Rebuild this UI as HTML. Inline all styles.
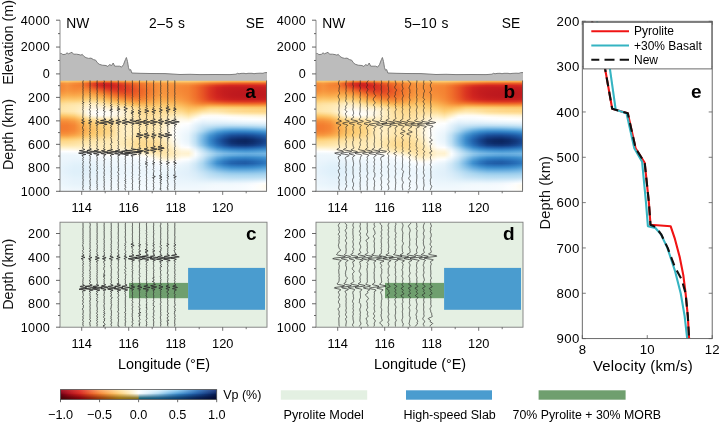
<!DOCTYPE html>
<html lang="en"><head><meta charset="utf-8"><title>Seismic receiver-function figure</title>
<style>html,body{margin:0;padding:0;background:#fff;width:720px;height:424px;overflow:hidden}body{font-family:"Liberation Sans", sans-serif}svg text{font-family:"Liberation Sans", sans-serif}</style></head>
<body>
<svg width="720" height="424" viewBox="0 0 720 424" font-family='"Liberation Sans", sans-serif' style="display:block;will-change:transform;opacity:0.999">
<rect width="720" height="424" fill="#fff"/>
<polygon points="60.0,81.0 60.2,53.4 61.5,53.5 62.9,54.6 65.4,54.3 67.0,52.8 68.5,53.8 70.7,52.8 72.0,52.3 73.5,54.2 76.6,54.2 79.1,54.6 81.0,55.2 82.2,54.3 83.7,56.2 86.0,57.7 88.7,58.4 91.0,58.1 93.5,59.6 95.7,60.2 97.2,62.5 99.1,64.2 102.2,65.2 106.0,65.5 107.9,66.5 109.5,64.6 111.6,65.5 113.2,63.0 114.7,66.2 117.9,66.2 119.7,66.2 121.6,67.1 123.5,64.6 125.4,59.6 126.4,57.5 127.5,61.5 128.5,67.7 129.5,70.2 130.7,69.6 131.8,73.0 140.0,73.3 150.0,73.5 165.0,73.6 172.0,74.0 180.0,74.5 190.0,74.3 200.0,74.6 215.0,74.5 230.0,74.6 236.0,74.2 237.5,73.3 239.0,73.8 241.0,73.4 244.0,73.3 246.0,73.7 248.0,73.3 252.0,73.3 254.0,73.7 256.0,73.4 260.0,73.2 263.0,73.3 264.5,72.7 266.0,72.6 267.0,72.6 267.0,81.0" fill="#bcbcbc" stroke="none"/>
<polyline points="60.2,53.4 61.5,53.5 62.9,54.6 65.4,54.3 67.0,52.8 68.5,53.8 70.7,52.8 72.0,52.3 73.5,54.2 76.6,54.2 79.1,54.6 81.0,55.2 82.2,54.3 83.7,56.2 86.0,57.7 88.7,58.4 91.0,58.1 93.5,59.6 95.7,60.2 97.2,62.5 99.1,64.2 102.2,65.2 106.0,65.5 107.9,66.5 109.5,64.6 111.6,65.5 113.2,63.0 114.7,66.2 117.9,66.2 119.7,66.2 121.6,67.1 123.5,64.6 125.4,59.6 126.4,57.5 127.5,61.5 128.5,67.7 129.5,70.2 130.7,69.6 131.8,73.0 140.0,73.3 150.0,73.5 165.0,73.6 172.0,74.0 180.0,74.5 190.0,74.3 200.0,74.6 215.0,74.5 230.0,74.6 236.0,74.2 237.5,73.3 239.0,73.8 241.0,73.4 244.0,73.3 246.0,73.7 248.0,73.3 252.0,73.3 254.0,73.7 256.0,73.4 260.0,73.2 263.0,73.3 264.5,72.7 266.0,72.6 267.0,72.6" fill="none" stroke="#727272" stroke-width="0.9" stroke-linejoin="round"/>
<clipPath id="clipa"><rect x="60.0" y="80.5" width="207.0" height="110.4"/></clipPath>
<defs><linearGradient id="hg0" x1="0" x2="1" y1="0" y2="0"><stop offset="0.0000" stop-color="#fcbd61"/><stop offset="0.0345" stop-color="#fcc468"/><stop offset="0.0690" stop-color="#fcbc60"/><stop offset="0.1034" stop-color="#fbb75a"/><stop offset="0.1379" stop-color="#f9a146"/><stop offset="0.1724" stop-color="#f58a37"/><stop offset="0.2069" stop-color="#f37f31"/><stop offset="0.2414" stop-color="#f48333"/><stop offset="0.2759" stop-color="#f6903b"/><stop offset="0.3103" stop-color="#f89d43"/><stop offset="0.3448" stop-color="#faa94a"/><stop offset="0.3793" stop-color="#fbb254"/><stop offset="0.4138" stop-color="#fbb85b"/><stop offset="0.4483" stop-color="#fcbe62"/><stop offset="0.4828" stop-color="#fcc468"/><stop offset="0.5172" stop-color="#fcc469"/><stop offset="0.5517" stop-color="#fcc66c"/><stop offset="0.5862" stop-color="#fdc96f"/><stop offset="0.6207" stop-color="#fdc96e"/><stop offset="0.6552" stop-color="#fcc56a"/><stop offset="0.6897" stop-color="#fcbf63"/><stop offset="0.7241" stop-color="#fbb85c"/><stop offset="0.7586" stop-color="#fbb457"/><stop offset="0.7931" stop-color="#fbb052"/><stop offset="0.8276" stop-color="#faad4e"/><stop offset="0.8621" stop-color="#faac4d"/><stop offset="0.8966" stop-color="#faac4d"/><stop offset="0.9310" stop-color="#faac4d"/><stop offset="0.9655" stop-color="#faac4d"/><stop offset="1.0000" stop-color="#faac4d"/></linearGradient><linearGradient id="hg1" x1="0" x2="1" y1="0" y2="0"><stop offset="0.0000" stop-color="#f68e3a"/><stop offset="0.0345" stop-color="#f89a41"/><stop offset="0.0690" stop-color="#f68d39"/><stop offset="0.1034" stop-color="#f48534"/><stop offset="0.1379" stop-color="#ec6026"/><stop offset="0.1724" stop-color="#dd3a22"/><stop offset="0.2069" stop-color="#d42620"/><stop offset="0.2414" stop-color="#d62920"/><stop offset="0.2759" stop-color="#de3d22"/><stop offset="0.3103" stop-color="#e75225"/><stop offset="0.3448" stop-color="#ed6628"/><stop offset="0.3793" stop-color="#f1772e"/><stop offset="0.4138" stop-color="#f48534"/><stop offset="0.4483" stop-color="#f6903b"/><stop offset="0.4828" stop-color="#f89b42"/><stop offset="0.5172" stop-color="#f89c42"/><stop offset="0.5517" stop-color="#f89d43"/><stop offset="0.5862" stop-color="#f8a045"/><stop offset="0.6207" stop-color="#f89e44"/><stop offset="0.6552" stop-color="#f7953e"/><stop offset="0.6897" stop-color="#f58735"/><stop offset="0.7241" stop-color="#f2782e"/><stop offset="0.7586" stop-color="#ef6d2b"/><stop offset="0.7931" stop-color="#ed6528"/><stop offset="0.8276" stop-color="#eb5d26"/><stop offset="0.8621" stop-color="#ea5b26"/><stop offset="0.8966" stop-color="#ea5b26"/><stop offset="0.9310" stop-color="#ea5b26"/><stop offset="0.9655" stop-color="#ea5c26"/><stop offset="1.0000" stop-color="#eb5d26"/></linearGradient><linearGradient id="hg2" x1="0" x2="1" y1="0" y2="0"><stop offset="0.0000" stop-color="#f48534"/><stop offset="0.0345" stop-color="#f6913c"/><stop offset="0.0690" stop-color="#f48433"/><stop offset="0.1034" stop-color="#f37f31"/><stop offset="0.1379" stop-color="#eb5e26"/><stop offset="0.1724" stop-color="#db3621"/><stop offset="0.2069" stop-color="#cd221f"/><stop offset="0.2414" stop-color="#cb211f"/><stop offset="0.2759" stop-color="#d62920"/><stop offset="0.3103" stop-color="#de3c22"/><stop offset="0.3448" stop-color="#e65224"/><stop offset="0.3793" stop-color="#ee6929"/><stop offset="0.4138" stop-color="#f2792f"/><stop offset="0.4483" stop-color="#f58735"/><stop offset="0.4828" stop-color="#f7943d"/><stop offset="0.5172" stop-color="#f7933d"/><stop offset="0.5517" stop-color="#f6913b"/><stop offset="0.5862" stop-color="#f68d39"/><stop offset="0.6207" stop-color="#f58936"/><stop offset="0.6552" stop-color="#f2782f"/><stop offset="0.6897" stop-color="#ed6327"/><stop offset="0.7241" stop-color="#e44c24"/><stop offset="0.7586" stop-color="#dd3922"/><stop offset="0.7931" stop-color="#d82e21"/><stop offset="0.8276" stop-color="#d62820"/><stop offset="0.8621" stop-color="#d52820"/><stop offset="0.8966" stop-color="#d52720"/><stop offset="0.9310" stop-color="#d52720"/><stop offset="0.9655" stop-color="#d62920"/><stop offset="1.0000" stop-color="#d82c20"/></linearGradient><linearGradient id="hg3" x1="0" x2="1" y1="0" y2="0"><stop offset="0.0000" stop-color="#f48534"/><stop offset="0.0345" stop-color="#f6923c"/><stop offset="0.0690" stop-color="#f58635"/><stop offset="0.1034" stop-color="#f48534"/><stop offset="0.1379" stop-color="#ef6e2b"/><stop offset="0.1724" stop-color="#e44c24"/><stop offset="0.2069" stop-color="#da3121"/><stop offset="0.2414" stop-color="#d52720"/><stop offset="0.2759" stop-color="#d72c20"/><stop offset="0.3103" stop-color="#dd3922"/><stop offset="0.3448" stop-color="#e44c24"/><stop offset="0.3793" stop-color="#ed6427"/><stop offset="0.4138" stop-color="#f1752e"/><stop offset="0.4483" stop-color="#f58634"/><stop offset="0.4828" stop-color="#f7943d"/><stop offset="0.5172" stop-color="#f7933c"/><stop offset="0.5517" stop-color="#f68e39"/><stop offset="0.5862" stop-color="#f58836"/><stop offset="0.6207" stop-color="#f48332"/><stop offset="0.6552" stop-color="#f06f2b"/><stop offset="0.6897" stop-color="#e85625"/><stop offset="0.7241" stop-color="#dd3a22"/><stop offset="0.7586" stop-color="#d32620"/><stop offset="0.7931" stop-color="#ca201f"/><stop offset="0.8276" stop-color="#c61e1f"/><stop offset="0.8621" stop-color="#c51d1e"/><stop offset="0.8966" stop-color="#c51d1e"/><stop offset="0.9310" stop-color="#c51d1e"/><stop offset="0.9655" stop-color="#c61e1f"/><stop offset="1.0000" stop-color="#ca201f"/></linearGradient><linearGradient id="hg4" x1="0" x2="1" y1="0" y2="0"><stop offset="0.0000" stop-color="#f58634"/><stop offset="0.0345" stop-color="#f7933d"/><stop offset="0.0690" stop-color="#f58b37"/><stop offset="0.1034" stop-color="#f68c38"/><stop offset="0.1379" stop-color="#f38031"/><stop offset="0.1724" stop-color="#ee6829"/><stop offset="0.2069" stop-color="#e54e24"/><stop offset="0.2414" stop-color="#dd3922"/><stop offset="0.2759" stop-color="#db3521"/><stop offset="0.3103" stop-color="#dd3b22"/><stop offset="0.3448" stop-color="#e34924"/><stop offset="0.3793" stop-color="#eb5e26"/><stop offset="0.4138" stop-color="#f0712c"/><stop offset="0.4483" stop-color="#f48433"/><stop offset="0.4828" stop-color="#f7943d"/><stop offset="0.5172" stop-color="#f6923c"/><stop offset="0.5517" stop-color="#f68d39"/><stop offset="0.5862" stop-color="#f58836"/><stop offset="0.6207" stop-color="#f48232"/><stop offset="0.6552" stop-color="#f06f2b"/><stop offset="0.6897" stop-color="#e75425"/><stop offset="0.7241" stop-color="#dc3622"/><stop offset="0.7586" stop-color="#cf241f"/><stop offset="0.7931" stop-color="#c61e1f"/><stop offset="0.8276" stop-color="#c31c1e"/><stop offset="0.8621" stop-color="#c11b1e"/><stop offset="0.8966" stop-color="#c01a1e"/><stop offset="0.9310" stop-color="#c01a1e"/><stop offset="0.9655" stop-color="#c21b1e"/><stop offset="1.0000" stop-color="#c51d1e"/></linearGradient><linearGradient id="hg5" x1="0" x2="1" y1="0" y2="0"><stop offset="0.0000" stop-color="#f68d39"/><stop offset="0.0345" stop-color="#f79940"/><stop offset="0.0690" stop-color="#f6933c"/><stop offset="0.1034" stop-color="#f7963e"/><stop offset="0.1379" stop-color="#f6913b"/><stop offset="0.1724" stop-color="#f37f31"/><stop offset="0.2069" stop-color="#ee6929"/><stop offset="0.2414" stop-color="#e65124"/><stop offset="0.2759" stop-color="#e14523"/><stop offset="0.3103" stop-color="#e14423"/><stop offset="0.3448" stop-color="#e54d24"/><stop offset="0.3793" stop-color="#ec5f26"/><stop offset="0.4138" stop-color="#f0722c"/><stop offset="0.4483" stop-color="#f48534"/><stop offset="0.4828" stop-color="#f7953e"/><stop offset="0.5172" stop-color="#f6933c"/><stop offset="0.5517" stop-color="#f68e3a"/><stop offset="0.5862" stop-color="#f58937"/><stop offset="0.6207" stop-color="#f48332"/><stop offset="0.6552" stop-color="#f06f2b"/><stop offset="0.6897" stop-color="#e75425"/><stop offset="0.7241" stop-color="#db3521"/><stop offset="0.7586" stop-color="#ce231f"/><stop offset="0.7931" stop-color="#c51d1e"/><stop offset="0.8276" stop-color="#c11b1e"/><stop offset="0.8621" stop-color="#bf191e"/><stop offset="0.8966" stop-color="#be191e"/><stop offset="0.9310" stop-color="#be191e"/><stop offset="0.9655" stop-color="#bf1a1e"/><stop offset="1.0000" stop-color="#c31c1e"/></linearGradient><linearGradient id="hg6" x1="0" x2="1" y1="0" y2="0"><stop offset="0.0000" stop-color="#f7973f"/><stop offset="0.0345" stop-color="#f9a246"/><stop offset="0.0690" stop-color="#f89d43"/><stop offset="0.1034" stop-color="#f9a146"/><stop offset="0.1379" stop-color="#f9a246"/><stop offset="0.1724" stop-color="#f7953e"/><stop offset="0.2069" stop-color="#f48132"/><stop offset="0.2414" stop-color="#ee6a2a"/><stop offset="0.2759" stop-color="#e95a25"/><stop offset="0.3103" stop-color="#e75225"/><stop offset="0.3448" stop-color="#e85525"/><stop offset="0.3793" stop-color="#ed6327"/><stop offset="0.4138" stop-color="#f1742d"/><stop offset="0.4483" stop-color="#f58835"/><stop offset="0.4828" stop-color="#f79840"/><stop offset="0.5172" stop-color="#f7943e"/><stop offset="0.5517" stop-color="#f6903b"/><stop offset="0.5862" stop-color="#f58c38"/><stop offset="0.6207" stop-color="#f48333"/><stop offset="0.6552" stop-color="#f06f2b"/><stop offset="0.6897" stop-color="#e75425"/><stop offset="0.7241" stop-color="#db3521"/><stop offset="0.7586" stop-color="#ce231f"/><stop offset="0.7931" stop-color="#c51d1e"/><stop offset="0.8276" stop-color="#c01a1e"/><stop offset="0.8621" stop-color="#be191e"/><stop offset="0.8966" stop-color="#bd181e"/><stop offset="0.9310" stop-color="#bd181e"/><stop offset="0.9655" stop-color="#be191e"/><stop offset="1.0000" stop-color="#c21b1e"/></linearGradient><linearGradient id="hg7" x1="0" x2="1" y1="0" y2="0"><stop offset="0.0000" stop-color="#f9a447"/><stop offset="0.0345" stop-color="#faad4e"/><stop offset="0.0690" stop-color="#faaa4b"/><stop offset="0.1034" stop-color="#faae4f"/><stop offset="0.1379" stop-color="#fbb254"/><stop offset="0.1724" stop-color="#faab4c"/><stop offset="0.2069" stop-color="#f79940"/><stop offset="0.2414" stop-color="#f48232"/><stop offset="0.2759" stop-color="#ef6f2b"/><stop offset="0.3103" stop-color="#ed6427"/><stop offset="0.3448" stop-color="#ec6126"/><stop offset="0.3793" stop-color="#ee6929"/><stop offset="0.4138" stop-color="#f2792f"/><stop offset="0.4483" stop-color="#f68c38"/><stop offset="0.4828" stop-color="#f89c42"/><stop offset="0.5172" stop-color="#f79840"/><stop offset="0.5517" stop-color="#f7933d"/><stop offset="0.5862" stop-color="#f68f3a"/><stop offset="0.6207" stop-color="#f48534"/><stop offset="0.6552" stop-color="#f0702c"/><stop offset="0.6897" stop-color="#e85525"/><stop offset="0.7241" stop-color="#db3621"/><stop offset="0.7586" stop-color="#d0241f"/><stop offset="0.7931" stop-color="#c61e1f"/><stop offset="0.8276" stop-color="#c11a1e"/><stop offset="0.8621" stop-color="#be191e"/><stop offset="0.8966" stop-color="#bd181e"/><stop offset="0.9310" stop-color="#bd181e"/><stop offset="0.9655" stop-color="#bf191e"/><stop offset="1.0000" stop-color="#c21c1e"/></linearGradient><linearGradient id="hg8" x1="0" x2="1" y1="0" y2="0"><stop offset="0.0000" stop-color="#fbb356"/><stop offset="0.0345" stop-color="#fbba5e"/><stop offset="0.0690" stop-color="#fbb85b"/><stop offset="0.1034" stop-color="#fcbc5f"/><stop offset="0.1379" stop-color="#fcc267"/><stop offset="0.1724" stop-color="#fcbc60"/><stop offset="0.2069" stop-color="#faaf50"/><stop offset="0.2414" stop-color="#f89a41"/><stop offset="0.2759" stop-color="#f58735"/><stop offset="0.3103" stop-color="#f2792f"/><stop offset="0.3448" stop-color="#f0722c"/><stop offset="0.3793" stop-color="#f1742d"/><stop offset="0.4138" stop-color="#f48232"/><stop offset="0.4483" stop-color="#f7933d"/><stop offset="0.4828" stop-color="#f9a447"/><stop offset="0.5172" stop-color="#f89e44"/><stop offset="0.5517" stop-color="#f79940"/><stop offset="0.5862" stop-color="#f7933d"/><stop offset="0.6207" stop-color="#f58735"/><stop offset="0.6552" stop-color="#f0722c"/><stop offset="0.6897" stop-color="#e95725"/><stop offset="0.7241" stop-color="#dd3922"/><stop offset="0.7586" stop-color="#d32620"/><stop offset="0.7931" stop-color="#ca201f"/><stop offset="0.8276" stop-color="#c41c1e"/><stop offset="0.8621" stop-color="#c21b1e"/><stop offset="0.8966" stop-color="#c01a1e"/><stop offset="0.9310" stop-color="#c01a1e"/><stop offset="0.9655" stop-color="#c21b1e"/><stop offset="1.0000" stop-color="#c51d1e"/></linearGradient><linearGradient id="hg9" x1="0" x2="1" y1="0" y2="0"><stop offset="0.0000" stop-color="#fcc267"/><stop offset="0.0345" stop-color="#fdc86e"/><stop offset="0.0690" stop-color="#fdc76c"/><stop offset="0.1034" stop-color="#fdca70"/><stop offset="0.1379" stop-color="#fdd27e"/><stop offset="0.1724" stop-color="#fdce76"/><stop offset="0.2069" stop-color="#fcc266"/><stop offset="0.2414" stop-color="#fbb152"/><stop offset="0.2759" stop-color="#f89f44"/><stop offset="0.3103" stop-color="#f6903b"/><stop offset="0.3448" stop-color="#f48534"/><stop offset="0.3793" stop-color="#f48232"/><stop offset="0.4138" stop-color="#f68c38"/><stop offset="0.4483" stop-color="#f89c42"/><stop offset="0.4828" stop-color="#faac4d"/><stop offset="0.5172" stop-color="#f9a649"/><stop offset="0.5517" stop-color="#f9a045"/><stop offset="0.5862" stop-color="#f79941"/><stop offset="0.6207" stop-color="#f58b38"/><stop offset="0.6552" stop-color="#f1762e"/><stop offset="0.6897" stop-color="#eb5c26"/><stop offset="0.7241" stop-color="#df4023"/><stop offset="0.7586" stop-color="#d82e21"/><stop offset="0.7931" stop-color="#d12520"/><stop offset="0.8276" stop-color="#cb211f"/><stop offset="0.8621" stop-color="#c91f1f"/><stop offset="0.8966" stop-color="#c71f1f"/><stop offset="0.9310" stop-color="#c71f1f"/><stop offset="0.9655" stop-color="#c9201f"/><stop offset="1.0000" stop-color="#cd221f"/></linearGradient><linearGradient id="hg10" x1="0" x2="1" y1="0" y2="0"><stop offset="0.0000" stop-color="#fdd079"/><stop offset="0.0345" stop-color="#fed585"/><stop offset="0.0690" stop-color="#fed585"/><stop offset="0.1034" stop-color="#fed88c"/><stop offset="0.1379" stop-color="#fee09d"/><stop offset="0.1724" stop-color="#fedd97"/><stop offset="0.2069" stop-color="#fdd483"/><stop offset="0.2414" stop-color="#fcc56a"/><stop offset="0.2759" stop-color="#fbb95c"/><stop offset="0.3103" stop-color="#faac4d"/><stop offset="0.3448" stop-color="#f89e44"/><stop offset="0.3793" stop-color="#f7963f"/><stop offset="0.4138" stop-color="#f89c42"/><stop offset="0.4483" stop-color="#faa94b"/><stop offset="0.4828" stop-color="#fbb558"/><stop offset="0.5172" stop-color="#fbb153"/><stop offset="0.5517" stop-color="#faac4d"/><stop offset="0.5862" stop-color="#f9a347"/><stop offset="0.6207" stop-color="#f7943d"/><stop offset="0.6552" stop-color="#f37f31"/><stop offset="0.6897" stop-color="#ee6a2a"/><stop offset="0.7241" stop-color="#e95825"/><stop offset="0.7586" stop-color="#e34a24"/><stop offset="0.7931" stop-color="#df4023"/><stop offset="0.8276" stop-color="#dd3922"/><stop offset="0.8621" stop-color="#db3621"/><stop offset="0.8966" stop-color="#db3421"/><stop offset="0.9310" stop-color="#db3421"/><stop offset="0.9655" stop-color="#dc3622"/><stop offset="1.0000" stop-color="#dd3b22"/></linearGradient><linearGradient id="hg11" x1="0" x2="1" y1="0" y2="0"><stop offset="0.0000" stop-color="#feda90"/><stop offset="0.0345" stop-color="#fedf9c"/><stop offset="0.0690" stop-color="#fee1a0"/><stop offset="0.1034" stop-color="#ffe5a9"/><stop offset="0.1379" stop-color="#ffecbb"/><stop offset="0.1724" stop-color="#ffebb8"/><stop offset="0.2069" stop-color="#ffe4a6"/><stop offset="0.2414" stop-color="#fed88c"/><stop offset="0.2759" stop-color="#fdd07a"/><stop offset="0.3103" stop-color="#fcc56a"/><stop offset="0.3448" stop-color="#fbb85a"/><stop offset="0.3793" stop-color="#faae4f"/><stop offset="0.4138" stop-color="#faaf50"/><stop offset="0.4483" stop-color="#fbb659"/><stop offset="0.4828" stop-color="#fcc065"/><stop offset="0.5172" stop-color="#fcbe62"/><stop offset="0.5517" stop-color="#fbb85b"/><stop offset="0.5862" stop-color="#faaf51"/><stop offset="0.6207" stop-color="#f89f44"/><stop offset="0.6552" stop-color="#f68c38"/><stop offset="0.6897" stop-color="#f38031"/><stop offset="0.7241" stop-color="#f27b2f"/><stop offset="0.7586" stop-color="#f0722c"/><stop offset="0.7931" stop-color="#ef6b2a"/><stop offset="0.8276" stop-color="#ed6628"/><stop offset="0.8621" stop-color="#ed6427"/><stop offset="0.8966" stop-color="#ed6227"/><stop offset="0.9310" stop-color="#ed6227"/><stop offset="0.9655" stop-color="#ed6427"/><stop offset="1.0000" stop-color="#ee6829"/></linearGradient><linearGradient id="hg12" x1="0" x2="1" y1="0" y2="0"><stop offset="0.0000" stop-color="#fee09d"/><stop offset="0.0345" stop-color="#ffe5a8"/><stop offset="0.0690" stop-color="#ffe7ae"/><stop offset="0.1034" stop-color="#ffebb8"/><stop offset="0.1379" stop-color="#fff2ce"/><stop offset="0.1724" stop-color="#fff2d0"/><stop offset="0.2069" stop-color="#ffeec1"/><stop offset="0.2414" stop-color="#ffe6aa"/><stop offset="0.2759" stop-color="#fee19f"/><stop offset="0.3103" stop-color="#fed98d"/><stop offset="0.3448" stop-color="#fdce75"/><stop offset="0.3793" stop-color="#fcc367"/><stop offset="0.4138" stop-color="#fcc065"/><stop offset="0.4483" stop-color="#fcc469"/><stop offset="0.4828" stop-color="#fdcc71"/><stop offset="0.5172" stop-color="#fdc96f"/><stop offset="0.5517" stop-color="#fcc368"/><stop offset="0.5862" stop-color="#fbbb5e"/><stop offset="0.6207" stop-color="#faad4e"/><stop offset="0.6552" stop-color="#f9a246"/><stop offset="0.6897" stop-color="#f89f44"/><stop offset="0.7241" stop-color="#f9a649"/><stop offset="0.7586" stop-color="#f9a347"/><stop offset="0.7931" stop-color="#f89f44"/><stop offset="0.8276" stop-color="#f89c42"/><stop offset="0.8621" stop-color="#f89a41"/><stop offset="0.8966" stop-color="#f79840"/><stop offset="0.9310" stop-color="#f7973f"/><stop offset="0.9655" stop-color="#f79840"/><stop offset="1.0000" stop-color="#f89a41"/></linearGradient><linearGradient id="hg13" x1="0" x2="1" y1="0" y2="0"><stop offset="0.0000" stop-color="#fee3a4"/><stop offset="0.0345" stop-color="#ffe7ad"/><stop offset="0.0690" stop-color="#ffeab3"/><stop offset="0.1034" stop-color="#ffedc0"/><stop offset="0.1379" stop-color="#fff5d9"/><stop offset="0.1724" stop-color="#fff6de"/><stop offset="0.2069" stop-color="#fff4d6"/><stop offset="0.2414" stop-color="#ffefc6"/><stop offset="0.2759" stop-color="#ffeec0"/><stop offset="0.3103" stop-color="#ffe8b1"/><stop offset="0.3448" stop-color="#fedf9b"/><stop offset="0.3793" stop-color="#fed584"/><stop offset="0.4138" stop-color="#fdd07a"/><stop offset="0.4483" stop-color="#fdd17c"/><stop offset="0.4828" stop-color="#fed483"/><stop offset="0.5172" stop-color="#fdd27f"/><stop offset="0.5517" stop-color="#fdce76"/><stop offset="0.5862" stop-color="#fcc76c"/><stop offset="0.6207" stop-color="#fbba5d"/><stop offset="0.6552" stop-color="#fbb75a"/><stop offset="0.6897" stop-color="#fcbe62"/><stop offset="0.7241" stop-color="#fdcb71"/><stop offset="0.7586" stop-color="#fdcd73"/><stop offset="0.7931" stop-color="#fdcb71"/><stop offset="0.8276" stop-color="#fdc96f"/><stop offset="0.8621" stop-color="#fdc86d"/><stop offset="0.8966" stop-color="#fcc66b"/><stop offset="0.9310" stop-color="#fcc56a"/><stop offset="0.9655" stop-color="#fcc469"/><stop offset="1.0000" stop-color="#fcc56a"/></linearGradient><linearGradient id="hg14" x1="0" x2="1" y1="0" y2="0"><stop offset="0.0000" stop-color="#ffe4a6"/><stop offset="0.0345" stop-color="#ffe8af"/><stop offset="0.0690" stop-color="#ffeab5"/><stop offset="0.1034" stop-color="#ffefc6"/><stop offset="0.1379" stop-color="#fff8e5"/><stop offset="0.1724" stop-color="#fffaed"/><stop offset="0.2069" stop-color="#fff9e9"/><stop offset="0.2414" stop-color="#fff6dd"/><stop offset="0.2759" stop-color="#fff4d8"/><stop offset="0.3103" stop-color="#fff0c8"/><stop offset="0.3448" stop-color="#ffe8af"/><stop offset="0.3793" stop-color="#fedc95"/><stop offset="0.4138" stop-color="#fed78a"/><stop offset="0.4483" stop-color="#fed688"/><stop offset="0.4828" stop-color="#fed98e"/><stop offset="0.5172" stop-color="#fed88b"/><stop offset="0.5517" stop-color="#fed686"/><stop offset="0.5862" stop-color="#fdd17c"/><stop offset="0.6207" stop-color="#fcc56a"/><stop offset="0.6552" stop-color="#fdc96e"/><stop offset="0.6897" stop-color="#fdd380"/><stop offset="0.7241" stop-color="#fedd97"/><stop offset="0.7586" stop-color="#fede99"/><stop offset="0.7931" stop-color="#fedc94"/><stop offset="0.8276" stop-color="#fed98d"/><stop offset="0.8621" stop-color="#fed789"/><stop offset="0.8966" stop-color="#fed585"/><stop offset="0.9310" stop-color="#fdd482"/><stop offset="0.9655" stop-color="#fdd380"/><stop offset="1.0000" stop-color="#fdd380"/></linearGradient><linearGradient id="hg15" x1="0" x2="1" y1="0" y2="0"><stop offset="0.0000" stop-color="#fee2a2"/><stop offset="0.0345" stop-color="#ffe6ab"/><stop offset="0.0690" stop-color="#ffe9b2"/><stop offset="0.1034" stop-color="#fff0c9"/><stop offset="0.1379" stop-color="#fffbef"/><stop offset="0.1724" stop-color="#fffef9"/><stop offset="0.2069" stop-color="#fffdf6"/><stop offset="0.2414" stop-color="#fffaed"/><stop offset="0.2759" stop-color="#fff8e6"/><stop offset="0.3103" stop-color="#fff3d3"/><stop offset="0.3448" stop-color="#ffebb6"/><stop offset="0.3793" stop-color="#fedf9b"/><stop offset="0.4138" stop-color="#feda8f"/><stop offset="0.4483" stop-color="#fed98e"/><stop offset="0.4828" stop-color="#fedc94"/><stop offset="0.5172" stop-color="#fedc94"/><stop offset="0.5517" stop-color="#fedc95"/><stop offset="0.5862" stop-color="#feda90"/><stop offset="0.6207" stop-color="#fdcf77"/><stop offset="0.6552" stop-color="#fed688"/><stop offset="0.6897" stop-color="#fee1a1"/><stop offset="0.7241" stop-color="#ffe7ae"/><stop offset="0.7586" stop-color="#ffe6ab"/><stop offset="0.7931" stop-color="#fee2a2"/><stop offset="0.8276" stop-color="#fedd97"/><stop offset="0.8621" stop-color="#feda91"/><stop offset="0.8966" stop-color="#fed88c"/><stop offset="0.9310" stop-color="#fed789"/><stop offset="0.9655" stop-color="#fed687"/><stop offset="1.0000" stop-color="#fed687"/></linearGradient><linearGradient id="hg16" x1="0" x2="1" y1="0" y2="0"><stop offset="0.0000" stop-color="#fed789"/><stop offset="0.0345" stop-color="#fedb93"/><stop offset="0.0690" stop-color="#fee09e"/><stop offset="0.1034" stop-color="#ffecbb"/><stop offset="0.1379" stop-color="#fffaec"/><stop offset="0.1724" stop-color="#fffefc"/><stop offset="0.2069" stop-color="#fffefb"/><stop offset="0.2414" stop-color="#fffcf3"/><stop offset="0.2759" stop-color="#fff9e8"/><stop offset="0.3103" stop-color="#fff3d4"/><stop offset="0.3448" stop-color="#ffecba"/><stop offset="0.3793" stop-color="#fee1a0"/><stop offset="0.4138" stop-color="#fedc95"/><stop offset="0.4483" stop-color="#fedc95"/><stop offset="0.4828" stop-color="#fedf9b"/><stop offset="0.5172" stop-color="#fee1a0"/><stop offset="0.5517" stop-color="#ffe4a6"/><stop offset="0.5862" stop-color="#ffe3a5"/><stop offset="0.6207" stop-color="#fed98e"/><stop offset="0.6552" stop-color="#ffe3a5"/><stop offset="0.6897" stop-color="#ffefc4"/><stop offset="0.7241" stop-color="#fff2cf"/><stop offset="0.7586" stop-color="#fff1cc"/><stop offset="0.7931" stop-color="#ffeec1"/><stop offset="0.8276" stop-color="#ffeab3"/><stop offset="0.8621" stop-color="#ffe7ae"/><stop offset="0.8966" stop-color="#ffe5a9"/><stop offset="0.9310" stop-color="#ffe4a6"/><stop offset="0.9655" stop-color="#ffe3a4"/><stop offset="1.0000" stop-color="#fee2a3"/></linearGradient><linearGradient id="hg17" x1="0" x2="1" y1="0" y2="0"><stop offset="0.0000" stop-color="#fcc56a"/><stop offset="0.0345" stop-color="#fdcb70"/><stop offset="0.0690" stop-color="#fdd27e"/><stop offset="0.1034" stop-color="#ffe3a5"/><stop offset="0.1379" stop-color="#fff6dd"/><stop offset="0.1724" stop-color="#fffcf3"/><stop offset="0.2069" stop-color="#fffdf6"/><stop offset="0.2414" stop-color="#fffbee"/><stop offset="0.2759" stop-color="#fff7e2"/><stop offset="0.3103" stop-color="#fff2d0"/><stop offset="0.3448" stop-color="#ffecbb"/><stop offset="0.3793" stop-color="#ffe3a4"/><stop offset="0.4138" stop-color="#fedf9b"/><stop offset="0.4483" stop-color="#fedf9c"/><stop offset="0.4828" stop-color="#fee2a3"/><stop offset="0.5172" stop-color="#ffe6ac"/><stop offset="0.5517" stop-color="#ffebb8"/><stop offset="0.5862" stop-color="#ffedbd"/><stop offset="0.6207" stop-color="#ffe4a6"/><stop offset="0.6552" stop-color="#ffefc5"/><stop offset="0.6897" stop-color="#fffaeb"/><stop offset="0.7241" stop-color="#fffcf3"/><stop offset="0.7586" stop-color="#fffcf2"/><stop offset="0.7931" stop-color="#fffaed"/><stop offset="0.8276" stop-color="#fff8e4"/><stop offset="0.8621" stop-color="#fff6df"/><stop offset="0.8966" stop-color="#fff5da"/><stop offset="0.9310" stop-color="#fff4d7"/><stop offset="0.9655" stop-color="#fff3d3"/><stop offset="1.0000" stop-color="#fff2d0"/></linearGradient><linearGradient id="hg18" x1="0" x2="1" y1="0" y2="0"><stop offset="0.0000" stop-color="#fbb153"/><stop offset="0.0345" stop-color="#fbb558"/><stop offset="0.0690" stop-color="#fcbe62"/><stop offset="0.1034" stop-color="#fed585"/><stop offset="0.1379" stop-color="#ffeab5"/><stop offset="0.1724" stop-color="#fff2cf"/><stop offset="0.2069" stop-color="#fff4d6"/><stop offset="0.2414" stop-color="#fff3d2"/><stop offset="0.2759" stop-color="#fff2d1"/><stop offset="0.3103" stop-color="#fff0ca"/><stop offset="0.3448" stop-color="#ffecbb"/><stop offset="0.3793" stop-color="#ffe4a7"/><stop offset="0.4138" stop-color="#fee1a0"/><stop offset="0.4483" stop-color="#fee2a2"/><stop offset="0.4828" stop-color="#ffe5a9"/><stop offset="0.5172" stop-color="#ffebb7"/><stop offset="0.5517" stop-color="#fff0ca"/><stop offset="0.5862" stop-color="#fff3d4"/><stop offset="0.6207" stop-color="#ffeec1"/><stop offset="0.6552" stop-color="#fff8e4"/><stop offset="0.6897" stop-color="#fdfeff"/><stop offset="0.7241" stop-color="#fbfdfe"/><stop offset="0.7586" stop-color="#fbfdfe"/><stop offset="0.7931" stop-color="#fdfeff"/><stop offset="0.8276" stop-color="#fffefc"/><stop offset="0.8621" stop-color="#fffdf9"/><stop offset="0.8966" stop-color="#fffcf5"/><stop offset="0.9310" stop-color="#fffcf2"/><stop offset="0.9655" stop-color="#fffbef"/><stop offset="1.0000" stop-color="#fffaed"/></linearGradient><linearGradient id="hg19" x1="0" x2="1" y1="0" y2="0"><stop offset="0.0000" stop-color="#f89b42"/><stop offset="0.0345" stop-color="#f89e43"/><stop offset="0.0690" stop-color="#faaa4b"/><stop offset="0.1034" stop-color="#fcc368"/><stop offset="0.1379" stop-color="#fed98f"/><stop offset="0.1724" stop-color="#fee2a2"/><stop offset="0.2069" stop-color="#ffe5aa"/><stop offset="0.2414" stop-color="#ffe7ad"/><stop offset="0.2759" stop-color="#ffedbd"/><stop offset="0.3103" stop-color="#ffefc4"/><stop offset="0.3448" stop-color="#ffecbc"/><stop offset="0.3793" stop-color="#ffe5a9"/><stop offset="0.4138" stop-color="#ffe3a4"/><stop offset="0.4483" stop-color="#ffe4a6"/><stop offset="0.4828" stop-color="#ffe7ae"/><stop offset="0.5172" stop-color="#ffeec1"/><stop offset="0.5517" stop-color="#fff4d7"/><stop offset="0.5862" stop-color="#fff8e6"/><stop offset="0.6207" stop-color="#fff6dd"/><stop offset="0.6552" stop-color="#fffefc"/><stop offset="0.6897" stop-color="#f3f9fd"/><stop offset="0.7241" stop-color="#f4fafd"/><stop offset="0.7586" stop-color="#f4fafd"/><stop offset="0.7931" stop-color="#f6fbfe"/><stop offset="0.8276" stop-color="#f9fcfe"/><stop offset="0.8621" stop-color="#fbfdfe"/><stop offset="0.8966" stop-color="#fcfeff"/><stop offset="0.9310" stop-color="#feffff"/><stop offset="0.9655" stop-color="#fffffe"/><stop offset="1.0000" stop-color="#fffefd"/></linearGradient><linearGradient id="hg20" x1="0" x2="1" y1="0" y2="0"><stop offset="0.0000" stop-color="#f58c38"/><stop offset="0.0345" stop-color="#f68e39"/><stop offset="0.0690" stop-color="#f79940"/><stop offset="0.1034" stop-color="#fbb759"/><stop offset="0.1379" stop-color="#fdce76"/><stop offset="0.1724" stop-color="#fed88b"/><stop offset="0.2069" stop-color="#fedc95"/><stop offset="0.2414" stop-color="#fee09d"/><stop offset="0.2759" stop-color="#ffeab4"/><stop offset="0.3103" stop-color="#ffeec1"/><stop offset="0.3448" stop-color="#ffecbc"/><stop offset="0.3793" stop-color="#ffe6ab"/><stop offset="0.4138" stop-color="#ffe4a6"/><stop offset="0.4483" stop-color="#ffe5a9"/><stop offset="0.4828" stop-color="#ffe9b2"/><stop offset="0.5172" stop-color="#fff0c9"/><stop offset="0.5517" stop-color="#fff7e1"/><stop offset="0.5862" stop-color="#fffbf1"/><stop offset="0.6207" stop-color="#fffbf0"/><stop offset="0.6552" stop-color="#f6fbfe"/><stop offset="0.6897" stop-color="#e8f4fc"/><stop offset="0.7241" stop-color="#e9f5fc"/><stop offset="0.7586" stop-color="#e8f4fc"/><stop offset="0.7931" stop-color="#e9f5fc"/><stop offset="0.8276" stop-color="#ecf6fc"/><stop offset="0.8621" stop-color="#eef7fd"/><stop offset="0.8966" stop-color="#eff8fd"/><stop offset="0.9310" stop-color="#f1f9fd"/><stop offset="0.9655" stop-color="#f3f9fd"/><stop offset="1.0000" stop-color="#f4fafe"/></linearGradient><linearGradient id="hg21" x1="0" x2="1" y1="0" y2="0"><stop offset="0.0000" stop-color="#f48332"/><stop offset="0.0345" stop-color="#f48433"/><stop offset="0.0690" stop-color="#f68e3a"/><stop offset="0.1034" stop-color="#faae4f"/><stop offset="0.1379" stop-color="#fcc66b"/><stop offset="0.1724" stop-color="#fdd17d"/><stop offset="0.2069" stop-color="#fed789"/><stop offset="0.2414" stop-color="#fedc95"/><stop offset="0.2759" stop-color="#ffe9b1"/><stop offset="0.3103" stop-color="#ffeec1"/><stop offset="0.3448" stop-color="#ffecbc"/><stop offset="0.3793" stop-color="#ffe7ac"/><stop offset="0.4138" stop-color="#ffe5a9"/><stop offset="0.4483" stop-color="#ffe6ab"/><stop offset="0.4828" stop-color="#ffeab4"/><stop offset="0.5172" stop-color="#fff2cf"/><stop offset="0.5517" stop-color="#fff9e9"/><stop offset="0.5862" stop-color="#fffefa"/><stop offset="0.6207" stop-color="#ffffff"/><stop offset="0.6552" stop-color="#ecf6fc"/><stop offset="0.6897" stop-color="#ddeefa"/><stop offset="0.7241" stop-color="#ddeef9"/><stop offset="0.7586" stop-color="#daedf9"/><stop offset="0.7931" stop-color="#d9ecf9"/><stop offset="0.8276" stop-color="#daedf9"/><stop offset="0.8621" stop-color="#dceef9"/><stop offset="0.8966" stop-color="#deeffa"/><stop offset="0.9310" stop-color="#dff0fa"/><stop offset="0.9655" stop-color="#e2f1fa"/><stop offset="1.0000" stop-color="#e5f2fb"/></linearGradient><linearGradient id="hg22" x1="0" x2="1" y1="0" y2="0"><stop offset="0.0000" stop-color="#f37c30"/><stop offset="0.0345" stop-color="#f37e30"/><stop offset="0.0690" stop-color="#f58735"/><stop offset="0.1034" stop-color="#faa749"/><stop offset="0.1379" stop-color="#fcc064"/><stop offset="0.1724" stop-color="#fdcd73"/><stop offset="0.2069" stop-color="#fdd381"/><stop offset="0.2414" stop-color="#fed98e"/><stop offset="0.2759" stop-color="#ffe8b0"/><stop offset="0.3103" stop-color="#ffeec1"/><stop offset="0.3448" stop-color="#ffedbd"/><stop offset="0.3793" stop-color="#ffe7ae"/><stop offset="0.4138" stop-color="#ffe6ab"/><stop offset="0.4483" stop-color="#ffe7ad"/><stop offset="0.4828" stop-color="#ffebb7"/><stop offset="0.5172" stop-color="#fff3d4"/><stop offset="0.5517" stop-color="#fffbef"/><stop offset="0.5862" stop-color="#fefeff"/><stop offset="0.6207" stop-color="#f9fcfe"/><stop offset="0.6552" stop-color="#e4f2fb"/><stop offset="0.6897" stop-color="#d1e8f7"/><stop offset="0.7241" stop-color="#cbe6f6"/><stop offset="0.7586" stop-color="#c4e2f5"/><stop offset="0.7931" stop-color="#c0e0f4"/><stop offset="0.8276" stop-color="#bee0f4"/><stop offset="0.8621" stop-color="#c0e0f4"/><stop offset="0.8966" stop-color="#c1e1f4"/><stop offset="0.9310" stop-color="#c4e3f5"/><stop offset="0.9655" stop-color="#c8e5f6"/><stop offset="1.0000" stop-color="#cde7f7"/></linearGradient><linearGradient id="hg23" x1="0" x2="1" y1="0" y2="0"><stop offset="0.0000" stop-color="#f27b30"/><stop offset="0.0345" stop-color="#f37d30"/><stop offset="0.0690" stop-color="#f58634"/><stop offset="0.1034" stop-color="#f9a447"/><stop offset="0.1379" stop-color="#fcbd61"/><stop offset="0.1724" stop-color="#fdca6f"/><stop offset="0.2069" stop-color="#fdd17c"/><stop offset="0.2414" stop-color="#fed78a"/><stop offset="0.2759" stop-color="#ffe8af"/><stop offset="0.3103" stop-color="#ffeec3"/><stop offset="0.3448" stop-color="#ffedbd"/><stop offset="0.3793" stop-color="#ffe8b0"/><stop offset="0.4138" stop-color="#ffe7ad"/><stop offset="0.4483" stop-color="#ffe8af"/><stop offset="0.4828" stop-color="#ffecba"/><stop offset="0.5172" stop-color="#fff4d7"/><stop offset="0.5517" stop-color="#fffcf4"/><stop offset="0.5862" stop-color="#fafdfe"/><stop offset="0.6207" stop-color="#f5fafe"/><stop offset="0.6552" stop-color="#dfeffa"/><stop offset="0.6897" stop-color="#c5e3f5"/><stop offset="0.7241" stop-color="#b5dbf2"/><stop offset="0.7586" stop-color="#a4d3ef"/><stop offset="0.7931" stop-color="#98cbec"/><stop offset="0.8276" stop-color="#92c7ea"/><stop offset="0.8621" stop-color="#92c7ea"/><stop offset="0.8966" stop-color="#94c9eb"/><stop offset="0.9310" stop-color="#99ccec"/><stop offset="0.9655" stop-color="#a0d0ee"/><stop offset="1.0000" stop-color="#a9d5f0"/></linearGradient><linearGradient id="hg24" x1="0" x2="1" y1="0" y2="0"><stop offset="0.0000" stop-color="#f37c30"/><stop offset="0.0345" stop-color="#f37e30"/><stop offset="0.0690" stop-color="#f58735"/><stop offset="0.1034" stop-color="#f9a346"/><stop offset="0.1379" stop-color="#fbbb5f"/><stop offset="0.1724" stop-color="#fdc86e"/><stop offset="0.2069" stop-color="#fdd079"/><stop offset="0.2414" stop-color="#fed688"/><stop offset="0.2759" stop-color="#ffe8b0"/><stop offset="0.3103" stop-color="#ffefc4"/><stop offset="0.3448" stop-color="#ffedbe"/><stop offset="0.3793" stop-color="#ffe9b1"/><stop offset="0.4138" stop-color="#ffe7ae"/><stop offset="0.4483" stop-color="#ffe9b1"/><stop offset="0.4828" stop-color="#ffecbc"/><stop offset="0.5172" stop-color="#fff5da"/><stop offset="0.5517" stop-color="#fffdf7"/><stop offset="0.5862" stop-color="#f7fbfe"/><stop offset="0.6207" stop-color="#f1f8fd"/><stop offset="0.6552" stop-color="#daedf9"/><stop offset="0.6897" stop-color="#baddf3"/><stop offset="0.7241" stop-color="#9bcdec"/><stop offset="0.7586" stop-color="#7cbbe5"/><stop offset="0.7931" stop-color="#69afe0"/><stop offset="0.8276" stop-color="#5fa8dc"/><stop offset="0.8621" stop-color="#5ea7dc"/><stop offset="0.8966" stop-color="#5fa7dc"/><stop offset="0.9310" stop-color="#65acde"/><stop offset="0.9655" stop-color="#6db1e2"/><stop offset="1.0000" stop-color="#78b8e4"/></linearGradient><linearGradient id="hg25" x1="0" x2="1" y1="0" y2="0"><stop offset="0.0000" stop-color="#f48332"/><stop offset="0.0345" stop-color="#f48433"/><stop offset="0.0690" stop-color="#f68d39"/><stop offset="0.1034" stop-color="#f9a649"/><stop offset="0.1379" stop-color="#fcbd61"/><stop offset="0.1724" stop-color="#fdc96f"/><stop offset="0.2069" stop-color="#fdd07a"/><stop offset="0.2414" stop-color="#fed789"/><stop offset="0.2759" stop-color="#ffe8b1"/><stop offset="0.3103" stop-color="#ffefc5"/><stop offset="0.3448" stop-color="#ffedbe"/><stop offset="0.3793" stop-color="#ffe8b0"/><stop offset="0.4138" stop-color="#ffe7ad"/><stop offset="0.4483" stop-color="#ffe8b0"/><stop offset="0.4828" stop-color="#ffecbb"/><stop offset="0.5172" stop-color="#fff5da"/><stop offset="0.5517" stop-color="#fffefa"/><stop offset="0.5862" stop-color="#f5fafe"/><stop offset="0.6207" stop-color="#edf7fd"/><stop offset="0.6552" stop-color="#d1e9f7"/><stop offset="0.6897" stop-color="#aad6f0"/><stop offset="0.7241" stop-color="#7bbae5"/><stop offset="0.7586" stop-color="#57a2d9"/><stop offset="0.7931" stop-color="#4092d0"/><stop offset="0.8276" stop-color="#3988c9"/><stop offset="0.8621" stop-color="#3785c8"/><stop offset="0.8966" stop-color="#3786c8"/><stop offset="0.9310" stop-color="#3a8acb"/><stop offset="0.9655" stop-color="#4091d0"/><stop offset="1.0000" stop-color="#4d9bd5"/></linearGradient><linearGradient id="hg26" x1="0" x2="1" y1="0" y2="0"><stop offset="0.0000" stop-color="#f68c38"/><stop offset="0.0345" stop-color="#f68e39"/><stop offset="0.0690" stop-color="#f7973f"/><stop offset="0.1034" stop-color="#faad4e"/><stop offset="0.1379" stop-color="#fcc165"/><stop offset="0.1724" stop-color="#fdcc72"/><stop offset="0.2069" stop-color="#fdd27e"/><stop offset="0.2414" stop-color="#fed88c"/><stop offset="0.2759" stop-color="#ffe9b2"/><stop offset="0.3103" stop-color="#ffefc5"/><stop offset="0.3448" stop-color="#ffedbd"/><stop offset="0.3793" stop-color="#ffe8af"/><stop offset="0.4138" stop-color="#ffe6ab"/><stop offset="0.4483" stop-color="#ffe7ae"/><stop offset="0.4828" stop-color="#ffebb9"/><stop offset="0.5172" stop-color="#fff5d9"/><stop offset="0.5517" stop-color="#fffefb"/><stop offset="0.5862" stop-color="#f3f9fd"/><stop offset="0.6207" stop-color="#eaf5fc"/><stop offset="0.6552" stop-color="#c7e4f5"/><stop offset="0.6897" stop-color="#94c9eb"/><stop offset="0.7241" stop-color="#5ea7dc"/><stop offset="0.7586" stop-color="#3b8bcb"/><stop offset="0.7931" stop-color="#2d77be"/><stop offset="0.8276" stop-color="#2469b3"/><stop offset="0.8621" stop-color="#2365af"/><stop offset="0.8966" stop-color="#2265af"/><stop offset="0.9310" stop-color="#256ab4"/><stop offset="0.9655" stop-color="#2a74bc"/><stop offset="1.0000" stop-color="#3380c4"/></linearGradient><linearGradient id="hg27" x1="0" x2="1" y1="0" y2="0"><stop offset="0.0000" stop-color="#f89d43"/><stop offset="0.0345" stop-color="#f89e44"/><stop offset="0.0690" stop-color="#faa84a"/><stop offset="0.1034" stop-color="#fbb75a"/><stop offset="0.1379" stop-color="#fdc86d"/><stop offset="0.1724" stop-color="#fdd17b"/><stop offset="0.2069" stop-color="#fed687"/><stop offset="0.2414" stop-color="#fedb93"/><stop offset="0.2759" stop-color="#ffeab4"/><stop offset="0.3103" stop-color="#ffeec3"/><stop offset="0.3448" stop-color="#ffecba"/><stop offset="0.3793" stop-color="#ffe6ab"/><stop offset="0.4138" stop-color="#ffe4a7"/><stop offset="0.4483" stop-color="#ffe6aa"/><stop offset="0.4828" stop-color="#ffeab4"/><stop offset="0.5172" stop-color="#fff4d6"/><stop offset="0.5517" stop-color="#fffefa"/><stop offset="0.5862" stop-color="#f2f9fd"/><stop offset="0.6207" stop-color="#e8f4fb"/><stop offset="0.6552" stop-color="#c0e0f4"/><stop offset="0.6897" stop-color="#83bfe7"/><stop offset="0.7241" stop-color="#4998d3"/><stop offset="0.7586" stop-color="#2e79bf"/><stop offset="0.7931" stop-color="#2161ab"/><stop offset="0.8276" stop-color="#1a4f99"/><stop offset="0.8621" stop-color="#184a94"/><stop offset="0.8966" stop-color="#184992"/><stop offset="0.9310" stop-color="#1a4f99"/><stop offset="0.9655" stop-color="#1e5aa4"/><stop offset="1.0000" stop-color="#246ab4"/></linearGradient><linearGradient id="hg28" x1="0" x2="1" y1="0" y2="0"><stop offset="0.0000" stop-color="#fbb659"/><stop offset="0.0345" stop-color="#fbb75a"/><stop offset="0.0690" stop-color="#fcbe62"/><stop offset="0.1034" stop-color="#fdc86e"/><stop offset="0.1379" stop-color="#fdd381"/><stop offset="0.1724" stop-color="#fed98e"/><stop offset="0.2069" stop-color="#fedd96"/><stop offset="0.2414" stop-color="#fee19f"/><stop offset="0.2759" stop-color="#ffebb7"/><stop offset="0.3103" stop-color="#ffedbf"/><stop offset="0.3448" stop-color="#ffeab3"/><stop offset="0.3793" stop-color="#ffe3a4"/><stop offset="0.4138" stop-color="#fee1a0"/><stop offset="0.4483" stop-color="#fee3a4"/><stop offset="0.4828" stop-color="#ffe8af"/><stop offset="0.5172" stop-color="#fff2cf"/><stop offset="0.5517" stop-color="#fffdf6"/><stop offset="0.5862" stop-color="#f2f9fd"/><stop offset="0.6207" stop-color="#e7f4fb"/><stop offset="0.6552" stop-color="#bddff4"/><stop offset="0.6897" stop-color="#7bbae5"/><stop offset="0.7241" stop-color="#3e8fce"/><stop offset="0.7586" stop-color="#266db7"/><stop offset="0.7931" stop-color="#1b529c"/><stop offset="0.8276" stop-color="#143e84"/><stop offset="0.8621" stop-color="#12387c"/><stop offset="0.8966" stop-color="#113679"/><stop offset="0.9310" stop-color="#133d82"/><stop offset="0.9655" stop-color="#174992"/><stop offset="1.0000" stop-color="#1e5aa4"/></linearGradient><linearGradient id="hg29" x1="0" x2="1" y1="0" y2="0"><stop offset="0.0000" stop-color="#fdcd73"/><stop offset="0.0345" stop-color="#fdce75"/><stop offset="0.0690" stop-color="#fdd27e"/><stop offset="0.1034" stop-color="#fed78a"/><stop offset="0.1379" stop-color="#fede99"/><stop offset="0.1724" stop-color="#fee2a1"/><stop offset="0.2069" stop-color="#ffe4a6"/><stop offset="0.2414" stop-color="#ffe6ab"/><stop offset="0.2759" stop-color="#ffecba"/><stop offset="0.3103" stop-color="#ffecba"/><stop offset="0.3448" stop-color="#ffe7ad"/><stop offset="0.3793" stop-color="#fee09d"/><stop offset="0.4138" stop-color="#fede98"/><stop offset="0.4483" stop-color="#fee09d"/><stop offset="0.4828" stop-color="#ffe5a9"/><stop offset="0.5172" stop-color="#fff0c7"/><stop offset="0.5517" stop-color="#fffcf2"/><stop offset="0.5862" stop-color="#f2f9fd"/><stop offset="0.6207" stop-color="#e7f4fb"/><stop offset="0.6552" stop-color="#bcdff3"/><stop offset="0.6897" stop-color="#76b7e4"/><stop offset="0.7241" stop-color="#3a8acb"/><stop offset="0.7586" stop-color="#2264ae"/><stop offset="0.7931" stop-color="#17468f"/><stop offset="0.8276" stop-color="#0f3172"/><stop offset="0.8621" stop-color="#0d2a68"/><stop offset="0.8966" stop-color="#0c2864"/><stop offset="0.9310" stop-color="#0e2e6e"/><stop offset="0.9655" stop-color="#133b7f"/><stop offset="1.0000" stop-color="#194d97"/></linearGradient><linearGradient id="hg30" x1="0" x2="1" y1="0" y2="0"><stop offset="0.0000" stop-color="#fed88c"/><stop offset="0.0345" stop-color="#fed98d"/><stop offset="0.0690" stop-color="#fedc95"/><stop offset="0.1034" stop-color="#fee09e"/><stop offset="0.1379" stop-color="#ffe5a8"/><stop offset="0.1724" stop-color="#ffe7ad"/><stop offset="0.2069" stop-color="#ffe8af"/><stop offset="0.2414" stop-color="#ffe9b2"/><stop offset="0.2759" stop-color="#ffecbc"/><stop offset="0.3103" stop-color="#ffebb7"/><stop offset="0.3448" stop-color="#ffe5a8"/><stop offset="0.3793" stop-color="#fedd97"/><stop offset="0.4138" stop-color="#fedb93"/><stop offset="0.4483" stop-color="#fedd97"/><stop offset="0.4828" stop-color="#fee3a4"/><stop offset="0.5172" stop-color="#ffeec0"/><stop offset="0.5517" stop-color="#fffaed"/><stop offset="0.5862" stop-color="#f4fafe"/><stop offset="0.6207" stop-color="#e9f4fc"/><stop offset="0.6552" stop-color="#bddff4"/><stop offset="0.6897" stop-color="#77b8e4"/><stop offset="0.7241" stop-color="#3b8bcb"/><stop offset="0.7586" stop-color="#2264ae"/><stop offset="0.7931" stop-color="#16458e"/><stop offset="0.8276" stop-color="#0e2f6f"/><stop offset="0.8621" stop-color="#0c2863"/><stop offset="0.8966" stop-color="#0b2660"/><stop offset="0.9310" stop-color="#0d2c6a"/><stop offset="0.9655" stop-color="#12387c"/><stop offset="1.0000" stop-color="#194c96"/></linearGradient><linearGradient id="hg31" x1="0" x2="1" y1="0" y2="0"><stop offset="0.0000" stop-color="#fedf9b"/><stop offset="0.0345" stop-color="#fedf9c"/><stop offset="0.0690" stop-color="#fee2a2"/><stop offset="0.1034" stop-color="#ffe6aa"/><stop offset="0.1379" stop-color="#ffe9b1"/><stop offset="0.1724" stop-color="#ffeab4"/><stop offset="0.2069" stop-color="#ffeab5"/><stop offset="0.2414" stop-color="#ffebb7"/><stop offset="0.2759" stop-color="#ffedbe"/><stop offset="0.3103" stop-color="#ffeab5"/><stop offset="0.3448" stop-color="#ffe3a5"/><stop offset="0.3793" stop-color="#fedc94"/><stop offset="0.4138" stop-color="#feda8f"/><stop offset="0.4483" stop-color="#fedb93"/><stop offset="0.4828" stop-color="#fee1a0"/><stop offset="0.5172" stop-color="#ffebb9"/><stop offset="0.5517" stop-color="#fff9e7"/><stop offset="0.5862" stop-color="#f6fbfe"/><stop offset="0.6207" stop-color="#ecf6fc"/><stop offset="0.6552" stop-color="#c1e1f4"/><stop offset="0.6897" stop-color="#7dbbe5"/><stop offset="0.7241" stop-color="#3e8fce"/><stop offset="0.7586" stop-color="#2469b3"/><stop offset="0.7931" stop-color="#184b95"/><stop offset="0.8276" stop-color="#103476"/><stop offset="0.8621" stop-color="#0d2c6b"/><stop offset="0.8966" stop-color="#0d2a68"/><stop offset="0.9310" stop-color="#0f3071"/><stop offset="0.9655" stop-color="#133d83"/><stop offset="1.0000" stop-color="#1a509a"/></linearGradient><linearGradient id="hg32" x1="0" x2="1" y1="0" y2="0"><stop offset="0.0000" stop-color="#ffe6ac"/><stop offset="0.0345" stop-color="#ffe7ad"/><stop offset="0.0690" stop-color="#ffe8b0"/><stop offset="0.1034" stop-color="#ffebb7"/><stop offset="0.1379" stop-color="#ffecbb"/><stop offset="0.1724" stop-color="#ffecbb"/><stop offset="0.2069" stop-color="#ffecba"/><stop offset="0.2414" stop-color="#ffecb9"/><stop offset="0.2759" stop-color="#ffeec1"/><stop offset="0.3103" stop-color="#ffebb8"/><stop offset="0.3448" stop-color="#ffe4a6"/><stop offset="0.3793" stop-color="#fedc94"/><stop offset="0.4138" stop-color="#feda8f"/><stop offset="0.4483" stop-color="#fedb93"/><stop offset="0.4828" stop-color="#fee09e"/><stop offset="0.5172" stop-color="#ffeab3"/><stop offset="0.5517" stop-color="#fff6de"/><stop offset="0.5862" stop-color="#fbfdfe"/><stop offset="0.6207" stop-color="#f2f9fd"/><stop offset="0.6552" stop-color="#c9e5f6"/><stop offset="0.6897" stop-color="#89c2e8"/><stop offset="0.7241" stop-color="#4a99d4"/><stop offset="0.7586" stop-color="#2b75bd"/><stop offset="0.7931" stop-color="#1e58a2"/><stop offset="0.8276" stop-color="#15438a"/><stop offset="0.8621" stop-color="#133c80"/><stop offset="0.8966" stop-color="#12397d"/><stop offset="0.9310" stop-color="#143f85"/><stop offset="0.9655" stop-color="#184b95"/><stop offset="1.0000" stop-color="#1f5da7"/></linearGradient><linearGradient id="hg33" x1="0" x2="1" y1="0" y2="0"><stop offset="0.0000" stop-color="#fff0c8"/><stop offset="0.0345" stop-color="#fff0c8"/><stop offset="0.0690" stop-color="#fff0c8"/><stop offset="0.1034" stop-color="#fff0c7"/><stop offset="0.1379" stop-color="#ffefc5"/><stop offset="0.1724" stop-color="#ffeec1"/><stop offset="0.2069" stop-color="#ffecbb"/><stop offset="0.2414" stop-color="#ffebb7"/><stop offset="0.2759" stop-color="#ffefc6"/><stop offset="0.3103" stop-color="#ffeec2"/><stop offset="0.3448" stop-color="#ffe7ae"/><stop offset="0.3793" stop-color="#fee09d"/><stop offset="0.4138" stop-color="#fedd96"/><stop offset="0.4483" stop-color="#fedd96"/><stop offset="0.4828" stop-color="#fee09f"/><stop offset="0.5172" stop-color="#ffe8af"/><stop offset="0.5517" stop-color="#fff3d3"/><stop offset="0.5862" stop-color="#fffdf7"/><stop offset="0.6207" stop-color="#fdfeff"/><stop offset="0.6552" stop-color="#d9ecf9"/><stop offset="0.6897" stop-color="#a1d1ee"/><stop offset="0.7241" stop-color="#64abde"/><stop offset="0.7586" stop-color="#3a8acb"/><stop offset="0.7931" stop-color="#2a73bb"/><stop offset="0.8276" stop-color="#2162ac"/><stop offset="0.8621" stop-color="#1f5ca6"/><stop offset="0.8966" stop-color="#1e5aa4"/><stop offset="0.9310" stop-color="#205fa9"/><stop offset="0.9655" stop-color="#2468b2"/><stop offset="1.0000" stop-color="#2b75bd"/></linearGradient><linearGradient id="hg34" x1="0" x2="1" y1="0" y2="0"><stop offset="0.0000" stop-color="#fff9e6"/><stop offset="0.0345" stop-color="#fff8e6"/><stop offset="0.0690" stop-color="#fff7e2"/><stop offset="0.1034" stop-color="#fff5da"/><stop offset="0.1379" stop-color="#fff2d1"/><stop offset="0.1724" stop-color="#fff0c9"/><stop offset="0.2069" stop-color="#ffedbf"/><stop offset="0.2414" stop-color="#ffebb7"/><stop offset="0.2759" stop-color="#fff1ce"/><stop offset="0.3103" stop-color="#fff2ce"/><stop offset="0.3448" stop-color="#ffecbb"/><stop offset="0.3793" stop-color="#ffe5a8"/><stop offset="0.4138" stop-color="#fee19f"/><stop offset="0.4483" stop-color="#fee09d"/><stop offset="0.4828" stop-color="#fee1a1"/><stop offset="0.5172" stop-color="#ffe6ac"/><stop offset="0.5517" stop-color="#fff0c7"/><stop offset="0.5862" stop-color="#fff8e6"/><stop offset="0.6207" stop-color="#fffaec"/><stop offset="0.6552" stop-color="#e8f4fb"/><stop offset="0.6897" stop-color="#b8ddf3"/><stop offset="0.7241" stop-color="#82bee7"/><stop offset="0.7586" stop-color="#57a2d9"/><stop offset="0.7931" stop-color="#3e90ce"/><stop offset="0.8276" stop-color="#3684c7"/><stop offset="0.8621" stop-color="#327fc3"/><stop offset="0.8966" stop-color="#307cc2"/><stop offset="0.9310" stop-color="#3380c4"/><stop offset="0.9655" stop-color="#3887c8"/><stop offset="1.0000" stop-color="#3d8ece"/></linearGradient><linearGradient id="hg35" x1="0" x2="1" y1="0" y2="0"><stop offset="0.0000" stop-color="#fefeff"/><stop offset="0.0345" stop-color="#feffff"/><stop offset="0.0690" stop-color="#fffefd"/><stop offset="0.1034" stop-color="#fffcf5"/><stop offset="0.1379" stop-color="#fffaeb"/><stop offset="0.1724" stop-color="#fff7e1"/><stop offset="0.2069" stop-color="#fff3d4"/><stop offset="0.2414" stop-color="#fff1cb"/><stop offset="0.2759" stop-color="#fff6df"/><stop offset="0.3103" stop-color="#fff7e1"/><stop offset="0.3448" stop-color="#fff2d1"/><stop offset="0.3793" stop-color="#ffedbe"/><stop offset="0.4138" stop-color="#ffe9b1"/><stop offset="0.4483" stop-color="#ffe5aa"/><stop offset="0.4828" stop-color="#ffe3a5"/><stop offset="0.5172" stop-color="#ffe6ab"/><stop offset="0.5517" stop-color="#ffedbf"/><stop offset="0.5862" stop-color="#fff4d8"/><stop offset="0.6207" stop-color="#fff5da"/><stop offset="0.6552" stop-color="#f3f9fd"/><stop offset="0.6897" stop-color="#c8e5f6"/><stop offset="0.7241" stop-color="#9dceed"/><stop offset="0.7586" stop-color="#77b7e4"/><stop offset="0.7931" stop-color="#61a9dd"/><stop offset="0.8276" stop-color="#55a0d8"/><stop offset="0.8621" stop-color="#4e9cd6"/><stop offset="0.8966" stop-color="#4a99d4"/><stop offset="0.9310" stop-color="#4e9bd5"/><stop offset="0.9655" stop-color="#54a0d8"/><stop offset="1.0000" stop-color="#5ca5db"/></linearGradient><linearGradient id="hg36" x1="0" x2="1" y1="0" y2="0"><stop offset="0.0000" stop-color="#f2f9fd"/><stop offset="0.0345" stop-color="#f2f9fd"/><stop offset="0.0690" stop-color="#f3f9fd"/><stop offset="0.1034" stop-color="#f6fbfe"/><stop offset="0.1379" stop-color="#fbfdfe"/><stop offset="0.1724" stop-color="#fffefd"/><stop offset="0.2069" stop-color="#fffbf1"/><stop offset="0.2414" stop-color="#fff9e8"/><stop offset="0.2759" stop-color="#fffcf4"/><stop offset="0.3103" stop-color="#fffcf5"/><stop offset="0.3448" stop-color="#fffaea"/><stop offset="0.3793" stop-color="#fff5dc"/><stop offset="0.4138" stop-color="#fff2ce"/><stop offset="0.4483" stop-color="#ffedbd"/><stop offset="0.4828" stop-color="#ffe6ac"/><stop offset="0.5172" stop-color="#ffe6ac"/><stop offset="0.5517" stop-color="#ffecbb"/><stop offset="0.5862" stop-color="#fff2d1"/><stop offset="0.6207" stop-color="#fff2cf"/><stop offset="0.6552" stop-color="#fafdfe"/><stop offset="0.6897" stop-color="#d4eaf8"/><stop offset="0.7241" stop-color="#afd8f1"/><stop offset="0.7586" stop-color="#8fc6ea"/><stop offset="0.7931" stop-color="#7cbae5"/><stop offset="0.8276" stop-color="#71b4e3"/><stop offset="0.8621" stop-color="#6bb0e1"/><stop offset="0.8966" stop-color="#67addf"/><stop offset="0.9310" stop-color="#68aee0"/><stop offset="0.9655" stop-color="#6cb1e1"/><stop offset="1.0000" stop-color="#73b5e3"/></linearGradient><linearGradient id="hg37" x1="0" x2="1" y1="0" y2="0"><stop offset="0.0000" stop-color="#edf7fc"/><stop offset="0.0345" stop-color="#edf6fc"/><stop offset="0.0690" stop-color="#edf6fc"/><stop offset="0.1034" stop-color="#eff8fd"/><stop offset="0.1379" stop-color="#f3f9fd"/><stop offset="0.1724" stop-color="#f8fcfe"/><stop offset="0.2069" stop-color="#fcfeff"/><stop offset="0.2414" stop-color="#fffffe"/><stop offset="0.2759" stop-color="#fcfeff"/><stop offset="0.3103" stop-color="#fcfeff"/><stop offset="0.3448" stop-color="#fffffe"/><stop offset="0.3793" stop-color="#fffcf5"/><stop offset="0.4138" stop-color="#fff9ea"/><stop offset="0.4483" stop-color="#fff4d5"/><stop offset="0.4828" stop-color="#ffebb9"/><stop offset="0.5172" stop-color="#ffeab3"/><stop offset="0.5517" stop-color="#ffeec3"/><stop offset="0.5862" stop-color="#fff5d9"/><stop offset="0.6207" stop-color="#fff5d9"/><stop offset="0.6552" stop-color="#f8fcfe"/><stop offset="0.6897" stop-color="#d3eaf8"/><stop offset="0.7241" stop-color="#abd7f0"/><stop offset="0.7586" stop-color="#86c1e8"/><stop offset="0.7931" stop-color="#6eb2e2"/><stop offset="0.8276" stop-color="#62aadd"/><stop offset="0.8621" stop-color="#5ba5db"/><stop offset="0.8966" stop-color="#58a2d9"/><stop offset="0.9310" stop-color="#5aa4da"/><stop offset="0.9655" stop-color="#5fa7dc"/><stop offset="1.0000" stop-color="#67addf"/></linearGradient><linearGradient id="hg38" x1="0" x2="1" y1="0" y2="0"><stop offset="0.0000" stop-color="#edf6fc"/><stop offset="0.0345" stop-color="#ecf6fc"/><stop offset="0.0690" stop-color="#ebf6fc"/><stop offset="0.1034" stop-color="#edf6fc"/><stop offset="0.1379" stop-color="#f0f8fd"/><stop offset="0.1724" stop-color="#f3f9fd"/><stop offset="0.2069" stop-color="#f6fbfe"/><stop offset="0.2414" stop-color="#f6fbfe"/><stop offset="0.2759" stop-color="#f5fbfe"/><stop offset="0.3103" stop-color="#f6fbfe"/><stop offset="0.3448" stop-color="#f7fbfe"/><stop offset="0.3793" stop-color="#fafcfe"/><stop offset="0.4138" stop-color="#ffffff"/><stop offset="0.4483" stop-color="#fffaec"/><stop offset="0.4828" stop-color="#fff1cd"/><stop offset="0.5172" stop-color="#ffeec3"/><stop offset="0.5517" stop-color="#fff3d2"/><stop offset="0.5862" stop-color="#fffaea"/><stop offset="0.6207" stop-color="#fffbef"/><stop offset="0.6552" stop-color="#eff8fd"/><stop offset="0.6897" stop-color="#cae5f6"/><stop offset="0.7241" stop-color="#9accec"/><stop offset="0.7586" stop-color="#6bb0e1"/><stop offset="0.7931" stop-color="#4f9dd6"/><stop offset="0.8276" stop-color="#3e8fce"/><stop offset="0.8621" stop-color="#3a8acb"/><stop offset="0.8966" stop-color="#3888c9"/><stop offset="0.9310" stop-color="#3b8bcb"/><stop offset="0.9655" stop-color="#3f90cf"/><stop offset="1.0000" stop-color="#4898d3"/></linearGradient><linearGradient id="hg39" x1="0" x2="1" y1="0" y2="0"><stop offset="0.0000" stop-color="#ecf6fc"/><stop offset="0.0345" stop-color="#ebf5fc"/><stop offset="0.0690" stop-color="#e9f4fc"/><stop offset="0.1034" stop-color="#eaf5fc"/><stop offset="0.1379" stop-color="#edf6fc"/><stop offset="0.1724" stop-color="#f0f8fd"/><stop offset="0.2069" stop-color="#f2f9fd"/><stop offset="0.2414" stop-color="#f1f9fd"/><stop offset="0.2759" stop-color="#f2f9fd"/><stop offset="0.3103" stop-color="#f2f9fd"/><stop offset="0.3448" stop-color="#f3f9fd"/><stop offset="0.3793" stop-color="#f4fafe"/><stop offset="0.4138" stop-color="#f8fcfe"/><stop offset="0.4483" stop-color="#fffefc"/><stop offset="0.4828" stop-color="#fff8e4"/><stop offset="0.5172" stop-color="#fff5d9"/><stop offset="0.5517" stop-color="#fff8e6"/><stop offset="0.5862" stop-color="#fffefc"/><stop offset="0.6207" stop-color="#fcfeff"/><stop offset="0.6552" stop-color="#e5f2fb"/><stop offset="0.6897" stop-color="#bfe0f4"/><stop offset="0.7241" stop-color="#89c2e8"/><stop offset="0.7586" stop-color="#56a1d8"/><stop offset="0.7931" stop-color="#3a8aca"/><stop offset="0.8276" stop-color="#2f7ac0"/><stop offset="0.8621" stop-color="#2a74bc"/><stop offset="0.8966" stop-color="#2972ba"/><stop offset="0.9310" stop-color="#2c77be"/><stop offset="0.9655" stop-color="#327ec3"/><stop offset="1.0000" stop-color="#3988ca"/></linearGradient><linearGradient id="hg40" x1="0" x2="1" y1="0" y2="0"><stop offset="0.0000" stop-color="#ebf5fc"/><stop offset="0.0345" stop-color="#e9f4fc"/><stop offset="0.0690" stop-color="#e6f3fb"/><stop offset="0.1034" stop-color="#e6f3fb"/><stop offset="0.1379" stop-color="#eaf5fc"/><stop offset="0.1724" stop-color="#edf6fc"/><stop offset="0.2069" stop-color="#eff7fd"/><stop offset="0.2414" stop-color="#eff7fd"/><stop offset="0.2759" stop-color="#f0f8fd"/><stop offset="0.3103" stop-color="#f1f8fd"/><stop offset="0.3448" stop-color="#f1f8fd"/><stop offset="0.3793" stop-color="#f2f9fd"/><stop offset="0.4138" stop-color="#f5fafe"/><stop offset="0.4483" stop-color="#fafdfe"/><stop offset="0.4828" stop-color="#fffefa"/><stop offset="0.5172" stop-color="#fffbf1"/><stop offset="0.5517" stop-color="#fffefb"/><stop offset="0.5862" stop-color="#f7fbfe"/><stop offset="0.6207" stop-color="#f0f8fd"/><stop offset="0.6552" stop-color="#daedf9"/><stop offset="0.6897" stop-color="#b3daf2"/><stop offset="0.7241" stop-color="#7ab9e5"/><stop offset="0.7586" stop-color="#4394d1"/><stop offset="0.7931" stop-color="#2f7ac0"/><stop offset="0.8276" stop-color="#2468b2"/><stop offset="0.8621" stop-color="#2162ac"/><stop offset="0.8966" stop-color="#2060aa"/><stop offset="0.9310" stop-color="#2366b0"/><stop offset="0.9655" stop-color="#2870b9"/><stop offset="1.0000" stop-color="#317dc2"/></linearGradient><linearGradient id="hg41" x1="0" x2="1" y1="0" y2="0"><stop offset="0.0000" stop-color="#eaf5fc"/><stop offset="0.0345" stop-color="#e7f3fb"/><stop offset="0.0690" stop-color="#e3f2fb"/><stop offset="0.1034" stop-color="#e3f2fb"/><stop offset="0.1379" stop-color="#e7f3fb"/><stop offset="0.1724" stop-color="#ebf5fc"/><stop offset="0.2069" stop-color="#edf6fc"/><stop offset="0.2414" stop-color="#edf6fc"/><stop offset="0.2759" stop-color="#eff7fd"/><stop offset="0.3103" stop-color="#f0f8fd"/><stop offset="0.3448" stop-color="#f0f8fd"/><stop offset="0.3793" stop-color="#f0f8fd"/><stop offset="0.4138" stop-color="#f1f9fd"/><stop offset="0.4483" stop-color="#f4fafe"/><stop offset="0.4828" stop-color="#f9fcfe"/><stop offset="0.5172" stop-color="#fdfeff"/><stop offset="0.5517" stop-color="#f8fcfe"/><stop offset="0.5862" stop-color="#eff7fd"/><stop offset="0.6207" stop-color="#e8f4fb"/><stop offset="0.6552" stop-color="#d1e9f7"/><stop offset="0.6897" stop-color="#acd7f0"/><stop offset="0.7241" stop-color="#74b5e3"/><stop offset="0.7586" stop-color="#3f90cf"/><stop offset="0.7931" stop-color="#2c76be"/><stop offset="0.8276" stop-color="#2264ae"/><stop offset="0.8621" stop-color="#205ea8"/><stop offset="0.8966" stop-color="#1f5ca6"/><stop offset="0.9310" stop-color="#2263ad"/><stop offset="0.9655" stop-color="#266eb8"/><stop offset="1.0000" stop-color="#307cc1"/></linearGradient><linearGradient id="hg42" x1="0" x2="1" y1="0" y2="0"><stop offset="0.0000" stop-color="#e9f4fc"/><stop offset="0.0345" stop-color="#e5f3fb"/><stop offset="0.0690" stop-color="#e1f1fa"/><stop offset="0.1034" stop-color="#e1f1fa"/><stop offset="0.1379" stop-color="#e5f2fb"/><stop offset="0.1724" stop-color="#e9f5fc"/><stop offset="0.2069" stop-color="#ecf6fc"/><stop offset="0.2414" stop-color="#ecf6fc"/><stop offset="0.2759" stop-color="#eef7fd"/><stop offset="0.3103" stop-color="#eef7fd"/><stop offset="0.3448" stop-color="#eef7fd"/><stop offset="0.3793" stop-color="#eef7fd"/><stop offset="0.4138" stop-color="#eff8fd"/><stop offset="0.4483" stop-color="#f1f9fd"/><stop offset="0.4828" stop-color="#f4fafe"/><stop offset="0.5172" stop-color="#f7fbfe"/><stop offset="0.5517" stop-color="#f2f9fd"/><stop offset="0.5862" stop-color="#eaf5fc"/><stop offset="0.6207" stop-color="#e4f2fb"/><stop offset="0.6552" stop-color="#cee7f7"/><stop offset="0.6897" stop-color="#add7f1"/><stop offset="0.7241" stop-color="#7cbbe5"/><stop offset="0.7586" stop-color="#4f9cd6"/><stop offset="0.7931" stop-color="#3786c8"/><stop offset="0.8276" stop-color="#2c77be"/><stop offset="0.8621" stop-color="#2972bb"/><stop offset="0.8966" stop-color="#2972ba"/><stop offset="0.9310" stop-color="#2c77be"/><stop offset="0.9655" stop-color="#3380c4"/><stop offset="1.0000" stop-color="#3b8ccc"/></linearGradient><linearGradient id="hg43" x1="0" x2="1" y1="0" y2="0"><stop offset="0.0000" stop-color="#e8f4fc"/><stop offset="0.0345" stop-color="#e3f2fb"/><stop offset="0.0690" stop-color="#e0f0fa"/><stop offset="0.1034" stop-color="#e0f0fa"/><stop offset="0.1379" stop-color="#e3f2fb"/><stop offset="0.1724" stop-color="#e8f4fc"/><stop offset="0.2069" stop-color="#ebf5fc"/><stop offset="0.2414" stop-color="#eaf5fc"/><stop offset="0.2759" stop-color="#ecf6fc"/><stop offset="0.3103" stop-color="#edf7fd"/><stop offset="0.3448" stop-color="#edf7fd"/><stop offset="0.3793" stop-color="#edf7fd"/><stop offset="0.4138" stop-color="#eef7fd"/><stop offset="0.4483" stop-color="#eff7fd"/><stop offset="0.4828" stop-color="#f1f8fd"/><stop offset="0.5172" stop-color="#f2f9fd"/><stop offset="0.5517" stop-color="#eef7fd"/><stop offset="0.5862" stop-color="#e7f4fb"/><stop offset="0.6207" stop-color="#e2f1fa"/><stop offset="0.6552" stop-color="#cee7f7"/><stop offset="0.6897" stop-color="#b0d9f1"/><stop offset="0.7241" stop-color="#89c2e8"/><stop offset="0.7586" stop-color="#64abde"/><stop offset="0.7931" stop-color="#4c9ad5"/><stop offset="0.8276" stop-color="#3d8ecd"/><stop offset="0.8621" stop-color="#3b8bcb"/><stop offset="0.8966" stop-color="#3b8bcb"/><stop offset="0.9310" stop-color="#3d8ece"/><stop offset="0.9655" stop-color="#4595d2"/><stop offset="1.0000" stop-color="#54a0d8"/></linearGradient><linearGradient id="hg44" x1="0" x2="1" y1="0" y2="0"><stop offset="0.0000" stop-color="#e8f4fb"/><stop offset="0.0345" stop-color="#e3f1fb"/><stop offset="0.0690" stop-color="#dff0fa"/><stop offset="0.1034" stop-color="#dff0fa"/><stop offset="0.1379" stop-color="#e3f1fb"/><stop offset="0.1724" stop-color="#e7f4fb"/><stop offset="0.2069" stop-color="#eaf5fc"/><stop offset="0.2414" stop-color="#eaf5fc"/><stop offset="0.2759" stop-color="#ecf6fc"/><stop offset="0.3103" stop-color="#edf6fc"/><stop offset="0.3448" stop-color="#edf6fc"/><stop offset="0.3793" stop-color="#edf6fc"/><stop offset="0.4138" stop-color="#edf6fc"/><stop offset="0.4483" stop-color="#eef7fd"/><stop offset="0.4828" stop-color="#eff7fd"/><stop offset="0.5172" stop-color="#eff8fd"/><stop offset="0.5517" stop-color="#ebf6fc"/><stop offset="0.5862" stop-color="#e5f3fb"/><stop offset="0.6207" stop-color="#e1f0fa"/><stop offset="0.6552" stop-color="#d0e8f7"/><stop offset="0.6897" stop-color="#b7dcf3"/><stop offset="0.7241" stop-color="#99ccec"/><stop offset="0.7586" stop-color="#7cbae5"/><stop offset="0.7931" stop-color="#67addf"/><stop offset="0.8276" stop-color="#59a4da"/><stop offset="0.8621" stop-color="#57a2d9"/><stop offset="0.8966" stop-color="#57a2d9"/><stop offset="0.9310" stop-color="#5aa4da"/><stop offset="0.9655" stop-color="#62a9dd"/><stop offset="1.0000" stop-color="#6db1e2"/></linearGradient><linearGradient id="hg45" x1="0" x2="1" y1="0" y2="0"><stop offset="0.0000" stop-color="#e8f4fb"/><stop offset="0.0345" stop-color="#e3f1fb"/><stop offset="0.0690" stop-color="#dff0fa"/><stop offset="0.1034" stop-color="#dff0fa"/><stop offset="0.1379" stop-color="#e3f1fb"/><stop offset="0.1724" stop-color="#e7f4fb"/><stop offset="0.2069" stop-color="#eaf5fc"/><stop offset="0.2414" stop-color="#eaf5fc"/><stop offset="0.2759" stop-color="#ecf6fc"/><stop offset="0.3103" stop-color="#edf6fc"/><stop offset="0.3448" stop-color="#edf6fc"/><stop offset="0.3793" stop-color="#edf6fc"/><stop offset="0.4138" stop-color="#edf6fc"/><stop offset="0.4483" stop-color="#edf7fc"/><stop offset="0.4828" stop-color="#eef7fd"/><stop offset="0.5172" stop-color="#eef7fd"/><stop offset="0.5517" stop-color="#eaf5fc"/><stop offset="0.5862" stop-color="#e4f2fb"/><stop offset="0.6207" stop-color="#e1f0fa"/><stop offset="0.6552" stop-color="#d4eaf8"/><stop offset="0.6897" stop-color="#c1e1f4"/><stop offset="0.7241" stop-color="#abd6f0"/><stop offset="0.7586" stop-color="#95c9eb"/><stop offset="0.7931" stop-color="#85c0e7"/><stop offset="0.8276" stop-color="#79b9e5"/><stop offset="0.8621" stop-color="#77b7e4"/><stop offset="0.8966" stop-color="#77b7e4"/><stop offset="0.9310" stop-color="#79b8e4"/><stop offset="0.9655" stop-color="#7ebce6"/><stop offset="1.0000" stop-color="#87c1e8"/></linearGradient><linearGradient id="hg46" x1="0" x2="1" y1="0" y2="0"><stop offset="0.0000" stop-color="#e8f4fc"/><stop offset="0.0345" stop-color="#e3f2fb"/><stop offset="0.0690" stop-color="#e0f0fa"/><stop offset="0.1034" stop-color="#e0f0fa"/><stop offset="0.1379" stop-color="#e3f2fb"/><stop offset="0.1724" stop-color="#e8f4fc"/><stop offset="0.2069" stop-color="#ebf5fc"/><stop offset="0.2414" stop-color="#eaf5fc"/><stop offset="0.2759" stop-color="#ecf6fc"/><stop offset="0.3103" stop-color="#edf7fd"/><stop offset="0.3448" stop-color="#edf7fd"/><stop offset="0.3793" stop-color="#edf7fd"/><stop offset="0.4138" stop-color="#edf7fd"/><stop offset="0.4483" stop-color="#edf7fd"/><stop offset="0.4828" stop-color="#edf7fd"/><stop offset="0.5172" stop-color="#edf7fc"/><stop offset="0.5517" stop-color="#e9f5fc"/><stop offset="0.5862" stop-color="#e4f2fb"/><stop offset="0.6207" stop-color="#e1f0fa"/><stop offset="0.6552" stop-color="#d8ecf9"/><stop offset="0.6897" stop-color="#c9e5f6"/><stop offset="0.7241" stop-color="#b7dcf3"/><stop offset="0.7586" stop-color="#aad6f0"/><stop offset="0.7931" stop-color="#9fcfed"/><stop offset="0.8276" stop-color="#97cbec"/><stop offset="0.8621" stop-color="#95caeb"/><stop offset="0.8966" stop-color="#95caeb"/><stop offset="0.9310" stop-color="#96caeb"/><stop offset="0.9655" stop-color="#99ccec"/><stop offset="1.0000" stop-color="#9fcfed"/></linearGradient><linearGradient id="hg47" x1="0" x2="1" y1="0" y2="0"><stop offset="0.0000" stop-color="#e9f4fc"/><stop offset="0.0345" stop-color="#e5f3fb"/><stop offset="0.0690" stop-color="#e1f1fa"/><stop offset="0.1034" stop-color="#e1f1fa"/><stop offset="0.1379" stop-color="#e5f2fb"/><stop offset="0.1724" stop-color="#e9f5fc"/><stop offset="0.2069" stop-color="#ecf6fc"/><stop offset="0.2414" stop-color="#ecf6fc"/><stop offset="0.2759" stop-color="#edf7fd"/><stop offset="0.3103" stop-color="#eef7fd"/><stop offset="0.3448" stop-color="#eef7fd"/><stop offset="0.3793" stop-color="#eef7fd"/><stop offset="0.4138" stop-color="#eef7fd"/><stop offset="0.4483" stop-color="#eef7fd"/><stop offset="0.4828" stop-color="#eef7fd"/><stop offset="0.5172" stop-color="#edf7fd"/><stop offset="0.5517" stop-color="#eaf5fc"/><stop offset="0.5862" stop-color="#e5f2fb"/><stop offset="0.6207" stop-color="#e2f1fa"/><stop offset="0.6552" stop-color="#dbedf9"/><stop offset="0.6897" stop-color="#cfe8f7"/><stop offset="0.7241" stop-color="#c1e1f4"/><stop offset="0.7586" stop-color="#b7dcf2"/><stop offset="0.7931" stop-color="#b0d9f1"/><stop offset="0.8276" stop-color="#abd6f0"/><stop offset="0.8621" stop-color="#aad6f0"/><stop offset="0.8966" stop-color="#aad6f0"/><stop offset="0.9310" stop-color="#aad6f0"/><stop offset="0.9655" stop-color="#acd7f0"/><stop offset="1.0000" stop-color="#b1d9f1"/></linearGradient><linearGradient id="hg48" x1="0" x2="1" y1="0" y2="0"><stop offset="0.0000" stop-color="#eaf5fc"/><stop offset="0.0345" stop-color="#e7f3fb"/><stop offset="0.0690" stop-color="#e3f2fb"/><stop offset="0.1034" stop-color="#e3f2fb"/><stop offset="0.1379" stop-color="#e7f3fb"/><stop offset="0.1724" stop-color="#eaf5fc"/><stop offset="0.2069" stop-color="#ecf6fc"/><stop offset="0.2414" stop-color="#edf6fc"/><stop offset="0.2759" stop-color="#eff7fd"/><stop offset="0.3103" stop-color="#f0f8fd"/><stop offset="0.3448" stop-color="#f0f8fd"/><stop offset="0.3793" stop-color="#f0f8fd"/><stop offset="0.4138" stop-color="#f0f8fd"/><stop offset="0.4483" stop-color="#f0f8fd"/><stop offset="0.4828" stop-color="#eff8fd"/><stop offset="0.5172" stop-color="#eef7fd"/><stop offset="0.5517" stop-color="#eaf5fc"/><stop offset="0.5862" stop-color="#e6f3fb"/><stop offset="0.6207" stop-color="#e4f2fb"/><stop offset="0.6552" stop-color="#deeffa"/><stop offset="0.6897" stop-color="#d5ebf8"/><stop offset="0.7241" stop-color="#cae5f6"/><stop offset="0.7586" stop-color="#c4e2f5"/><stop offset="0.7931" stop-color="#bee0f4"/><stop offset="0.8276" stop-color="#badef3"/><stop offset="0.8621" stop-color="#b9ddf3"/><stop offset="0.8966" stop-color="#b9ddf3"/><stop offset="0.9310" stop-color="#badef3"/><stop offset="0.9655" stop-color="#bcdff3"/><stop offset="1.0000" stop-color="#c1e1f4"/></linearGradient><linearGradient id="hg49" x1="0" x2="1" y1="0" y2="0"><stop offset="0.0000" stop-color="#ebf5fc"/><stop offset="0.0345" stop-color="#e8f4fc"/><stop offset="0.0690" stop-color="#e5f2fb"/><stop offset="0.1034" stop-color="#e4f2fb"/><stop offset="0.1379" stop-color="#e8f4fb"/><stop offset="0.1724" stop-color="#ebf5fc"/><stop offset="0.2069" stop-color="#edf7fc"/><stop offset="0.2414" stop-color="#eef7fd"/><stop offset="0.2759" stop-color="#f0f8fd"/><stop offset="0.3103" stop-color="#f1f8fd"/><stop offset="0.3448" stop-color="#f1f8fd"/><stop offset="0.3793" stop-color="#f1f8fd"/><stop offset="0.4138" stop-color="#f1f8fd"/><stop offset="0.4483" stop-color="#f1f8fd"/><stop offset="0.4828" stop-color="#f1f8fd"/><stop offset="0.5172" stop-color="#eff7fd"/><stop offset="0.5517" stop-color="#ebf6fc"/><stop offset="0.5862" stop-color="#e8f4fc"/><stop offset="0.6207" stop-color="#e6f3fb"/><stop offset="0.6552" stop-color="#e2f1fa"/><stop offset="0.6897" stop-color="#dceef9"/><stop offset="0.7241" stop-color="#d6ebf8"/><stop offset="0.7586" stop-color="#d2e9f8"/><stop offset="0.7931" stop-color="#cfe8f7"/><stop offset="0.8276" stop-color="#cce6f6"/><stop offset="0.8621" stop-color="#cce6f6"/><stop offset="0.8966" stop-color="#cde7f6"/><stop offset="0.9310" stop-color="#cee7f7"/><stop offset="0.9655" stop-color="#d2e9f7"/><stop offset="1.0000" stop-color="#d8ecf9"/></linearGradient><linearGradient id="hg50" x1="0" x2="1" y1="0" y2="0"><stop offset="0.0000" stop-color="#ecf6fc"/><stop offset="0.0345" stop-color="#e9f4fc"/><stop offset="0.0690" stop-color="#e6f3fb"/><stop offset="0.1034" stop-color="#e6f3fb"/><stop offset="0.1379" stop-color="#e8f4fc"/><stop offset="0.1724" stop-color="#ebf6fc"/><stop offset="0.2069" stop-color="#edf7fd"/><stop offset="0.2414" stop-color="#eff7fd"/><stop offset="0.2759" stop-color="#f1f8fd"/><stop offset="0.3103" stop-color="#f2f9fd"/><stop offset="0.3448" stop-color="#f2f9fd"/><stop offset="0.3793" stop-color="#f2f9fd"/><stop offset="0.4138" stop-color="#f2f9fd"/><stop offset="0.4483" stop-color="#f2f9fd"/><stop offset="0.4828" stop-color="#f2f9fd"/><stop offset="0.5172" stop-color="#f0f8fd"/><stop offset="0.5517" stop-color="#edf6fc"/><stop offset="0.5862" stop-color="#eaf5fc"/><stop offset="0.6207" stop-color="#e9f5fc"/><stop offset="0.6552" stop-color="#e7f3fb"/><stop offset="0.6897" stop-color="#e4f2fb"/><stop offset="0.7241" stop-color="#e2f1fa"/><stop offset="0.7586" stop-color="#e1f1fa"/><stop offset="0.7931" stop-color="#e0f0fa"/><stop offset="0.8276" stop-color="#deeffa"/><stop offset="0.8621" stop-color="#dff0fa"/><stop offset="0.8966" stop-color="#e0f0fa"/><stop offset="0.9310" stop-color="#e4f2fb"/><stop offset="0.9655" stop-color="#e8f4fc"/><stop offset="1.0000" stop-color="#eff7fd"/></linearGradient><linearGradient id="hg51" x1="0" x2="1" y1="0" y2="0"><stop offset="0.0000" stop-color="#ecf6fc"/><stop offset="0.0345" stop-color="#e9f5fc"/><stop offset="0.0690" stop-color="#e7f3fb"/><stop offset="0.1034" stop-color="#e7f3fb"/><stop offset="0.1379" stop-color="#e9f5fc"/><stop offset="0.1724" stop-color="#ecf6fc"/><stop offset="0.2069" stop-color="#eef7fd"/><stop offset="0.2414" stop-color="#f0f8fd"/><stop offset="0.2759" stop-color="#f2f9fd"/><stop offset="0.3103" stop-color="#f3f9fd"/><stop offset="0.3448" stop-color="#f3f9fd"/><stop offset="0.3793" stop-color="#f3f9fd"/><stop offset="0.4138" stop-color="#f3f9fd"/><stop offset="0.4483" stop-color="#f3f9fd"/><stop offset="0.4828" stop-color="#f3f9fd"/><stop offset="0.5172" stop-color="#f1f8fd"/><stop offset="0.5517" stop-color="#eef7fd"/><stop offset="0.5862" stop-color="#ecf6fc"/><stop offset="0.6207" stop-color="#ecf6fc"/><stop offset="0.6552" stop-color="#ebf6fc"/><stop offset="0.6897" stop-color="#ebf6fc"/><stop offset="0.7241" stop-color="#ecf6fc"/><stop offset="0.7586" stop-color="#edf7fd"/><stop offset="0.7931" stop-color="#eef7fd"/><stop offset="0.8276" stop-color="#edf7fd"/><stop offset="0.8621" stop-color="#eff7fd"/><stop offset="0.8966" stop-color="#f1f8fd"/><stop offset="0.9310" stop-color="#f5fafe"/><stop offset="0.9655" stop-color="#fbfdfe"/><stop offset="1.0000" stop-color="#fffef9"/></linearGradient><linearGradient id="hg52" x1="0" x2="1" y1="0" y2="0"><stop offset="0.0000" stop-color="#eef7fd"/><stop offset="0.0345" stop-color="#ebf6fc"/><stop offset="0.0690" stop-color="#e9f5fc"/><stop offset="0.1034" stop-color="#e9f4fc"/><stop offset="0.1379" stop-color="#ebf6fc"/><stop offset="0.1724" stop-color="#edf7fd"/><stop offset="0.2069" stop-color="#eff7fd"/><stop offset="0.2414" stop-color="#f1f8fd"/><stop offset="0.2759" stop-color="#f3f9fd"/><stop offset="0.3103" stop-color="#f4fafd"/><stop offset="0.3448" stop-color="#f4fafd"/><stop offset="0.3793" stop-color="#f4fafd"/><stop offset="0.4138" stop-color="#f4fafd"/><stop offset="0.4483" stop-color="#f4fafd"/><stop offset="0.4828" stop-color="#f4fafd"/><stop offset="0.5172" stop-color="#f2f9fd"/><stop offset="0.5517" stop-color="#f0f8fd"/><stop offset="0.5862" stop-color="#eef7fd"/><stop offset="0.6207" stop-color="#eef7fd"/><stop offset="0.6552" stop-color="#eef7fd"/><stop offset="0.6897" stop-color="#eff8fd"/><stop offset="0.7241" stop-color="#f1f9fd"/><stop offset="0.7586" stop-color="#f3f9fd"/><stop offset="0.7931" stop-color="#f3fafd"/><stop offset="0.8276" stop-color="#f3fafd"/><stop offset="0.8621" stop-color="#f5fafe"/><stop offset="0.8966" stop-color="#f7fbfe"/><stop offset="0.9310" stop-color="#fcfdff"/><stop offset="0.9655" stop-color="#fffefa"/><stop offset="1.0000" stop-color="#fffaed"/></linearGradient><linearGradient id="hg53" x1="0" x2="1" y1="0" y2="0"><stop offset="0.0000" stop-color="#f0f8fd"/><stop offset="0.0345" stop-color="#eef7fd"/><stop offset="0.0690" stop-color="#ecf6fc"/><stop offset="0.1034" stop-color="#ecf6fc"/><stop offset="0.1379" stop-color="#eef7fd"/><stop offset="0.1724" stop-color="#f0f8fd"/><stop offset="0.2069" stop-color="#f1f8fd"/><stop offset="0.2414" stop-color="#f2f9fd"/><stop offset="0.2759" stop-color="#f4fafd"/><stop offset="0.3103" stop-color="#f5fafe"/><stop offset="0.3448" stop-color="#f5fafe"/><stop offset="0.3793" stop-color="#f5fafe"/><stop offset="0.4138" stop-color="#f5fafe"/><stop offset="0.4483" stop-color="#f5fafe"/><stop offset="0.4828" stop-color="#f4fafe"/><stop offset="0.5172" stop-color="#f4fafd"/><stop offset="0.5517" stop-color="#f2f9fd"/><stop offset="0.5862" stop-color="#f0f8fd"/><stop offset="0.6207" stop-color="#f0f8fd"/><stop offset="0.6552" stop-color="#f0f8fd"/><stop offset="0.6897" stop-color="#f1f8fd"/><stop offset="0.7241" stop-color="#f3f9fd"/><stop offset="0.7586" stop-color="#f4fafe"/><stop offset="0.7931" stop-color="#f5fafe"/><stop offset="0.8276" stop-color="#f5fafe"/><stop offset="0.8621" stop-color="#f6fbfe"/><stop offset="0.8966" stop-color="#f8fcfe"/><stop offset="0.9310" stop-color="#fcfeff"/><stop offset="0.9655" stop-color="#fffefa"/><stop offset="1.0000" stop-color="#fffbef"/></linearGradient><linearGradient id="hg54" x1="0" x2="1" y1="0" y2="0"><stop offset="0.0000" stop-color="#f2f9fd"/><stop offset="0.0345" stop-color="#f1f8fd"/><stop offset="0.0690" stop-color="#eff7fd"/><stop offset="0.1034" stop-color="#eff7fd"/><stop offset="0.1379" stop-color="#f1f8fd"/><stop offset="0.1724" stop-color="#f2f9fd"/><stop offset="0.2069" stop-color="#f2f9fd"/><stop offset="0.2414" stop-color="#f3f9fd"/><stop offset="0.2759" stop-color="#f5fafe"/><stop offset="0.3103" stop-color="#f5fbfe"/><stop offset="0.3448" stop-color="#f5fbfe"/><stop offset="0.3793" stop-color="#f5fbfe"/><stop offset="0.4138" stop-color="#f5fbfe"/><stop offset="0.4483" stop-color="#f5fbfe"/><stop offset="0.4828" stop-color="#f5fbfe"/><stop offset="0.5172" stop-color="#f5fafe"/><stop offset="0.5517" stop-color="#f4fafd"/><stop offset="0.5862" stop-color="#f2f9fd"/><stop offset="0.6207" stop-color="#f2f9fd"/><stop offset="0.6552" stop-color="#f2f9fd"/><stop offset="0.6897" stop-color="#f3f9fd"/><stop offset="0.7241" stop-color="#f5fafe"/><stop offset="0.7586" stop-color="#f5fafe"/><stop offset="0.7931" stop-color="#f5fbfe"/><stop offset="0.8276" stop-color="#f6fbfe"/><stop offset="0.8621" stop-color="#f7fbfe"/><stop offset="0.8966" stop-color="#f9fcfe"/><stop offset="0.9310" stop-color="#fdfeff"/><stop offset="0.9655" stop-color="#fffefb"/><stop offset="1.0000" stop-color="#fffcf3"/></linearGradient><linearGradient id="hg55" x1="0" x2="1" y1="0" y2="0"><stop offset="0.0000" stop-color="#f3f9fd"/><stop offset="0.0345" stop-color="#f2f9fd"/><stop offset="0.0690" stop-color="#f0f8fd"/><stop offset="0.1034" stop-color="#f0f8fd"/><stop offset="0.1379" stop-color="#f2f9fd"/><stop offset="0.1724" stop-color="#f3f9fd"/><stop offset="0.2069" stop-color="#f3f9fd"/><stop offset="0.2414" stop-color="#f3f9fd"/><stop offset="0.2759" stop-color="#f5fafe"/><stop offset="0.3103" stop-color="#f6fbfe"/><stop offset="0.3448" stop-color="#f6fbfe"/><stop offset="0.3793" stop-color="#f6fbfe"/><stop offset="0.4138" stop-color="#f6fbfe"/><stop offset="0.4483" stop-color="#f6fbfe"/><stop offset="0.4828" stop-color="#f6fbfe"/><stop offset="0.5172" stop-color="#f6fbfe"/><stop offset="0.5517" stop-color="#f4fafe"/><stop offset="0.5862" stop-color="#f3f9fd"/><stop offset="0.6207" stop-color="#f3f9fd"/><stop offset="0.6552" stop-color="#f3f9fd"/><stop offset="0.6897" stop-color="#f4fafd"/><stop offset="0.7241" stop-color="#f5fbfe"/><stop offset="0.7586" stop-color="#f6fbfe"/><stop offset="0.7931" stop-color="#f6fbfe"/><stop offset="0.8276" stop-color="#f6fbfe"/><stop offset="0.8621" stop-color="#f7fbfe"/><stop offset="0.8966" stop-color="#f9fcfe"/><stop offset="0.9310" stop-color="#fdfeff"/><stop offset="0.9655" stop-color="#fffefc"/><stop offset="1.0000" stop-color="#fffcf4"/></linearGradient></defs>
<g clip-path="url(#clipa)"><rect x="60.0" y="80.50" width="207.0" height="2.60" fill="url(#hg0)"/><rect x="60.0" y="82.50" width="207.0" height="2.60" fill="url(#hg1)"/><rect x="60.0" y="84.50" width="207.0" height="2.60" fill="url(#hg2)"/><rect x="60.0" y="86.50" width="207.0" height="2.60" fill="url(#hg3)"/><rect x="60.0" y="88.50" width="207.0" height="2.60" fill="url(#hg4)"/><rect x="60.0" y="90.50" width="207.0" height="2.60" fill="url(#hg5)"/><rect x="60.0" y="92.50" width="207.0" height="2.60" fill="url(#hg6)"/><rect x="60.0" y="94.50" width="207.0" height="2.60" fill="url(#hg7)"/><rect x="60.0" y="96.50" width="207.0" height="2.60" fill="url(#hg8)"/><rect x="60.0" y="98.50" width="207.0" height="2.60" fill="url(#hg9)"/><rect x="60.0" y="100.50" width="207.0" height="2.60" fill="url(#hg10)"/><rect x="60.0" y="102.50" width="207.0" height="2.60" fill="url(#hg11)"/><rect x="60.0" y="104.50" width="207.0" height="2.60" fill="url(#hg12)"/><rect x="60.0" y="106.50" width="207.0" height="2.60" fill="url(#hg13)"/><rect x="60.0" y="108.50" width="207.0" height="2.60" fill="url(#hg14)"/><rect x="60.0" y="110.50" width="207.0" height="2.60" fill="url(#hg15)"/><rect x="60.0" y="112.50" width="207.0" height="2.60" fill="url(#hg16)"/><rect x="60.0" y="114.50" width="207.0" height="2.60" fill="url(#hg17)"/><rect x="60.0" y="116.50" width="207.0" height="2.60" fill="url(#hg18)"/><rect x="60.0" y="118.50" width="207.0" height="2.60" fill="url(#hg19)"/><rect x="60.0" y="120.50" width="207.0" height="2.60" fill="url(#hg20)"/><rect x="60.0" y="122.50" width="207.0" height="2.60" fill="url(#hg21)"/><rect x="60.0" y="124.50" width="207.0" height="2.60" fill="url(#hg22)"/><rect x="60.0" y="126.50" width="207.0" height="2.60" fill="url(#hg23)"/><rect x="60.0" y="128.50" width="207.0" height="2.60" fill="url(#hg24)"/><rect x="60.0" y="130.50" width="207.0" height="2.60" fill="url(#hg25)"/><rect x="60.0" y="132.50" width="207.0" height="2.60" fill="url(#hg26)"/><rect x="60.0" y="134.50" width="207.0" height="2.60" fill="url(#hg27)"/><rect x="60.0" y="136.50" width="207.0" height="2.60" fill="url(#hg28)"/><rect x="60.0" y="138.50" width="207.0" height="2.60" fill="url(#hg29)"/><rect x="60.0" y="140.50" width="207.0" height="2.60" fill="url(#hg30)"/><rect x="60.0" y="142.50" width="207.0" height="2.60" fill="url(#hg31)"/><rect x="60.0" y="144.50" width="207.0" height="2.60" fill="url(#hg32)"/><rect x="60.0" y="146.50" width="207.0" height="2.60" fill="url(#hg33)"/><rect x="60.0" y="148.50" width="207.0" height="2.60" fill="url(#hg34)"/><rect x="60.0" y="150.50" width="207.0" height="2.60" fill="url(#hg35)"/><rect x="60.0" y="152.50" width="207.0" height="2.60" fill="url(#hg36)"/><rect x="60.0" y="154.50" width="207.0" height="2.60" fill="url(#hg37)"/><rect x="60.0" y="156.50" width="207.0" height="2.60" fill="url(#hg38)"/><rect x="60.0" y="158.50" width="207.0" height="2.60" fill="url(#hg39)"/><rect x="60.0" y="160.50" width="207.0" height="2.60" fill="url(#hg40)"/><rect x="60.0" y="162.50" width="207.0" height="2.60" fill="url(#hg41)"/><rect x="60.0" y="164.50" width="207.0" height="2.60" fill="url(#hg42)"/><rect x="60.0" y="166.50" width="207.0" height="2.60" fill="url(#hg43)"/><rect x="60.0" y="168.50" width="207.0" height="2.60" fill="url(#hg44)"/><rect x="60.0" y="170.50" width="207.0" height="2.60" fill="url(#hg45)"/><rect x="60.0" y="172.50" width="207.0" height="2.60" fill="url(#hg46)"/><rect x="60.0" y="174.50" width="207.0" height="2.60" fill="url(#hg47)"/><rect x="60.0" y="176.50" width="207.0" height="2.60" fill="url(#hg48)"/><rect x="60.0" y="178.50" width="207.0" height="2.60" fill="url(#hg49)"/><rect x="60.0" y="180.50" width="207.0" height="2.60" fill="url(#hg50)"/><rect x="60.0" y="182.50" width="207.0" height="2.60" fill="url(#hg51)"/><rect x="60.0" y="184.50" width="207.0" height="2.60" fill="url(#hg52)"/><rect x="60.0" y="186.50" width="207.0" height="2.60" fill="url(#hg53)"/><rect x="60.0" y="188.50" width="207.0" height="2.60" fill="url(#hg54)"/><rect x="60.0" y="190.50" width="207.0" height="1.00" fill="url(#hg55)"/></g>
<path fill="#606060" fill-opacity="0.75" stroke="none" d="M83.0 102.1 L83.6 102.1 84.0 102.7 L83.0 103.3 ZM83.0 121.3 L84.3 121.3 84.1 121.9 L83.0 122.5 ZM83.0 149.5 L84.9 149.5 83.3 150.1 L83.0 150.7 ZM83.0 151.9 L88.0 151.9 84.2 152.5 L83.0 153.1 ZM83.0 154.3 L85.9 154.3 83.7 154.9 L83.0 155.5 ZM83.0 120.1 L81.7 120.1 82.3 120.7 L83.0 121.3 ZM83.0 122.5 L81.7 122.5 81.9 123.1 L83.0 123.7 ZM83.0 150.7 L79.3 150.7 82.3 151.3 L83.0 151.9 ZM83.0 153.1 L78.6 153.1 81.5 153.7 L83.0 154.3 ZM83.0 155.5 L82.0 155.5 82.4 156.1 L83.0 156.7 ZM90.1 121.3 L91.2 121.3 91.7 121.9 L90.1 122.5 ZM90.1 148.9 L91.4 148.9 91.0 149.5 L90.1 150.1 ZM90.1 151.3 L92.6 151.3 94.4 151.9 L90.1 152.5 ZM90.1 153.7 L91.1 153.7 91.9 154.3 L90.1 154.9 ZM90.1 120.1 L89.2 120.1 88.9 120.7 L90.1 121.3 ZM90.1 122.5 L89.3 122.5 88.5 123.1 L90.1 123.7 ZM90.1 150.1 L88.1 150.1 86.9 150.7 L90.1 151.3 ZM90.1 152.5 L88.0 152.5 86.7 153.1 L90.1 153.7 ZM97.1 121.9 L99.1 121.9 98.2 122.5 L97.1 123.1 ZM97.1 124.3 L98.3 124.3 97.7 124.9 L97.1 125.5 ZM97.1 149.5 L98.6 149.5 98.4 150.1 L97.1 150.7 ZM97.1 151.9 L101.3 151.9 101.1 152.5 L97.1 153.1 ZM97.1 154.3 L98.9 154.3 98.8 154.9 L97.1 155.5 ZM97.1 120.7 L95.9 120.7 96.6 121.3 L97.1 121.9 ZM97.1 123.1 L95.4 123.1 96.3 123.7 L97.1 124.3 ZM97.1 150.7 L94.0 150.7 94.2 151.3 L97.1 151.9 ZM97.1 153.1 L93.7 153.1 93.8 153.7 L97.1 154.3 ZM104.2 118.9 L105.2 118.9 106.0 119.5 L104.2 120.1 ZM104.2 121.3 L106.3 121.3 108.9 121.9 L104.2 122.5 ZM104.2 123.7 L104.8 123.7 107.1 124.3 L104.2 124.9 ZM104.2 149.5 L105.2 149.5 104.9 150.1 L104.2 150.7 ZM104.2 151.9 L108.2 151.9 108.0 152.5 L104.2 153.1 ZM104.2 154.3 L106.0 154.3 105.5 154.9 L104.2 155.5 ZM104.2 109.9 L103.9 109.9 103.1 110.5 L104.2 111.1 ZM104.2 120.1 L102.7 120.1 100.5 120.7 L104.2 121.3 ZM104.2 122.5 L102.5 122.5 99.2 123.1 L104.2 123.7 ZM104.2 150.7 L101.4 150.7 102.1 151.3 L104.2 151.9 ZM104.2 153.1 L100.9 153.1 101.3 153.7 L104.2 154.3 ZM111.2 108.7 L111.9 108.7 112.3 109.3 L111.2 109.9 ZM111.2 118.9 L112.4 118.9 112.2 119.5 L111.2 120.1 ZM111.2 121.3 L113.9 121.3 113.8 121.9 L111.2 122.5 ZM111.2 123.7 L113.2 123.7 112.9 124.3 L111.2 124.9 ZM111.2 148.9 L111.5 148.9 112.5 149.5 L111.2 150.1 ZM111.2 151.3 L112.9 151.3 116.7 151.9 L111.2 152.5 ZM111.2 153.7 L111.9 153.7 113.8 154.3 L111.2 154.9 ZM111.2 105.1 L110.9 105.1 110.2 105.7 L111.2 106.3 ZM111.2 109.9 L110.0 109.9 109.9 110.5 L111.2 111.1 ZM111.2 120.1 L109.3 120.1 109.1 120.7 L111.2 121.3 ZM111.2 122.5 L108.9 122.5 108.6 123.1 L111.2 123.7 ZM111.2 150.1 L110.0 150.1 107.4 150.7 L111.2 151.3 ZM111.2 152.5 L110.0 152.5 106.7 153.1 L111.2 153.7 ZM111.2 154.9 L111.1 154.9 110.1 155.5 L111.2 156.1 ZM118.3 108.7 L119.5 108.7 119.8 109.3 L118.3 109.9 ZM118.3 118.9 L119.1 118.9 119.5 119.5 L118.3 120.1 ZM118.3 121.3 L120.2 121.3 121.4 121.9 L118.3 122.5 ZM118.3 123.7 L118.7 123.7 119.7 124.3 L118.3 124.9 ZM118.3 149.5 L119.4 149.5 119.9 150.1 L118.3 150.7 ZM118.3 151.9 L121.7 151.9 122.8 152.5 L118.3 153.1 ZM118.3 154.3 L119.8 154.3 120.2 154.9 L118.3 155.5 ZM118.3 109.9 L117.2 109.9 117.3 110.5 L118.3 111.1 ZM118.3 120.1 L117.0 120.1 115.8 120.7 L118.3 121.3 ZM118.3 122.5 L116.9 122.5 115.8 123.1 L118.3 123.7 ZM118.3 150.7 L115.9 150.7 115.0 151.3 L118.3 151.9 ZM118.3 153.1 L115.6 153.1 114.5 153.7 L118.3 154.3 ZM125.4 108.1 L126.1 108.1 127.4 108.7 125.5 109.3 L125.4 109.9 ZM125.4 111.1 L126.1 111.1 126.6 111.7 125.8 112.3 L125.4 112.9 ZM125.4 118.9 L126.4 118.9 126.4 119.5 L125.4 120.1 ZM125.4 121.3 L126.4 121.3 129.4 121.9 L125.4 122.5 ZM125.4 124.3 L127.3 124.3 L125.4 124.9 ZM125.4 149.5 L125.9 149.5 127.2 150.1 L125.4 150.7 ZM125.4 152.5 L130.4 152.5 126.1 153.1 L125.4 153.7 ZM125.4 154.9 L128.6 154.9 126.3 155.5 L125.4 156.1 ZM125.4 106.9 L124.1 106.9 124.1 107.5 L125.4 108.1 ZM125.4 109.9 L123.9 109.9 124.8 110.5 L125.4 111.1 ZM125.4 120.1 L124.2 120.1 122.3 120.7 L125.4 121.3 ZM125.4 122.5 L124.8 122.5 122.1 123.1 L125.4 123.7 ZM125.4 150.7 L125.0 150.7 121.5 151.3 L125.4 151.9 ZM125.4 153.7 L120.3 153.7 123.6 154.3 L125.4 154.9 ZM132.4 111.7 L134.0 111.7 133.2 112.3 L132.4 112.9 ZM132.4 121.3 L136.3 121.3 133.6 121.9 L132.4 122.5 ZM132.4 123.7 L134.4 123.7 133.4 124.3 L132.4 124.9 ZM132.4 148.9 L132.8 148.9 136.4 149.5 L132.4 150.1 ZM132.4 151.9 L141.6 151.9 133.5 152.5 L132.4 153.1 ZM132.4 154.3 L136.7 154.3 133.7 154.9 L132.4 155.5 ZM132.4 112.9 L131.0 112.9 131.3 113.5 L132.4 114.1 ZM132.4 120.1 L129.8 120.1 131.8 120.7 L132.4 121.3 ZM132.4 122.5 L128.9 122.5 131.2 123.1 L132.4 123.7 ZM132.4 147.7 L131.9 147.7 131.2 148.3 L132.4 148.9 ZM132.4 150.1 L131.9 150.1 125.9 150.7 132.2 151.3 L132.4 151.9 ZM132.4 153.1 L124.6 153.1 130.8 153.7 L132.4 154.3 ZM132.4 155.5 L130.9 155.5 131.7 156.1 L132.4 156.7 ZM139.5 111.7 L141.1 111.7 L139.5 112.3 ZM139.5 114.1 L140.6 114.1 140.1 114.7 L139.5 115.3 ZM139.5 117.7 L139.7 117.7 139.7 118.3 140.4 118.9 140.9 119.5 L139.5 120.1 ZM139.5 121.9 L144.8 121.9 L139.5 122.5 ZM139.5 124.3 L141.4 124.3 L139.5 124.9 ZM139.5 132.1 L139.7 132.1 140.5 132.7 L139.5 133.3 ZM139.5 135.1 L143.3 135.1 140.0 135.7 L139.5 136.3 ZM139.5 137.5 L141.6 137.5 140.0 138.1 L139.5 138.7 ZM139.5 148.3 L140.9 148.3 140.6 148.9 L139.5 149.5 ZM139.5 150.7 L143.5 150.7 142.7 151.3 L139.5 151.9 ZM139.5 153.1 L141.1 153.1 140.8 153.7 L139.5 154.3 ZM139.5 110.5 L138.2 110.5 139.0 111.1 L139.5 111.7 ZM139.5 112.9 L138.0 112.9 138.9 113.5 L139.5 114.1 ZM139.5 120.1 L138.4 120.1 135.9 120.7 L139.5 121.3 ZM139.5 123.1 L135.3 123.1 L139.5 123.7 ZM139.5 133.3 L139.4 133.3 136.9 133.9 139.0 134.5 L139.5 135.1 ZM139.5 136.3 L136.0 136.3 138.8 136.9 L139.5 137.5 ZM139.5 149.5 L136.6 149.5 137.2 150.1 L139.5 150.7 ZM139.5 151.9 L136.6 151.9 136.5 152.5 L139.5 153.1 ZM146.6 108.7 L147.6 108.7 L146.6 109.3 ZM146.6 110.5 L146.8 110.5 148.9 111.1 L146.6 111.7 ZM146.6 118.9 L146.7 118.9 147.6 119.5 L146.6 120.1 ZM146.6 121.9 L150.3 121.9 147.6 122.5 L146.6 123.1 ZM146.6 124.3 L148.5 124.3 L146.6 124.9 ZM146.6 132.7 L147.6 132.7 147.7 133.3 L146.6 133.9 ZM146.6 135.1 L149.3 135.1 149.0 135.7 L146.6 136.3 ZM146.6 137.5 L148.3 137.5 147.4 138.1 L146.6 138.7 ZM146.6 147.7 L147.7 147.7 147.2 148.3 L146.6 148.9 ZM146.6 150.1 L149.4 150.1 148.9 150.7 L146.6 151.3 ZM146.6 152.5 L147.9 152.5 148.7 153.1 L146.6 153.7 ZM146.6 109.9 L144.8 109.9 L146.6 110.5 ZM146.6 111.7 L146.4 111.7 144.7 112.3 146.3 112.9 L146.6 113.5 ZM146.6 120.1 L146.4 120.1 143.7 120.7 146.3 121.3 L146.6 121.9 ZM146.6 123.1 L143.4 123.1 145.6 123.7 L146.6 124.3 ZM146.6 125.5 L145.4 125.5 L146.6 126.1 ZM146.6 133.9 L144.1 133.9 144.8 134.5 L146.6 135.1 ZM146.6 136.3 L143.9 136.3 144.7 136.9 L146.6 137.5 ZM146.6 148.9 L144.0 148.9 145.0 149.5 L146.6 150.1 ZM146.6 151.3 L144.0 151.3 144.1 151.9 L146.6 152.5 ZM146.6 163.9 L145.2 163.9 L146.6 164.5 ZM153.6 110.5 L155.7 110.5 154.3 111.1 L153.6 111.7 ZM153.6 112.9 L154.9 112.9 154.3 113.5 L153.6 114.1 ZM153.6 118.9 L154.4 118.9 155.3 119.5 L153.6 120.1 ZM153.6 121.9 L157.6 121.9 154.6 122.5 L153.6 123.1 ZM153.6 124.3 L155.6 124.3 154.4 124.9 L153.6 125.5 ZM153.6 135.1 L156.3 135.1 155.6 135.7 L153.6 136.3 ZM153.6 145.9 L153.7 145.9 155.3 146.5 154.3 147.1 L153.6 147.7 ZM153.6 148.9 L157.1 148.9 156.1 149.5 L153.6 150.1 ZM153.6 151.3 L155.6 151.3 154.9 151.9 L153.6 152.5 ZM153.6 162.1 L154.0 162.1 154.8 162.7 L153.6 163.3 ZM153.6 176.5 L155.3 176.5 154.3 177.1 L153.6 177.7 ZM153.6 109.3 L152.2 109.3 153.0 109.9 L153.6 110.5 ZM153.6 111.7 L151.8 111.7 152.9 112.3 L153.6 112.9 ZM153.6 120.1 L153.3 120.1 150.5 120.7 152.7 121.3 L153.6 121.9 ZM153.6 123.1 L150.2 123.1 152.4 123.7 L153.6 124.3 ZM153.6 133.9 L151.9 133.9 152.3 134.5 L153.6 135.1 ZM153.6 136.3 L151.3 136.3 151.9 136.9 L153.6 137.5 ZM153.6 147.7 L150.7 147.7 151.6 148.3 L153.6 148.9 ZM153.6 150.1 L150.3 150.1 151.6 150.7 L153.6 151.3 ZM153.6 163.3 L153.0 163.3 152.6 163.9 L153.6 164.5 ZM153.6 177.7 L152.5 177.7 153.1 178.3 L153.6 178.9 ZM160.7 109.9 L162.4 109.9 162.0 110.5 L160.7 111.1 ZM160.7 118.9 L161.8 118.9 161.4 119.5 L160.7 120.1 ZM160.7 121.3 L163.6 121.3 163.4 121.9 L160.7 122.5 ZM160.7 123.7 L162.1 123.7 162.0 124.3 L160.7 124.9 ZM160.7 135.1 L163.9 135.1 162.3 135.7 L160.7 136.3 ZM160.7 137.5 L162.0 137.5 161.7 138.1 L160.7 138.7 ZM160.7 145.3 L161.4 145.3 161.9 145.9 L160.7 146.5 ZM160.7 147.7 L163.7 147.7 164.2 148.3 L160.7 148.9 ZM160.7 150.1 L162.0 150.1 162.3 150.7 L160.7 151.3 ZM160.7 162.7 L161.3 162.7 161.9 163.3 L160.7 163.9 ZM160.7 176.5 L160.9 176.5 161.9 177.1 L160.7 177.7 ZM160.7 179.5 L162.0 179.5 160.9 180.1 L160.7 180.7 ZM160.7 108.1 L160.3 108.1 159.5 108.7 160.0 109.3 L160.7 109.9 ZM160.7 111.1 L159.5 111.1 159.6 111.7 L160.7 112.3 ZM160.7 120.1 L158.5 120.1 158.7 120.7 L160.7 121.3 ZM160.7 122.5 L158.3 122.5 158.7 123.1 L160.7 123.7 ZM160.7 133.9 L158.5 133.9 159.4 134.5 L160.7 135.1 ZM160.7 136.3 L158.1 136.3 158.9 136.9 L160.7 137.5 ZM160.7 146.5 L158.5 146.5 158.0 147.1 L160.7 147.7 ZM160.7 148.9 L158.2 148.9 157.9 149.5 L160.7 150.1 ZM160.7 175.3 L160.0 175.3 159.4 175.9 L160.7 176.5 ZM160.7 177.7 L160.4 177.7 159.6 178.3 L160.7 178.9 ZM167.7 106.9 L168.9 106.9 168.3 107.5 L167.7 108.1 ZM167.7 109.3 L170.2 109.3 169.1 109.9 L167.7 110.5 ZM167.7 118.9 L168.2 118.9 169.3 119.5 L167.7 120.1 ZM167.7 121.3 L168.3 121.3 171.6 121.9 L167.7 122.5 ZM167.7 124.3 L169.6 124.3 167.9 124.9 L167.7 125.5 ZM167.7 132.7 L169.6 132.7 L167.7 133.3 ZM167.7 134.5 L168.0 134.5 171.8 135.1 L167.7 135.7 ZM167.7 136.9 L167.9 136.9 169.6 137.5 168.4 138.1 L167.7 138.7 ZM167.7 162.1 L168.0 162.1 169.4 162.7 167.9 163.3 L167.7 163.9 ZM167.7 176.5 L168.8 176.5 L167.7 177.1 ZM167.7 108.1 L165.9 108.1 166.7 108.7 L167.7 109.3 ZM167.7 110.5 L166.0 110.5 166.7 111.1 L167.7 111.7 ZM167.7 120.1 L166.8 120.1 164.9 120.7 L167.7 121.3 ZM167.7 122.5 L167.4 122.5 164.6 123.1 167.6 123.7 L167.7 124.3 ZM167.7 133.9 L164.8 133.9 L167.7 134.5 ZM167.7 135.7 L166.9 135.7 163.7 136.3 L167.7 136.9 ZM167.7 160.9 L167.5 160.9 166.6 161.5 L167.7 162.1 ZM167.7 163.9 L166.4 163.9 167.4 164.5 L167.7 165.1 ZM174.8 108.7 L175.8 108.7 176.2 109.3 L174.8 109.9 ZM174.8 118.9 L175.4 118.9 176.2 119.5 L174.8 120.1 ZM174.8 121.3 L176.4 121.3 179.3 121.9 L174.8 122.5 ZM174.8 124.3 L176.7 124.3 175.5 124.9 L174.8 125.5 ZM174.8 162.7 L175.8 162.7 176.3 163.3 L174.8 163.9 ZM174.8 176.5 L176.3 176.5 175.5 177.1 L174.8 177.7 ZM174.8 107.5 L174.4 107.5 173.7 108.1 L174.8 108.7 ZM174.8 109.9 L173.7 109.9 173.5 110.5 L174.8 111.1 ZM174.8 120.1 L173.8 120.1 171.6 120.7 L174.8 121.3 ZM174.8 122.5 L173.8 122.5 170.6 123.1 174.5 123.7 L174.8 124.3 ZM174.8 161.5 L174.0 161.5 173.5 162.1 L174.8 162.7 ZM174.8 175.3 L173.5 175.3 174.3 175.9 L174.8 176.5 Z"/><path fill="none" stroke="#2a2a2a" stroke-width="0.82" stroke-linejoin="round" d="M83.3 80.5l-.3 .6 -.1 .6 -.2 .6 .3 .6 0 .6 0 .6 .1 .6 0 .6 -.2 .6 0 .6 .1 .6 .1 .6 0 .6 -.2 .6 0 .6 .2 .6 0 .6 -.1 .6 -.1 .6 .1 .6 -.1 .6 .1 .6 .2 .6 -.1 .6 -.1 .6 .1 .6 -.2 .6 0 .6 0 .6 0 .6 0 .6 .2 .6 .1 .6 -.6 .6 -.1 .6 1.1 .6 .4 .6 -1.7 .6 .3 .6 .6 .6 -.1 .6 -.2 .6 .1 .6 .3 .6 -.4 .6 .2 .6 -.1 .6 -.3 .6 .1 .6 .3 .6 0 .6 .1 .6 -.1 .6 -.1 .6 0 .6 .1 .6 -.2 .6 0 .6 .1 .6 -.2 .6 .3 .6 -.4 .6 .2 .6 1.0 .6 -.6 .6 -1.6 .6 .6 .6 2.0 .6 -.2 .6 -2.4 .6 .2 .6 1.9 .6 -.1 .6 -.5 .6 0 .6 .1 .6 -.5 .6 -.2 .6 -.3 .6 .8 .6 -.6 .6 .9 .6 .3 .6 -.9 .6 0 .6 .1 .6 .3 .6 -.3 .6 .1 .6 -.1 .6 .1 .6 .2 .6 -.3 .6 .1 .6 .1 .6 0 .6 -.3 .6 .3 .6 0 .6 0 .6 -.1 .6 -.3 .6 .1 .6 .3 .6 -.2 .6 0 .6 .4 .6 0 .6 -.3 .6 .2 .6 -.5 .6 -.2 .6 .1 .6 .5 .6 1.8 .6 -1.6 .6 -4.0 .6 3.0 .6 5.7 .6 -3.8 .6 -5.6 .6 2.9 .6 4.4 .6 -2.2 .6 -1.7 .6 .4 .6 .8 .6 .3 .6 -.4 .6 -.3 .6 .2 .6 .1 .6 -.4 .6 .2 .6 .5 .6 -.1 .6 -.3 .6 -.1 .6 0 .6 -.2 .6 .5 .6 0 .6 -.2 .6 -.3 .6 .1 .6 .3 .6 0 .6 -.2 .6 .3 .6 0 .6 -.3 .6 0 .6 -.1 .6 0 .6 .4 .6 0 .6 -.1 .6 -.3 .6 0 .6 .2 .6 -.1 .6 .1 .6 -.2 .6 .2 .6 .2 .6 0 .6 0 .6 -.3 .6 .1 .6 -.1 .6 .2 .6 -.2 .6 -.1 .6 .1 .6 .3 .6 -.1 .6 -.1 .6 -.2 .6 .1 .6 -.2 .6 .6 .6 -.3 .6 0 .6M90.0 80.5l-.1 .6 .3 .6 -.1 .6 -.1 .6 .1 .6 .1 .6 -.1 .6 0 .6 -.1 .6 .1 .6 -.1 .6 0 .6 .1 .6 0 .6 -.1 .6 0 .6 .1 .6 0 .6 0 .6 -.2 .6 .2 .6 .1 .6 -.2 .6 .1 .6 0 .6 -.2 .6 .3 .6 -.2 .6 0 .6 .3 .6 -.1 .6 -.3 .6 0 .6 .5 .6 -.6 .6 -.1 .6 .6 .6 .3 .6 -.5 .6 -.6 .6 .5 .6 .8 .6 -.7 .6 -.5 .6 .6 .6 .4 .6 -.9 .6 -.3 .6 0 .6 .8 .6 0 .6 .1 .6 -.4 .6 .2 .6 0 .6 .3 .6 -.1 .6 -.4 .6 .1 .6 .2 .6 -.1 .6 -.3 .6 -.1 .6 .7 .6 .2 .6 -1.4 .6 -.3 .6 2.3 .6 .5 .6 -2.4 .6 -.8 .6 1.8 .6 .5 .6 -1.1 .6 .4 .6 .4 .6 -.5 .6 .1 .6 .2 .6 -.5 .6 0 .6 .6 .6 0 .6 -.4 .6 -.4 .6 .6 .6 0 .6 -.2 .6 .1 .6 -.5 .6 .4 .6 .3 .6 -.4 .6 .3 .6 .1 .6 -.3 .6 -.1 .6 .4 .6 -.1 .6 -.4 .6 .2 .6 .1 .6 0 .6 -.1 .6 .2 .6 -.3 .6 0 .6 .3 .6 .4 .6 -.6 .6 -.2 .6 -.1 .6 0 .6 1.7 .6 -.4 .6 -2.9 .6 -1.2 .6 5.7 .6 1.8 .6 -6.4 .6 -1.3 .6 4.4 .6 .8 .6 -2.2 .6 -.4 .6 .8 .6 .2 .6 -.1 .6 0 .6 0 .6 -.5 .6 .4 .6 0 .6 .2 .6 -.4 .6 -.2 .6 0 .6 .1 .6 .6 .6 0 .6 .2 .6 -.4 .6 -.1 .6 -.7 .6 .4 .6 .2 .6 .3 .6 .1 .6 -.2 .6 -.4 .6 .2 .6 .1 .6 .2 .6 -.1 .6 -.2 .6 .1 .6 -.2 .6 .1 .6 0 .6 -.1 .6 .1 .6 0 .6 -.1 .6 .6 .6 -.1 .6 -.3 .6 -.2 .6 0 .6 .1 .6 .1 .6 -.3 .6 .4 .6 .1 .6 -.3 .6 .4 .6 -.4 .6 -.1 .6 .1 .6 0 .6 -.2 .6 .2 .6 .4 .6 -.3 .6M97.2 80.5l-.1 .6 0 .6 0 .6 -.1 .6 0 .6 .2 .6 0 .6 -.2 .6 .2 .6 0 .6 0 .6 -.1 .6 -.1 .6 .1 .6 -.1 .6 .2 .6 0 .6 .1 .6 -.2 .6 .1 .6 -.3 .6 .1 .6 .2 .6 0 .6 -.1 .6 -.3 .6 .4 .6 0 .6 0 .6 0 .6 -.2 .6 .1 .6 .3 .6 -.3 .6 .2 .6 -.5 .6 .2 .6 .6 .6 0 .6 -.8 .6 -.3 .6 .4 .6 0 .6 .1 .6 0 .6 .3 .6 -.2 .6 .3 .6 .3 .6 -.9 .6 -.1 .6 .8 .6 .4 .6 -.9 .6 -.3 .6 .3 .6 .2 .6 .2 .6 -.4 .6 .2 .6 0 .6 -.3 .6 -.2 .6 .4 .6 .8 .6 -.6 .6 -1.4 .6 .7 .6 2.5 .6 -.9 .6 -2.8 .6 .9 .6 2.0 .6 -.6 .6 -1.4 .6 .6 .6 .2 .6 -.1 .6 .3 .6 -.4 .6 .4 .6 -.3 .6 -.2 .6 .1 .6 .6 .6 -.1 .6 -.4 .6 .2 .6 .1 .6 -.4 .6 0 .6 .3 .6 -.1 .6 -.2 .6 .4 .6 -.2 .6 0 .6 .4 .6 -.3 .6 .4 .6 -.6 .6 -.1 .6 .1 .6 .3 .6 0 .6 -.1 .6 -.4 .6 .1 .6 .2 .6 .2 .6 .2 .6 -.7 .6 -.2 .6 .2 .6 1.8 .6 -.2 .6 -4.4 .6 .2 .6 7.1 .6 -.2 .6 -7.4 .6 .1 .6 5.1 .6 -.1 .6 -2.2 .6 -.2 .6 .7 .6 .1 .6 .2 .6 -.2 .6 -.1 .6 0 .6 .2 .6 -.1 .6 -.3 .6 .1 .6 0 .6 .2 .6 -.1 .6 -.3 .6 .6 .6 -.2 .6 -.4 .6 .6 .6 -.1 .6 0 .6 -.1 .6 0 .6 -.2 .6 -.4 .6 .4 .6 .3 .6 0 .6 .2 .6 -.3 .6 -.5 .6 .7 .6 -.3 .6 -.2 .6 .2 .6 -.1 .6 .2 .6 -.1 .6 .4 .6 -.3 .6 -.1 .6 0 .6 -.3 .6 .2 .6 .1 .6 0 .6 -.3 .6 .4 .6 .3 .6 -.4 .6 .1 .6 0 .6 -.2 .6 .1 .6 .3 .6 -.1 .6 -.3 .6 -.1 .6M104.1 80.5l.2 .6 .1 .6 -.4 .6 .1 .6 -.2 .6 .4 .6 0 .6 -.1 .6 -.3 .6 .3 .6 0 .6 0 .6 .1 .6 -.1 .6 0 .6 0 .6 -.1 .6 .1 .6 -.1 .6 0 .6 .1 .6 0 .6 .2 .6 -.1 .6 -.3 .6 .1 .6 .2 .6 0 .6 0 .6 -.3 .6 .2 .6 -.1 .6 0 .6 .2 .6 .1 .6 -.2 .6 -.5 .6 .3 .6 .8 .6 -.4 .6 -.6 .6 -.1 .6 .9 .6 .5 .6 -1.0 .6 -.8 .6 1.1 .6 0 .6 -.5 .6 -.8 .6 1.1 .6 1.0 .6 -.6 .6 -.6 .6 .1 .6 0 .6 .4 .6 -.5 .6 .1 .6 -.2 .6 .4 .6 -.4 .6 .1 .6 1.2 .6 .8 .6 -3.3 .6 -2.2 .6 5.8 .6 2.6 .6 -6.4 .6 -3.3 .6 5.6 .6 2.3 .6 -2.8 .6 -.6 .6 .1 .6 .6 .6 -.5 .6 -.1 .6 .3 .6 .4 .6 .1 .6 -.4 .6 0 .6 -.1 .6 -.1 .6 .3 .6 -.1 .6 .1 .6 -.2 .6 -.1 .6 0 .6 .1 .6 .6 .6 -.1 .6 -.4 .6 -.2 .6 -.4 .6 .6 .6 -.1 .6 .2 .6 0 .6 -.2 .6 0 .6 .5 .6 -.5 .6 .3 .6 -.1 .6 -.5 .6 .2 .6 .4 .6 0 .6 -.7 .6 -.3 .6 1.8 .6 -.3 .6 -3.5 .6 .7 .6 6.1 .6 -.2 .6 -7.1 .6 .4 .6 4.7 .6 -.5 .6 -1.5 .6 -.6 .6 1.1 .6 -.8 .6 .1 .6 .4 .6 .4 .6 .4 .6 -1.1 .6 0 .6 .3 .6 -.2 .6 .4 .6 -.2 .6 .1 .6 -.2 .6 0 .6 -.1 .6 .2 .6 .2 .6 0 .6 -.4 .6 -.2 .6 .3 .6 .3 .6 0 .6 -.1 .6 -.1 .6 -.2 .6 .1 .6 0 .6 .6 .6 -.7 .6 .2 .6 .2 .6 -.7 .6 .4 .6 -.1 .6 .3 .6 -.6 .6 .7 .6 -.4 .6 0 .6 .2 .6 .3 .6 -.2 .6 -.3 .6 .2 .6 0 .6 .1 .6 0 .6 0 .6 -.5 .6 .4 .6 -.1 .6 .3 .6 -.3 .6 .2 .6 -.1 .6M111.2 80.5l.1 .6 -.1 .6 0 .6 0 .6 .1 .6 0 .6 -.1 .6 .1 .6 -.1 .6 0 .6 .1 .6 0 .6 0 .6 0 .6 -.1 .6 0 .6 -.1 .6 .1 .6 .2 .6 -.1 .6 -.1 .6 0 .6 0 .6 .1 .6 0 .6 .1 .6 -.2 .6 0 .6 0 .6 0 .6 .1 .6 -.1 .6 -.1 .6 .4 .6 -.2 .6 .2 .6 -.3 .6 -.7 .6 .9 .6 .5 .6 -1.0 .6 -.7 .6 1.6 .6 .4 .6 -1.1 .6 -.4 .6 1.2 .6 .4 .6 -2.3 .6 -.1 .6 2.1 .6 .2 .6 -1.1 .6 -.1 .6 .3 .6 .1 .6 -.1 .6 -.3 .6 .4 .6 -.3 .6 -.1 .6 -.1 .6 .2 .6 1.3 .6 -.2 .6 -2.9 .6 -.2 .6 4.8 .6 -.1 .6 -4.9 .6 -.3 .6 4.6 .6 -.3 .6 -1.8 .6 -.4 .6 .5 .6 .5 .6 -1.3 .6 .4 .6 .3 .6 .4 .6 -.3 .6 .5 .6 -1.2 .6 1.2 .6 -.3 .6 0 .6 -.3 .6 .3 .6 -.2 .6 .1 .6 -.3 .6 .4 .6 -.1 .6 -.7 .6 .5 .6 .1 .6 .4 .6 -.6 .6 .3 .6 .5 .6 -.8 .6 1.2 .6 -.6 .6 -.5 .6 -.6 .6 0 .6 1.1 .6 -.4 .6 0 .6 .6 .6 -.4 .6 -.6 .6 .7 .6 1.0 .6 -2.5 .6 -2.6 .6 5.5 .6 3.8 .6 -6.7 .6 -3.3 .6 5.2 .6 1.9 .6 -2.7 .6 -1.0 .6 1.2 .6 -.2 .6 .3 .6 .2 .6 -.4 .6 .1 .6 -.1 .6 .3 .6 -.2 .6 -.2 .6 .2 .6 0 .6 -.1 .6 0 .6 -.1 .6 .1 .6 .2 .6 -.4 .6 .3 .6 0 .6 -.1 .6 .3 .6 -.1 .6 -.2 .6 .1 .6 0 .6 -.3 .6 .2 .6 0 .6 .2 .6 .2 .6 -.4 .6 -.1 .6 -.1 .6 .3 .6 0 .6 -.4 .6 .7 .6 0 .6 -.8 .6 .1 .6 .4 .6 .1 .6 .1 .6 -.2 .6 .2 .6 -.4 .6 .2 .6 -.1 .6 0 .6 -.2 .6 .2 .6 .3 .6 -.3 .6 0 .6 .1 .6 -.2 .6 .2 .6M118.2 80.5l0 .6 .2 .6 -.1 .6 0 .6 0 .6 0 .6 0 .6 .1 .6 -.1 .6 -.1 .6 0 .6 .1 .6 .1 .6 .1 .6 -.1 .6 -.2 .6 .1 .6 -.1 .6 .1 .6 0 .6 -.1 .6 .2 .6 0 .6 -.1 .6 0 .6 .1 .6 -.1 .6 -.1 .6 .1 .6 .2 .6 -.1 .6 -.3 .6 0 .6 .1 .6 .2 .6 .3 .6 -.4 .6 -.4 .6 .4 .6 .6 .6 -.5 .6 -.9 .6 .6 .6 1.0 .6 -1.3 .6 -.5 .6 2.2 .6 .3 .6 -2.6 .6 .1 .6 1.4 .6 .4 .6 -.7 .6 -.3 .6 .1 .6 .2 .6 -.1 .6 -.3 .6 0 .6 .2 .6 .6 .6 -.5 .6 -.1 .6 .9 .6 .4 .6 -2.5 .6 -1.2 .6 4.4 .6 1.2 .6 -4.5 .6 -1.1 .6 2.9 .6 1.0 .6 -1.7 .6 0 .6 .4 .6 .1 .6 -.2 .6 -.4 .6 .4 .6 -.1 .6 .4 .6 -.3 .6 -.2 .6 .6 .6 -.4 .6 -.2 .6 .2 .6 0 .6 0 .6 -.2 .6 .4 .6 -.1 .6 .2 .6 -.2 .6 -.2 .6 .2 .6 -.1 .6 0 .6 -.5 .6 .3 .6 .6 .6 -.1 .6 -.6 .6 .4 .6 .2 .6 .1 .6 -.6 .6 -.2 .6 .5 .6 -.1 .6 0 .6 -.5 .6 .3 .6 1.3 .6 .5 .6 -4.0 .6 -.9 .6 6.7 .6 1.1 .6 -7.2 .6 -1.1 .6 5.3 .6 .4 .6 -2.2 .6 -.1 .6 .2 .6 .1 .6 .2 .6 -.2 .6 .1 .6 .1 .6 -.1 .6 .1 .6 -.3 .6 .1 .6 .1 .6 .2 .6 -.3 .6 .2 .6 .1 .6 -.1 .6 -.2 .6 .4 .6 -.8 .6 .8 .6 .1 .6 -.1 .6 -.6 .6 .7 .6 -.2 .6 -.7 .6 .2 .6 -.2 .6 .7 .6 .4 .6 -.3 .6 -.5 .6 0 .6 .2 .6 0 .6 .1 .6 -.1 .6 .3 .6 -.3 .6 .2 .6 -.6 .6 .2 .6 .3 .6 .2 .6 -.1 .6 -.4 .6 0 .6 .2 .6 0 .6 0 .6 0 .6 -.2 .6 .4 .6 .1 .6 -.6 .6 0 .6 .7 .6M125.5 80.5l-.1 .6 0 .6 -.1 .6 0 .6 0 .6 .1 .6 0 .6 0 .6 -.1 .6 0 .6 .1 .6 .1 .6 0 .6 -.2 .6 -.1 .6 .2 .6 0 .6 0 .6 0 .6 -.1 .6 0 .6 -.2 .6 .4 .6 -.1 .6 -.1 .6 .1 .6 -.1 .6 0 .6 .1 .6 0 .6 -.1 .6 .1 .6 0 .6 0 .6 -.2 .6 .2 .6 0 .6 .4 .6 -.4 .6 -.6 .6 1.1 .6 -.2 .6 -.3 .6 -1.3 .6 0 .6 2.0 .6 1.3 .6 -1.9 .6 -1.6 .6 .9 .6 1.3 .6 .5 .6 -.8 .6 -1.0 .6 .2 .6 -.1 .6 .8 .6 -.3 .6 -.5 .6 .6 .6 -.1 .6 -.5 .6 .2 .6 1.3 .6 0 .6 -2.2 .6 -1.9 .6 4.1 .6 3.0 .6 -4.6 .6 -2.7 .6 3.3 .6 1.9 .6 -1.9 .6 -.7 .6 .8 .6 0 .6 -.2 .6 .1 .6 -.2 .6 .1 .6 -.1 .6 .2 .6 0 .6 .3 .6 -.2 .6 -.2 .6 .1 .6 -.2 .6 .1 .6 .1 .6 .1 .6 .2 .6 -.2 .6 -.4 .6 .2 .6 -.1 .6 .6 .6 -.8 .6 .3 .6 .2 .6 -.3 .6 .1 .6 .2 .6 -.3 .6 .3 .6 -.2 .6 0 .6 .4 .6 -.2 .6 -.1 .6 -.1 .6 -.1 .6 -.4 .6 1.1 .6 1.3 .6 -2.2 .6 -3.5 .6 3.8 .6 5.1 .6 -4.3 .6 -5.8 .6 3.3 .6 5.0 .6 -2.3 .6 -1.3 .6 .3 .6 .3 .6 -.5 .6 .2 .6 0 .6 -.1 .6 .3 .6 .1 .6 -.2 .6 -.1 .6 -.2 .6 .8 .6 -.3 .6 -.4 .6 0 .6 .1 .6 0 .6 .1 .6 -.1 .6 .2 .6 -.1 .6 0 .6 -.1 .6 .2 .6 0 .6 -.2 .6 -.1 .6 .2 .6 -.3 .6 .1 .6 .4 .6 .1 .6 -.3 .6 .1 .6 .2 .6 -.7 .6 .1 .6 .4 .6 .3 .6 -.9 .6 -.1 .6 1.0 .6 .1 .6 -.7 .6 .2 .6 .4 .6 -.5 .6 -.6 .6 .7 .6 .3 .6 -.5 .6 .6 .6 -.5 .6 -.4 .6 .4 .6 -.2 .6 .7 .6M132.4 80.5l0 .6 0 .6 0 .6 .1 .6 -.1 .6 0 .6 .1 .6 0 .6 -.2 .6 .1 .6 0 .6 0 .6 .1 .6 0 .6 -.1 .6 .1 .6 -.1 .6 0 .6 -.1 .6 .1 .6 .1 .6 -.1 .6 .1 .6 .1 .6 -.2 .6 0 .6 .4 .6 -.4 .6 -.3 .6 .2 .6 .2 .6 -.1 .6 0 .6 0 .6 -.1 .6 0 .6 .3 .6 .2 .6 -.1 .6 -.4 .6 .7 .6 -.3 .6 -.9 .6 -.2 .6 .9 .6 -.3 .6 .3 .6 .8 .6 -.4 .6 -1.2 .6 -.1 .6 2.4 .6 -.8 .6 -2.2 .6 .3 .6 1.8 .6 -.3 .6 -.9 .6 .8 .6 .3 .6 -.2 .6 -1.0 .6 .3 .6 1.3 .6 -.6 .6 -3.0 .6 2.0 .6 4.5 .6 -2.7 .6 -4.7 .6 2.3 .6 3.2 .6 -1.0 .6 -1.5 .6 .1 .6 .6 .6 -.1 .6 -.3 .6 .1 .6 .2 .6 .2 .6 -.3 .6 0 .6 0 .6 -.1 .6 -.1 .6 .4 .6 -.1 .6 .1 .6 0 .6 -.2 .6 -.1 .6 .1 .6 0 .6 0 .6 0 .6 -.2 .6 .1 .6 0 .6 .1 .6 .1 .6 .2 .6 -.1 .6 -.1 .6 -.2 .6 .1 .6 .1 .6 -.1 .6 0 .6 -.2 .6 .5 .6 -.8 .6 -.7 .6 1.6 .6 3.6 .6 -4.5 .6 -6.0 .6 6.3 .6 9.4 .6 -8.1 .6 -8.9 .6 6.2 .6 5.9 .6 -3.0 .6 -2.8 .6 .8 .6 1.0 .6 -.3 .6 .1 .6 0 .6 0 .6 -.2 .6 .3 .6 -.2 .6 .1 .6 -.1 .6 0 .6 -.2 .6 .3 .6 .1 .6 -.3 .6 .4 .6 -.4 .6 0 .6 .1 .6 .2 .6 -.2 .6 0 .6 .1 .6 0 .6 .2 .6 -.3 .6 -.1 .6 -.1 .6 .1 .6 .4 .6 -.1 .6 -.1 .6 -.1 .6 -.3 .6 .5 .6 -.1 .6 -.4 .6 .2 .6 .1 .6 .3 .6 -.2 .6 .1 .6 .1 .6 -.2 .6 -.3 .6 -.1 .6 .3 .6 .2 .6 -.1 .6 -.2 .6 .2 .6 -.2 .6 .1 .6 .2 .6 -.1 .6 -.1 .6 -.1 .6M139.6 80.5l-.1 .6 -.1 .6 0 .6 .1 .6 0 .6 0 .6 0 .6 -.1 .6 .2 .6 -.1 .6 .1 .6 -.1 .6 0 .6 -.1 .6 .1 .6 0 .6 -.1 .6 0 .6 0 .6 .1 .6 .1 .6 -.1 .6 -.1 .6 .1 .6 .1 .6 -.2 .6 .1 .6 .1 .6 0 .6 -.2 .6 .1 .6 .3 .6 -.5 .6 .1 .6 .1 .6 .1 .6 -.1 .6 -.1 .6 .2 .6 -.3 .6 0 .6 .5 .6 -.1 .6 -.6 .6 0 .6 .6 .6 .1 .6 .5 .6 -.7 .6 -1.4 .6 .8 .6 2.1 .6 -1.6 .6 -1.5 .6 .9 .6 1.7 .6 -.5 .6 -.8 .6 0 .6 -.2 .6 .1 .6 .5 .6 0 .6 .7 .6 .5 .6 -2.5 .6 -2.5 .6 3.6 .6 5.3 .6 -5.4 .6 -4.1 .6 4.2 .6 1.9 .6 -2.3 .6 -.1 .6 .5 .6 .6 .6 -.4 .6 -.5 .6 -.2 .6 .5 .6 0 .6 .1 .6 0 .6 -.2 .6 .3 .6 .8 .6 -1.1 .6 -2.5 .6 2.1 .6 4.3 .6 -3.3 .6 -4.0 .6 2.8 .6 2.8 .6 -1.6 .6 -1.1 .6 .9 .6 -.7 .6 .5 .6 0 .6 -.1 .6 0 .6 .3 .6 -.2 .6 -.9 .6 .7 .6 .2 .6 .2 .6 -.2 .6 -.6 .6 .2 .6 1.7 .6 -.3 .6 -4.0 .6 .6 .6 6.3 .6 -.8 .6 -6.1 .6 -.1 .6 4.6 .6 -.3 .6 -2.1 .6 .2 .6 .8 .6 0 .6 -.4 .6 .2 .6 .3 .6 -.3 .6 -.3 .6 .4 .6 0 .6 .1 .6 -.4 .6 0 .6 .1 .6 .3 .6 -.1 .6 -.2 .6 .2 .6 .3 .6 -.3 .6 -.4 .6 .1 .6 -.3 .6 .5 .6 .1 .6 -.1 .6 .3 .6 -.1 .6 -.3 .6 .2 .6 0 .6 .1 .6 -.3 .6 -.2 .6 -.1 .6 .5 .6 .4 .6 -.4 .6 -.3 .6 -.2 .6 .4 .6 -.4 .6 .5 .6 .4 .6 -.1 .6 -.9 .6 .6 .6 -.7 .6 .8 .6 .2 .6 -.3 .6 -.1 .6 -.2 .6 .2 .6 -.1 .6 -.4 .6 .5 .6 .3 .6 -.5 .6 .4 .6M146.6 80.5l.1 .6 -.2 .6 -.1 .6 .2 .6 0 .6 -.1 .6 .1 .6 -.1 .6 0 .6 0 .6 0 .6 .1 .6 -.1 .6 .1 .6 0 .6 0 .6 -.1 .6 0 .6 0 .6 .1 .6 .1 .6 -.1 .6 -.2 .6 .1 .6 0 .6 .1 .6 0 .6 0 .6 -.1 .6 -.1 .6 .2 .6 .1 .6 -.2 .6 0 .6 0 .6 .1 .6 0 .6 -.3 .6 .5 .6 -.2 .6 -.2 .6 -.1 .6 1.0 .6 -.7 .6 -.8 .6 .6 .6 1.2 .6 -1.0 .6 -1.8 .6 2.0 .6 2.1 .6 -2.5 .6 -1.7 .6 1.6 .6 1.1 .6 -.6 .6 -.6 .6 .4 .6 .2 .6 -.2 .6 .1 .6 -.3 .6 -.3 .6 .6 .6 .9 .6 -1.2 .6 -2.7 .6 2.6 .6 4.0 .6 -2.7 .6 -4.2 .6 2.2 .6 2.9 .6 -1.9 .6 -1.2 .6 1.1 .6 .7 .6 -.6 .6 .1 .6 0 .6 .4 .6 -.7 .6 -.4 .6 .3 .6 .1 .6 .2 .6 1.0 .6 .1 .6 -3.6 .6 .7 .6 4.5 .6 -.3 .6 -5.1 .6 .8 .6 3.6 .6 -.9 .6 -1.4 .6 .2 .6 .3 .6 .1 .6 0 .6 .1 .6 -.2 .6 .2 .6 -.2 .6 0 .6 -.1 .6 .1 .6 .1 .6 .1 .6 -.1 .6 1.1 .6 -.5 .6 -3.2 .6 1.0 .6 4.4 .6 -.5 .6 -4.9 .6 .1 .6 3.8 .6 .8 .6 -2.9 .6 -.1 .6 .3 .6 .5 .6 .4 .6 .5 .6 -.4 .6 -.5 .6 -.1 .6 .3 .6 -.2 .6 .6 .6 -.8 .6 -.3 .6 -.4 .6 1.9 .6 -.9 .6 -1.4 .6 1.5 .6 .8 .6 -.7 .6 0 .6 -1.0 .6 .7 .6 -.2 .6 .5 .6 0 .6 -.3 .6 -.1 .6 0 .6 .3 .6 -.1 .6 .2 .6 -.2 .6 -.1 .6 -.2 .6 0 .6 .3 .6 -.1 .6 .2 .6 -.1 .6 -.2 .6 0 .6 .3 .6 0 .6 -.1 .6 -.2 .6 .1 .6 -.1 .6 .6 .6 -.4 .6 -.1 .6 -.1 .6 -.1 .6 .4 .6 -.3 .6 .2 .6 .1 .6 -.2 .6 -.1 .6 .3 .6 -.2 .6M153.6 80.5l0 .6 .2 .6 -.2 .6 0 .6 -.1 .6 0 .6 .2 .6 -.1 .6 0 .6 0 .6 .1 .6 -.1 .6 0 .6 -.1 .6 .1 .6 0 .6 0 .6 0 .6 .2 .6 -.1 .6 -.1 .6 0 .6 -.1 .6 .2 .6 .1 .6 -.2 .6 .1 .6 -.1 .6 -.2 .6 .2 .6 0 .6 .2 .6 -.1 .6 -.2 .6 .1 .6 .1 .6 0 .6 -.3 .6 .3 .6 0 .6 -.5 .6 .4 .6 .6 .6 -.5 .6 -.6 .6 1.0 .6 -.1 .6 -1.8 .6 .8 .6 2.7 .6 -1.4 .6 -2.5 .6 1.1 .6 2.0 .6 -.6 .6 -1.0 .6 -.2 .6 .6 .6 -.2 .6 0 .6 .3 .6 -.4 .6 -.2 .6 1.2 .6 .9 .6 -2.0 .6 -2.8 .6 2.2 .6 4.9 .6 -3.0 .6 -4.4 .6 2.2 .6 3.2 .6 -1.2 .6 -1.4 .6 .3 .6 .3 .6 .3 .6 -.2 .6 -.3 .6 0 .6 .3 .6 .3 .6 -.3 .6 -.5 .6 .2 .6 1.0 .6 -.2 .6 -2.3 .6 .4 .6 4.0 .6 -.7 .6 -4.3 .6 .6 .6 2.7 .6 -.1 .6 -1.7 .6 .7 .6 .1 .6 .2 .6 -.5 .6 .7 .6 -.1 .6 -.3 .6 -.1 .6 0 .6 0 .6 0 .6 .2 .6 1.6 .6 -1.0 .6 -3.6 .6 .9 .6 5.5 .6 -1.0 .6 -5.8 .6 1.3 .6 4.0 .6 -.7 .6 -1.9 .6 -.1 .6 .8 .6 .1 .6 -.1 .6 -.1 .6 -.4 .6 .5 .6 .1 .6 -.1 .6 -.1 .6 0 .6 .4 .6 -.1 .6 -.8 .6 -.2 .6 1.1 .6 .8 .6 -1.8 .6 -.4 .6 1.2 .6 .4 .6 -.8 .6 .4 .6 -.3 .6 0 .6 .5 .6 -.4 .6 -.6 .6 .5 .6 .3 .6 .2 .6 -.2 .6 -.3 .6 .5 .6 -.7 .6 -.1 .6 .8 .6 -1.0 .6 .4 .6 1.9 .6 -1.0 .6 -1.8 .6 .6 .6 .9 .6 0 .6 -.7 .6 0 .6 .1 .6 .4 .6 .2 .6 -.4 .6 -.4 .6 .2 .6 .3 .6 -.1 .6 -.2 .6 -.1 .6 .8 .6 -.4 .6 0 .6 -.2 .6 -.3 .6 .8 .6M160.8 80.5l-.1 .6 -.1 .6 0 .6 0 .6 0 .6 0 .6 0 .6 .2 .6 -.1 .6 .1 .6 -.1 .6 -.1 .6 .1 .6 0 .6 -.1 .6 -.1 .6 .3 .6 -.2 .6 0 .6 .2 .6 .3 .6 -.2 .6 -.4 .6 -.1 .6 0 .6 .3 .6 .1 .6 0 .6 -.3 .6 .1 .6 .2 .6 -.1 .6 -.1 .6 0 .6 .2 .6 -.1 .6 -.1 .6 0 .6 .2 .6 .1 .6 -.1 .6 -.3 .6 -.2 .6 .8 .6 .3 .6 -1.1 .6 -.8 .6 .5 .6 2.4 .6 -.4 .6 -2.5 .6 .1 .6 1.7 .6 0 .6 -1.0 .6 .3 .6 -.1 .6 .4 .6 -.2 .6 0 .6 0 .6 -.5 .6 .2 .6 1.4 .6 -.4 .6 -2.9 .6 .2 .6 4.9 .6 -.2 .6 -5.1 .6 .4 .6 3.4 .6 -.1 .6 -1.9 .6 0 .6 .4 .6 .3 .6 .4 .6 -.5 .6 -.4 .6 .4 .6 -.1 .6 .3 .6 -.3 .6 -.5 .6 .7 .6 .8 .6 -.6 .6 -2.5 .6 .9 .6 4.5 .6 -1.6 .6 -4.2 .6 .8 .6 3.1 .6 -.3 .6 -1.2 .6 .1 .6 .2 .6 0 .6 -.2 .6 .1 .6 -.3 .6 .4 .6 -.1 .6 -.1 .6 -.4 .6 1.2 .6 .5 .6 -3.4 .6 -.5 .6 5.7 .6 .5 .6 -6.0 .6 -.3 .6 4.1 .6 .3 .6 -2.2 .6 .1 .6 .6 .6 .1 .6 -.1 .6 -.2 .6 .2 .6 -.2 .6 -.2 .6 .2 .6 .2 .6 0 .6 0 .6 -.3 .6 -.3 .6 .7 .6 .3 .6 -1.1 .6 -.4 .6 1.6 .6 .6 .6 -1.6 .6 -.4 .6 .9 .6 .4 .6 -.6 .6 .1 .6 0 .6 -.1 .6 .1 .6 0 .6 .3 .6 -.9 .6 .3 .6 .2 .6 .4 .6 -.3 .6 .1 .6 .2 .6 .3 .6 -1.3 .6 -.6 .6 1.5 .6 1.0 .6 -1.5 .6 -.8 .6 1.0 .6 1.4 .6 -1.1 .6 -.8 .6 .6 .6 .5 .6 -1.2 .6 .2 .6 1.3 .6 -.7 .6 -.6 .6 .5 .6 .2 .6 -.3 .6 -.1 .6 .3 .6 .2 .6 -1.2 .6 .7 .6 1.0 .6M167.8 80.5l.1 .6 -.2 .6 -.1 .6 .1 .6 0 .6 0 .6 0 .6 .1 .6 0 .6 -.1 .6 0 .6 0 .6 0 .6 0 .6 .1 .6 -.2 .6 .2 .6 -.2 .6 .2 .6 .2 .6 -.3 .6 .1 .6 -.1 .6 0 .6 .1 .6 -.2 .6 .1 .6 0 .6 .1 .6 0 .6 0 .6 -.1 .6 .1 .6 -.2 .6 .2 .6 .1 .6 -.3 .6 0 .6 .2 .6 .4 .6 -.3 .6 -.9 .6 .2 .6 1.7 .6 -.6 .6 -2.4 .6 .8 .6 3.5 .6 -1.1 .6 -3.1 .6 .7 .6 2.0 .6 -.4 .6 -1.4 .6 .5 .6 .8 .6 -.1 .6 -.1 .6 -.2 .6 -.2 .6 -.1 .6 -.1 .6 -.1 .6 .9 .6 1.1 .6 -2.5 .6 -1.9 .6 3.4 .6 3.3 .6 -4.2 .6 -2.8 .6 3.0 .6 2.0 .6 -1.7 .6 -1.1 .6 1.2 .6 -.3 .6 0 .6 .3 .6 -.3 .6 -.2 .6 .5 .6 -.1 .6 -.5 .6 .2 .6 .2 .6 1.8 .6 -1.9 .6 -2.9 .6 3.2 .6 3.8 .6 -4.9 .6 -3.2 .6 4.2 .6 1.7 .6 -1.2 .6 -1.0 .6 0 .6 .9 .6 -.8 .6 .3 .6 -.1 .6 -.3 .6 .6 .6 -.4 .6 0 .6 .4 .6 -.4 .6 .3 .6 -.2 .6 -.1 .6 -.2 .6 .2 .6 .3 .6 0 .6 -.4 .6 .6 .6 -.3 .6 .1 .6 -.5 .6 0 .6 .7 .6 -.4 .6 .2 .6 -.1 .6 -.1 .6 -.1 .6 0 .6 .4 .6 -.4 .6 .1 .6 .1 .6 .3 .6 -.6 .6 -.9 .6 1.4 .6 1.4 .6 -1.5 .6 -1.5 .6 1.0 .6 .8 .6 -.1 .6 -.7 .6 .1 .6 .4 .6 -.1 .6 0 .6 .1 .6 -.3 .6 .5 .6 -.5 .6 0 .6 .3 .6 -.5 .6 .3 .6 .3 .6 -.1 .6 -1.0 .6 .9 .6 1.0 .6 -1.2 .6 -.6 .6 .8 .6 .6 .6 -.4 .6 -.6 .6 -.2 .6 .4 .6 -.1 .6 .2 .6 0 .6 .3 .6 .2 .6 -.2 .6 -.3 .6 0 .6 .4 .6 -.9 .6 0 .6 .3 .6 .8 .6 -.8 .6 .4 .6M174.7 80.5l.1 .6 0 .6 0 .6 0 .6 0 .6 0 .6 0 .6 0 .6 .1 .6 -.1 .6 .1 .6 -.1 .6 0 .6 0 .6 -.1 .6 .1 .6 0 .6 -.1 .6 0 .6 .1 .6 .1 .6 0 .6 0 .6 -.1 .6 -.2 .6 .2 .6 0 .6 0 .6 0 .6 -.1 .6 .2 .6 -.1 .6 -.2 .6 .2 .6 .1 .6 -.1 .6 0 .6 .1 .6 -.1 .6 0 .6 .1 .6 -.4 .6 .2 .6 .6 .6 -.9 .6 -.7 .6 2.1 .6 .4 .6 -2.5 .6 -.2 .6 2.0 .6 -.1 .6 -.8 .6 0 .6 .4 .6 .1 .6 -.8 .6 .2 .6 .2 .6 .4 .6 -.1 .6 -.2 .6 -.5 .6 1.1 .6 .8 .6 -2.4 .6 -2.2 .6 4.8 .6 2.9 .6 -5.5 .6 -3.2 .6 3.9 .6 2.2 .6 -1.2 .6 -1.5 .6 .9 .6 .4 .6 -.7 .6 .2 .6 -.2 .6 .4 .6 0 .6 -.6 .6 .3 .6 0 .6 .3 .6 .1 .6 -.3 .6 -.4 .6 .1 .6 .5 .6 0 .6 -.1 .6 -.3 .6 -.1 .6 .3 .6 .1 .6 .3 .6 -.3 .6 -.1 .6 .3 .6 -.8 .6 .3 .6 .3 .6 -.1 .6 -.1 .6 .2 .6 .1 .6 -.2 .6 .3 .6 -.4 .6 -.1 .6 0 .6 .1 .6 -.2 .6 .4 .6 .2 .6 -.3 .6 -.2 .6 .1 .6 .1 .6 -.3 .6 .3 .6 .6 .6 -.6 .6 -.2 .6 -.1 .6 .5 .6 -.4 .6 .2 .6 .4 .6 -.6 .6 .5 .6 .1 .6 -1.2 .6 -.5 .6 2.3 .6 .5 .6 -2.0 .6 -.2 .6 .9 .6 .3 .6 -.7 .6 0 .6 .4 .6 -.2 .6 -.1 .6 -.2 .6 0 .6 .1 .6 .4 .6 -.2 .6 0 .6 .2 .6 0 .6 .3 .6 -.5 .6 -1.3 .6 .8 .6 2.0 .6 -.8 .6 -1.7 .6 .8 .6 .8 .6 -.3 .6 -.6 .6 -.1 .6 .2 .6 .2 .6 -.1 .6 .1 .6 .3 .6 -.2 .6 -.2 .6 .2 .6 0 .6 -.2 .6 -.1 .6 .4 .6 -.1 .6 -.2 .6 -.1 .6 .3 .6"/>
<line x1="60.00" y1="20.20" x2="60.00" y2="191.30" stroke="#8c8c8c" stroke-width="1.0"/>
<line x1="59.50" y1="191.30" x2="267.00" y2="191.30" stroke="#5e5e5e" stroke-width="0.9"/>
<line x1="266.55" y1="80.50" x2="266.55" y2="190.90" stroke="#5c5c5c" stroke-width="0.9"/>
<line x1="56.00" y1="73.90" x2="60.00" y2="73.90" stroke="#555" stroke-width="0.9"/>
<text x="50.0" y="78.2" font-size="12.6" text-anchor="end" font-weight="normal" fill="#000" letter-spacing="0.3">0</text>
<line x1="58.00" y1="60.48" x2="60.00" y2="60.48" stroke="#555" stroke-width="0.9"/>
<line x1="56.00" y1="47.05" x2="60.00" y2="47.05" stroke="#555" stroke-width="0.9"/>
<text x="50.0" y="51.4" font-size="12.6" text-anchor="end" font-weight="normal" fill="#000" letter-spacing="0.3">2000</text>
<line x1="58.00" y1="33.63" x2="60.00" y2="33.63" stroke="#555" stroke-width="0.9"/>
<line x1="56.00" y1="20.20" x2="60.00" y2="20.20" stroke="#555" stroke-width="0.9"/>
<text x="50.0" y="24.5" font-size="12.6" text-anchor="end" font-weight="normal" fill="#000" letter-spacing="0.3">4000</text>
<line x1="58.00" y1="85.64" x2="60.00" y2="85.64" stroke="#555" stroke-width="0.9"/>
<line x1="56.00" y1="97.38" x2="60.00" y2="97.38" stroke="#555" stroke-width="0.9"/>
<text x="50.0" y="101.7" font-size="12.6" text-anchor="end" font-weight="normal" fill="#000" letter-spacing="0.3">200</text>
<line x1="58.00" y1="109.12" x2="60.00" y2="109.12" stroke="#555" stroke-width="0.9"/>
<line x1="56.00" y1="120.86" x2="60.00" y2="120.86" stroke="#555" stroke-width="0.9"/>
<text x="50.0" y="125.2" font-size="12.6" text-anchor="end" font-weight="normal" fill="#000" letter-spacing="0.3">400</text>
<line x1="58.00" y1="132.60" x2="60.00" y2="132.60" stroke="#555" stroke-width="0.9"/>
<line x1="56.00" y1="144.34" x2="60.00" y2="144.34" stroke="#555" stroke-width="0.9"/>
<text x="50.0" y="148.6" font-size="12.6" text-anchor="end" font-weight="normal" fill="#000" letter-spacing="0.3">600</text>
<line x1="58.00" y1="156.08" x2="60.00" y2="156.08" stroke="#555" stroke-width="0.9"/>
<line x1="56.00" y1="167.82" x2="60.00" y2="167.82" stroke="#555" stroke-width="0.9"/>
<text x="50.0" y="172.1" font-size="12.6" text-anchor="end" font-weight="normal" fill="#000" letter-spacing="0.3">800</text>
<line x1="58.00" y1="179.56" x2="60.00" y2="179.56" stroke="#555" stroke-width="0.9"/>
<line x1="56.00" y1="191.30" x2="60.00" y2="191.30" stroke="#555" stroke-width="0.9"/>
<text x="50.0" y="195.6" font-size="12.6" text-anchor="end" font-weight="normal" fill="#000" letter-spacing="0.3">1000</text>
<line x1="81.70" y1="191.30" x2="81.70" y2="194.90" stroke="#555" stroke-width="0.8"/>
<text x="81.7" y="211.5" font-size="12.8" text-anchor="middle" font-weight="normal" fill="#000" >114</text>
<line x1="105.20" y1="191.30" x2="105.20" y2="193.30" stroke="#555" stroke-width="0.8"/>
<line x1="128.70" y1="191.30" x2="128.70" y2="194.90" stroke="#555" stroke-width="0.8"/>
<text x="128.7" y="211.5" font-size="12.8" text-anchor="middle" font-weight="normal" fill="#000" >116</text>
<line x1="152.20" y1="191.30" x2="152.20" y2="193.30" stroke="#555" stroke-width="0.8"/>
<line x1="175.70" y1="191.30" x2="175.70" y2="194.90" stroke="#555" stroke-width="0.8"/>
<text x="175.7" y="211.5" font-size="12.8" text-anchor="middle" font-weight="normal" fill="#000" >118</text>
<line x1="199.20" y1="191.30" x2="199.20" y2="193.30" stroke="#555" stroke-width="0.8"/>
<line x1="222.70" y1="191.30" x2="222.70" y2="194.90" stroke="#555" stroke-width="0.8"/>
<text x="222.7" y="211.5" font-size="12.8" text-anchor="middle" font-weight="normal" fill="#000" >120</text>
<line x1="246.20" y1="191.30" x2="246.20" y2="193.30" stroke="#555" stroke-width="0.8"/>
<text x="66.2" y="27.7" font-size="13.8" text-anchor="start" font-weight="normal" fill="#000" >NW</text>
<text x="264.2" y="27.7" font-size="13.8" text-anchor="end" font-weight="normal" fill="#000" >SE</text>
<text x="167.3" y="27.9" font-size="13.8" text-anchor="middle" font-weight="normal" fill="#000" letter-spacing="0.55">2–5 s</text>
<text x="250.6" y="98.0" font-size="19" text-anchor="middle" font-weight="bold" fill="#000" >a</text>
<polygon points="316.0,81.0 316.2,53.4 317.5,53.5 318.9,54.6 321.4,54.3 323.0,52.8 324.5,53.8 326.7,52.8 328.0,52.3 329.5,54.2 332.6,54.2 335.1,54.6 337.0,55.2 338.2,54.3 339.7,56.2 342.0,57.7 344.7,58.4 347.0,58.1 349.5,59.6 351.7,60.2 353.2,62.5 355.1,64.2 358.2,65.2 362.0,65.5 363.9,66.5 365.5,64.6 367.6,65.5 369.2,63.0 370.7,66.2 373.9,66.2 375.7,66.2 377.6,67.1 379.5,64.6 381.4,59.6 382.4,57.5 383.5,61.5 384.5,67.7 385.5,70.2 386.7,69.6 387.8,73.0 396.0,73.3 406.0,73.5 421.0,73.6 428.0,74.0 436.0,74.5 446.0,74.3 456.0,74.6 471.0,74.5 486.0,74.6 492.0,74.2 493.5,73.3 495.0,73.8 497.0,73.4 500.0,73.3 502.0,73.7 504.0,73.3 508.0,73.3 510.0,73.7 512.0,73.4 516.0,73.2 519.0,73.3 520.5,72.7 522.0,72.6 523.0,72.6 523.0,81.0" fill="#bcbcbc" stroke="none"/>
<polyline points="316.2,53.4 317.5,53.5 318.9,54.6 321.4,54.3 323.0,52.8 324.5,53.8 326.7,52.8 328.0,52.3 329.5,54.2 332.6,54.2 335.1,54.6 337.0,55.2 338.2,54.3 339.7,56.2 342.0,57.7 344.7,58.4 347.0,58.1 349.5,59.6 351.7,60.2 353.2,62.5 355.1,64.2 358.2,65.2 362.0,65.5 363.9,66.5 365.5,64.6 367.6,65.5 369.2,63.0 370.7,66.2 373.9,66.2 375.7,66.2 377.6,67.1 379.5,64.6 381.4,59.6 382.4,57.5 383.5,61.5 384.5,67.7 385.5,70.2 386.7,69.6 387.8,73.0 396.0,73.3 406.0,73.5 421.0,73.6 428.0,74.0 436.0,74.5 446.0,74.3 456.0,74.6 471.0,74.5 486.0,74.6 492.0,74.2 493.5,73.3 495.0,73.8 497.0,73.4 500.0,73.3 502.0,73.7 504.0,73.3 508.0,73.3 510.0,73.7 512.0,73.4 516.0,73.2 519.0,73.3 520.5,72.7 522.0,72.6 523.0,72.6" fill="none" stroke="#727272" stroke-width="0.9" stroke-linejoin="round"/>
<clipPath id="clipb"><rect x="316.0" y="80.5" width="207.0" height="110.4"/></clipPath>
<g clip-path="url(#clipb)"><rect x="316.0" y="80.50" width="207.0" height="2.60" fill="url(#hg0)"/><rect x="316.0" y="82.50" width="207.0" height="2.60" fill="url(#hg1)"/><rect x="316.0" y="84.50" width="207.0" height="2.60" fill="url(#hg2)"/><rect x="316.0" y="86.50" width="207.0" height="2.60" fill="url(#hg3)"/><rect x="316.0" y="88.50" width="207.0" height="2.60" fill="url(#hg4)"/><rect x="316.0" y="90.50" width="207.0" height="2.60" fill="url(#hg5)"/><rect x="316.0" y="92.50" width="207.0" height="2.60" fill="url(#hg6)"/><rect x="316.0" y="94.50" width="207.0" height="2.60" fill="url(#hg7)"/><rect x="316.0" y="96.50" width="207.0" height="2.60" fill="url(#hg8)"/><rect x="316.0" y="98.50" width="207.0" height="2.60" fill="url(#hg9)"/><rect x="316.0" y="100.50" width="207.0" height="2.60" fill="url(#hg10)"/><rect x="316.0" y="102.50" width="207.0" height="2.60" fill="url(#hg11)"/><rect x="316.0" y="104.50" width="207.0" height="2.60" fill="url(#hg12)"/><rect x="316.0" y="106.50" width="207.0" height="2.60" fill="url(#hg13)"/><rect x="316.0" y="108.50" width="207.0" height="2.60" fill="url(#hg14)"/><rect x="316.0" y="110.50" width="207.0" height="2.60" fill="url(#hg15)"/><rect x="316.0" y="112.50" width="207.0" height="2.60" fill="url(#hg16)"/><rect x="316.0" y="114.50" width="207.0" height="2.60" fill="url(#hg17)"/><rect x="316.0" y="116.50" width="207.0" height="2.60" fill="url(#hg18)"/><rect x="316.0" y="118.50" width="207.0" height="2.60" fill="url(#hg19)"/><rect x="316.0" y="120.50" width="207.0" height="2.60" fill="url(#hg20)"/><rect x="316.0" y="122.50" width="207.0" height="2.60" fill="url(#hg21)"/><rect x="316.0" y="124.50" width="207.0" height="2.60" fill="url(#hg22)"/><rect x="316.0" y="126.50" width="207.0" height="2.60" fill="url(#hg23)"/><rect x="316.0" y="128.50" width="207.0" height="2.60" fill="url(#hg24)"/><rect x="316.0" y="130.50" width="207.0" height="2.60" fill="url(#hg25)"/><rect x="316.0" y="132.50" width="207.0" height="2.60" fill="url(#hg26)"/><rect x="316.0" y="134.50" width="207.0" height="2.60" fill="url(#hg27)"/><rect x="316.0" y="136.50" width="207.0" height="2.60" fill="url(#hg28)"/><rect x="316.0" y="138.50" width="207.0" height="2.60" fill="url(#hg29)"/><rect x="316.0" y="140.50" width="207.0" height="2.60" fill="url(#hg30)"/><rect x="316.0" y="142.50" width="207.0" height="2.60" fill="url(#hg31)"/><rect x="316.0" y="144.50" width="207.0" height="2.60" fill="url(#hg32)"/><rect x="316.0" y="146.50" width="207.0" height="2.60" fill="url(#hg33)"/><rect x="316.0" y="148.50" width="207.0" height="2.60" fill="url(#hg34)"/><rect x="316.0" y="150.50" width="207.0" height="2.60" fill="url(#hg35)"/><rect x="316.0" y="152.50" width="207.0" height="2.60" fill="url(#hg36)"/><rect x="316.0" y="154.50" width="207.0" height="2.60" fill="url(#hg37)"/><rect x="316.0" y="156.50" width="207.0" height="2.60" fill="url(#hg38)"/><rect x="316.0" y="158.50" width="207.0" height="2.60" fill="url(#hg39)"/><rect x="316.0" y="160.50" width="207.0" height="2.60" fill="url(#hg40)"/><rect x="316.0" y="162.50" width="207.0" height="2.60" fill="url(#hg41)"/><rect x="316.0" y="164.50" width="207.0" height="2.60" fill="url(#hg42)"/><rect x="316.0" y="166.50" width="207.0" height="2.60" fill="url(#hg43)"/><rect x="316.0" y="168.50" width="207.0" height="2.60" fill="url(#hg44)"/><rect x="316.0" y="170.50" width="207.0" height="2.60" fill="url(#hg45)"/><rect x="316.0" y="172.50" width="207.0" height="2.60" fill="url(#hg46)"/><rect x="316.0" y="174.50" width="207.0" height="2.60" fill="url(#hg47)"/><rect x="316.0" y="176.50" width="207.0" height="2.60" fill="url(#hg48)"/><rect x="316.0" y="178.50" width="207.0" height="2.60" fill="url(#hg49)"/><rect x="316.0" y="180.50" width="207.0" height="2.60" fill="url(#hg50)"/><rect x="316.0" y="182.50" width="207.0" height="2.60" fill="url(#hg51)"/><rect x="316.0" y="184.50" width="207.0" height="2.60" fill="url(#hg52)"/><rect x="316.0" y="186.50" width="207.0" height="2.60" fill="url(#hg53)"/><rect x="316.0" y="188.50" width="207.0" height="2.60" fill="url(#hg54)"/><rect x="316.0" y="190.50" width="207.0" height="1.00" fill="url(#hg55)"/></g>
<path fill="none" stroke="#242424" stroke-width="0.7" stroke-linejoin="round" d="M339.3 80.5l-.2 .6 -.3 .6 -.2 .6 -.1 .6 0 .6 .1 .6 .3 .6 .4 .6 .3 .6 0 .6 -.2 .6 -.2 .6 -.1 .6 0 .6 0 .6 -.1 .6 -.2 .6 .1 .6 .4 .6 .2 .6 .1 .6 -.1 .6 -.3 .6 -.5 .6 -.3 .6 -.2 .6 0 .6 .2 .6 .3 .6 .4 .6 .2 .6 .1 .6 -.1 .6 -.1 .6 -.2 .6 -.1 .6 -.1 .6 0 .6 0 .6 .2 .6 .2 .6 .1 .6 -.1 .6 -.1 .6 -.1 .6 0 .6 -.1 .6 -.1 .6 0 .6 .1 .6 .2 .6 .1 .6 .1 .6 0 .6 -.2 .6 -.2 .6 -.2 .6 .1 .6 .2 .6 .2 .6 .2 .6 -.1 .6 -.5 .6 -.7 .6 -.2 .6 1.3 .6 1.9 .6 .3 .6 -1.9 .6 -2.6 .6 -.8 .6 1.4 .6 2.1 .6 1.3 .6 -.3 .6 -1.0 .6 -.8 .6 -.3 .6 -.1 .6 0 .6 .2 .6 .4 .6 .3 .6 0 .6 -.3 .6 -.2 .6 .1 .6 .1 .6 0 .6 0 .6 -.1 .6 .1 .6 .1 .6 .1 .6 -.1 .6 -.1 .6 0 .6 -.1 .6 0 .6 -.1 .6 0 .6 .1 .6 0 .6 0 .6 -.1 .6 0 .6 .2 .6 .2 .6 .1 .6 .1 .6 .2 .6 -.1 .6 -.8 .6 -1.3 .6 -.4 .6 1.9 .6 3.3 .6 1.3 .6 -2.4 .6 -4.2 .6 -2.2 .6 1.3 .6 3.1 .6 1.7 .6 -.3 .6 -1.3 .6 -.9 .6 -.1 .6 .1 .6 .2 .6 .2 .6 .5 .6 .3 .6 .1 .6 -.1 .6 -.3 .6 -.2 .6 -.1 .6 .2 .6 0 .6 -.3 .6 -.2 .6 .2 .6 .4 .6 .3 .6 .2 .6 -.1 .6 -.5 .6 -.5 .6 -.3 .6 .1 .6 .1 .6 .1 .6 .3 .6 .4 .6 .2 .6 0 .6 -.1 .6 -.1 .6 -.4 .6 -.3 .6 -.2 .6 .1 .6 .3 .6 .5 .6 .1 .6 -.2 .6 -.3 .6 -.1 .6 .1 .6 .1 .6 .2 .6 .1 .6 -.1 .6 -.2 .6 -.1 .6 -.1 .6 -.1 .6 0 .6 .1 .6 .3 .6 .2 .6 0 .6M346.3 80.5l-.1 .6 0 .6 -.1 .6 -.2 .6 -.1 .6 -.1 .6 .1 .6 .2 .6 .1 .6 .1 .6 0 .6 0 .6 -.1 .6 0 .6 -.1 .6 .1 .6 .1 .6 0 .6 -.2 .6 -.2 .6 0 .6 0 .6 .2 .6 .2 .6 .1 .6 0 .6 -.1 .6 -.2 .6 0 .6 .1 .6 0 .6 -.1 .6 -.3 .6 -.2 .6 .3 .6 .5 .6 .5 .6 .1 .6 0 .6 -.1 .6 -.3 .6 -.5 .6 -.4 .6 0 .6 .3 .6 0 .6 -.3 .6 -.5 .6 0 .6 .7 .6 .8 .6 .3 .6 -.4 .6 -.7 .6 -.3 .6 0 .6 .2 .6 .3 .6 .2 .6 .1 .6 .1 .6 0 .6 -.3 .6 -.7 .6 -.4 .6 .9 .6 2.0 .6 1.4 .6 -1.2 .6 -3.2 .6 -2.3 .6 .5 .6 2.3 .6 2.0 .6 .3 .6 -.9 .6 -.8 .6 -.1 .6 .1 .6 .2 .6 0 .6 0 .6 -.1 .6 -.1 .6 0 .6 0 .6 .1 .6 -.1 .6 -.1 .6 -.2 .6 -.1 .6 .2 .6 .3 .6 .2 .6 0 .6 -.1 .6 -.4 .6 -.2 .6 .2 .6 .3 .6 .3 .6 .1 .6 -.1 .6 -.3 .6 -.1 .6 -.1 .6 .1 .6 .1 .6 0 .6 .1 .6 .3 .6 0 .6 -.7 .6 -1.5 .6 -.9 .6 1.6 .6 3.8 .6 2.8 .6 -1.6 .6 -5.2 .6 -4.1 .6 .4 .6 3.7 .6 3.5 .6 .9 .6 -1.0 .6 -1.5 .6 -1.0 .6 -.4 .6 0 .6 .3 .6 .3 .6 .1 .6 0 .6 .1 .6 .1 .6 0 .6 -.1 .6 0 .6 0 .6 .1 .6 -.1 .6 -.2 .6 -.1 .6 0 .6 .2 .6 .1 .6 0 .6 .1 .6 0 .6 -.2 .6 -.2 .6 0 .6 .1 .6 .3 .6 .2 .6 .1 .6 0 .6 -.2 .6 -.3 .6 -.1 .6 0 .6 0 .6 0 .6 0 .6 0 .6 .2 .6 .2 .6 .2 .6 0 .6 -.3 .6 -.3 .6 .1 .6 .4 .6 .3 .6 0 .6 -.2 .6 -.3 .6 -.3 .6 -.4 .6 -.2 .6 .1 .6 .2 .6M353.2 80.5l0 .6 0 .6 -.1 .6 -.1 .6 -.1 .6 -.1 .6 .1 .6 .2 .6 .2 .6 .1 .6 -.1 .6 -.2 .6 0 .6 .1 .6 -.1 .6 -.1 .6 -.1 .6 0 .6 .2 .6 .2 .6 0 .6 0 .6 0 .6 0 .6 -.1 .6 -.1 .6 -.1 .6 0 .6 .1 .6 .1 .6 .1 .6 -.2 .6 -.2 .6 -.1 .6 0 .6 .1 .6 .3 .6 .2 .6 0 .6 -.2 .6 -.1 .6 0 .6 .1 .6 0 .6 0 .6 -.1 .6 -.2 .6 -.1 .6 0 .6 .3 .6 .2 .6 .1 .6 .1 .6 .1 .6 0 .6 -.2 .6 -.4 .6 -.2 .6 .2 .6 .5 .6 .2 .6 -.4 .6 -1.1 .6 -1.1 .6 0 .6 2.0 .6 3.1 .6 1.5 .6 -2.0 .6 -4.1 .6 -2.4 .6 .9 .6 2.7 .6 1.6 .6 -.3 .6 -.9 .6 -.5 .6 .2 .6 .3 .6 -.1 .6 -.2 .6 0 .6 .1 .6 .2 .6 .2 .6 .2 .6 0 .6 -.2 .6 -.4 .6 -.3 .6 -.1 .6 .1 .6 .2 .6 .3 .6 .2 .6 0 .6 -.1 .6 0 .6 .1 .6 0 .6 -.4 .6 -.3 .6 0 .6 0 .6 0 .6 .1 .6 .1 .6 .1 .6 .1 .6 .2 .6 .3 .6 .2 .6 -.1 .6 -.9 .6 -1.4 .6 -.3 .6 2.0 .6 3.1 .6 1.3 .6 -2.4 .6 -4.1 .6 -2.0 .6 1.4 .6 2.9 .6 1.5 .6 -.5 .6 -1.2 .6 -.5 .6 .1 .6 .1 .6 0 .6 0 .6 .2 .6 .2 .6 0 .6 .1 .6 .2 .6 .1 .6 0 .6 -.1 .6 0 .6 -.1 .6 -.3 .6 -.2 .6 -.1 .6 .1 .6 .1 .6 0 .6 .1 .6 0 .6 0 .6 -.1 .6 0 .6 0 .6 0 .6 .1 .6 .1 .6 .2 .6 .1 .6 .1 .6 0 .6 -.1 .6 -.3 .6 -.4 .6 -.2 .6 -.1 .6 .1 .6 0 .6 .2 .6 .3 .6 .4 .6 .1 .6 -.1 .6 0 .6 0 .6 -.2 .6 -.3 .6 -.3 .6 -.1 .6 .1 .6 .4 .6 .3 .6 .1 .6M360.3 80.5l0 .6 0 .6 0 .6 0 .6 0 .6 -.1 .6 -.2 .6 -.2 .6 0 .6 .2 .6 .2 .6 .2 .6 0 .6 -.1 .6 -.2 .6 -.2 .6 -.1 .6 .1 .6 .2 .6 .3 .6 .1 .6 -.1 .6 -.1 .6 0 .6 0 .6 -.1 .6 -.1 .6 -.1 .6 .2 .6 .2 .6 .1 .6 -.1 .6 -.2 .6 -.1 .6 -.1 .6 0 .6 -.1 .6 .2 .6 .2 .6 .1 .6 0 .6 -.1 .6 0 .6 -.1 .6 -.1 .6 0 .6 0 .6 0 .6 .1 .6 0 .6 -.1 .6 0 .6 -.1 .6 -.2 .6 -.2 .6 0 .6 .2 .6 .3 .6 .3 .6 .2 .6 .1 .6 -.2 .6 -.4 .6 -.8 .6 -.3 .6 .9 .6 2.1 .6 1.4 .6 -1.0 .6 -2.9 .6 -2.3 .6 .2 .6 2.0 .6 1.7 .6 .3 .6 -.7 .6 -.6 .6 -.2 .6 0 .6 .2 .6 .2 .6 .1 .6 0 .6 0 .6 0 .6 .2 .6 0 .6 -.2 .6 -.3 .6 -.2 .6 -.1 .6 .1 .6 -.1 .6 -.1 .6 -.1 .6 .2 .6 .4 .6 .5 .6 .3 .6 -.1 .6 -.3 .6 -.3 .6 -.2 .6 -.1 .6 .1 .6 .2 .6 .1 .6 -.1 .6 -.3 .6 -.4 .6 -.1 .6 .1 .6 -.4 .6 -.7 .6 .2 .6 2.0 .6 3.3 .6 1.5 .6 -2.5 .6 -4.9 .6 -3.1 .6 1.0 .6 3.3 .6 2.4 .6 .3 .6 -.8 .6 -.6 .6 -.2 .6 .1 .6 -.1 .6 -.2 .6 -.1 .6 -.2 .6 -.1 .6 0 .6 .1 .6 .1 .6 .1 .6 0 .6 .1 .6 .2 .6 0 .6 0 .6 -.2 .6 -.1 .6 0 .6 .1 .6 -.1 .6 0 .6 .1 .6 .2 .6 0 .6 -.3 .6 -.4 .6 0 .6 .2 .6 .2 .6 0 .6 -.1 .6 0 .6 .3 .6 .3 .6 -.1 .6 -.2 .6 -.1 .6 .1 .6 .1 .6 -.1 .6 -.1 .6 -.1 .6 0 .6 -.1 .6 .1 .6 .1 .6 0 .6 -.1 .6 0 .6 .1 .6 .2 .6 -.1 .6 -.1 .6 .1 .6 .1 .6M368.3 80.5l-.4 .6 -.5 .6 -.4 .6 -.2 .6 0 .6 .3 .6 .3 .6 0 .6 -.2 .6 -.4 .6 -.2 .6 .1 .6 .5 .6 .5 .6 .2 .6 -.3 .6 -.3 .6 -.3 .6 -.2 .6 -.1 .6 .2 .6 .3 .6 .3 .6 .3 .6 -.1 .6 -.3 .6 -.2 .6 0 .6 .1 .6 0 .6 -.1 .6 0 .6 -.1 .6 0 .6 -.1 .6 .1 .6 0 .6 .1 .6 0 .6 .1 .6 0 .6 -.2 .6 -.1 .6 .2 .6 .3 .6 .1 .6 0 .6 -.1 .6 -.3 .6 -.1 .6 0 .6 .2 .6 0 .6 .1 .6 0 .6 0 .6 0 .6 -.2 .6 -.2 .6 0 .6 .1 .6 .1 .6 -.1 .6 -.7 .6 -.6 .6 .6 .6 2.2 .6 2.2 .6 -.2 .6 -2.8 .6 -3.1 .6 -.7 .6 1.8 .6 2.2 .6 .8 .6 -.7 .6 -1.0 .6 -.5 .6 -.1 .6 .2 .6 .3 .6 .3 .6 .3 .6 0 .6 -.1 .6 -.1 .6 .1 .6 .3 .6 0 .6 -.3 .6 -.5 .6 -.2 .6 .1 .6 .2 .6 .2 .6 0 .6 .1 .6 -.1 .6 -.1 .6 -.2 .6 -.1 .6 0 .6 .2 .6 .2 .6 .1 .6 -.1 .6 -.2 .6 0 .6 .2 .6 .1 .6 .2 .6 0 .6 -.5 .6 -1.2 .6 -.5 .6 1.6 .6 3.3 .6 2.1 .6 -1.8 .6 -4.8 .6 -3.4 .6 .6 .6 3.1 .6 2.5 .6 .3 .6 -1.0 .6 -.8 .6 -.1 .6 .4 .6 .1 .6 -.1 .6 -.3 .6 -.1 .6 .1 .6 .4 .6 .2 .6 -.2 .6 -.4 .6 -.2 .6 0 .6 .2 .6 .1 .6 0 .6 .1 .6 0 .6 -.2 .6 -.1 .6 0 .6 .1 .6 .1 .6 0 .6 .1 .6 .3 .6 .2 .6 0 .6 -.2 .6 -.3 .6 -.2 .6 -.3 .6 0 .6 .1 .6 .3 .6 .3 .6 .2 .6 0 .6 -.1 .6 -.4 .6 -.2 .6 0 .6 .2 .6 0 .6 0 .6 -.1 .6 -.1 .6 .1 .6 .1 .6 .1 .6 .1 .6 0 .6 -.1 .6 0 .6 -.1 .6 0 .6M374.3 80.5l0 .6 -.1 .6 0 .6 0 .6 .2 .6 .2 .6 .1 .6 -.2 .6 -.4 .6 -.2 .6 .1 .6 .1 .6 .2 .6 .3 .6 .1 .6 -.2 .6 -.4 .6 -.3 .6 0 .6 .2 .6 .1 .6 .1 .6 .3 .6 .6 .6 .5 .6 -.1 .6 -.5 .6 -.7 .6 -.5 .6 -.3 .6 -.2 .6 0 .6 .3 .6 .4 .6 .4 .6 .5 .6 .2 .6 -.3 .6 -.5 .6 -.5 .6 -.3 .6 .3 .6 .5 .6 .4 .6 0 .6 -.1 .6 0 .6 .1 .6 0 .6 -.1 .6 -.1 .6 -.2 .6 -.1 .6 -.1 .6 .1 .6 -.1 .6 -.1 .6 0 .6 .2 .6 .2 .6 .2 .6 .1 .6 -.1 .6 -.6 .6 -1.1 .6 -.7 .6 1.0 .6 2.8 .6 2.9 .6 .6 .6 -2.9 .6 -4.7 .6 -2.8 .6 .9 .6 3.2 .6 2.5 .6 .5 .6 -.8 .6 -1.1 .6 -.5 .6 .3 .6 .5 .6 0 .6 -.3 .6 -.3 .6 -.1 .6 0 .6 0 .6 0 .6 .2 .6 .1 .6 .1 .6 .1 .6 .1 .6 .1 .6 0 .6 0 .6 -.1 .6 -.1 .6 0 .6 .1 .6 0 .6 -.1 .6 -.2 .6 -.1 .6 0 .6 0 .6 .1 .6 .2 .6 0 .6 .2 .6 -.1 .6 -.7 .6 -1.2 .6 -.4 .6 1.9 .6 3.8 .6 2.1 .6 -2.3 .6 -5.3 .6 -3.6 .6 1.0 .6 3.6 .6 2.6 .6 .2 .6 -1.0 .6 -.9 .6 -.4 .6 0 .6 .2 .6 .3 .6 .3 .6 -.1 .6 -.2 .6 -.3 .6 -.1 .6 .2 .6 .2 .6 .2 .6 0 .6 -.3 .6 -.3 .6 -.1 .6 .2 .6 .2 .6 .1 .6 -.1 .6 -.2 .6 -.1 .6 0 .6 -.2 .6 .1 .6 .3 .6 .4 .6 .3 .6 0 .6 -.1 .6 0 .6 0 .6 -.1 .6 -.3 .6 -.5 .6 -.3 .6 0 .6 .2 .6 .4 .6 .3 .6 .2 .6 -.1 .6 -.1 .6 -.1 .6 0 .6 0 .6 .2 .6 0 .6 -.1 .6 -.2 .6 -.2 .6 0 .6 0 .6 0 .6 0 .6 .1 .6M381.3 80.5l.1 .6 .1 .6 .1 .6 0 .6 0 .6 -.3 .6 -.2 .6 0 .6 .2 .6 .1 .6 0 .6 -.1 .6 0 .6 -.1 .6 0 .6 .1 .6 .2 .6 .1 .6 .1 .6 -.1 .6 -.1 .6 -.2 .6 -.2 .6 0 .6 .1 .6 .2 .6 .1 .6 0 .6 0 .6 0 .6 0 .6 -.1 .6 -.2 .6 -.1 .6 .1 .6 .1 .6 0 .6 0 .6 0 .6 .2 .6 0 .6 -.1 .6 -.2 .6 0 .6 .2 .6 .2 .6 .2 .6 0 .6 -.2 .6 -.2 .6 -.3 .6 -.2 .6 .2 .6 .2 .6 0 .6 -.3 .6 0 .6 .3 .6 .4 .6 .1 .6 -.2 .6 -.5 .6 -.1 .6 .4 .6 .1 .6 -.8 .6 -.9 .6 1.2 .6 3.4 .6 2.6 .6 -1.3 .6 -4.9 .6 -4.2 .6 0 .6 3.1 .6 2.8 .6 .3 .6 -1.3 .6 -1.2 .6 -.1 .6 .5 .6 .7 .6 .4 .6 .2 .6 -.1 .6 -.3 .6 -.3 .6 -.2 .6 0 .6 .1 .6 .1 .6 .1 .6 0 .6 0 .6 -.1 .6 .1 .6 -.1 .6 -.1 .6 -.1 .6 .2 .6 .3 .6 .1 .6 -.1 .6 -.1 .6 -.1 .6 .1 .6 .1 .6 0 .6 -.1 .6 0 .6 .2 .6 .1 .6 -.6 .6 -1.3 .6 -1.1 .6 1.0 .6 3.4 .6 3.3 .6 -.6 .6 -4.6 .6 -4.7 .6 -.5 .6 3.3 .6 3.6 .6 1.3 .6 -.8 .6 -1.5 .6 -1.0 .6 -.3 .6 0 .6 .1 .6 0 .6 .2 .6 .3 .6 .2 .6 .1 .6 -.1 .6 -.1 .6 -.1 .6 0 .6 0 .6 0 .6 .2 .6 .2 .6 0 .6 -.2 .6 -.2 .6 -.2 .6 .1 .6 .3 .6 .1 .6 -.2 .6 -.3 .6 -.2 .6 .1 .6 .4 .6 .4 .6 .2 .6 -.1 .6 -.3 .6 -.4 .6 -.2 .6 0 .6 0 .6 .1 .6 .1 .6 .2 .6 .1 .6 .1 .6 0 .6 -.1 .6 -.1 .6 -.3 .6 -.1 .6 .1 .6 .2 .6 .3 .6 .1 .6 0 .6 -.2 .6 -.1 .6 -.1 .6 0 .6M388.8 80.5l-.1 .6 0 .6 0 .6 -.2 .6 -.3 .6 -.1 .6 0 .6 0 .6 0 .6 .1 .6 .2 .6 .1 .6 0 .6 -.1 .6 0 .6 .1 .6 .2 .6 .1 .6 -.1 .6 -.3 .6 -.3 .6 -.2 .6 .1 .6 .2 .6 .4 .6 .3 .6 .1 .6 0 .6 -.3 .6 -.4 .6 -.3 .6 -.1 .6 .1 .6 .2 .6 .3 .6 .2 .6 .1 .6 0 .6 -.1 .6 -.3 .6 -.3 .6 0 .6 .2 .6 .4 .6 .2 .6 0 .6 -.4 .6 -.4 .6 -.2 .6 .2 .6 .3 .6 .2 .6 -.1 .6 -.1 .6 .1 .6 .1 .6 .1 .6 -.2 .6 -.2 .6 -.1 .6 .2 .6 .3 .6 .3 .6 -.2 .6 -1.1 .6 -1.5 .6 -.1 .6 2.8 .6 4.1 .6 1.5 .6 -3.6 .6 -6.1 .6 -3.0 .6 2.2 .6 4.4 .6 2.7 .6 -.2 .6 -1.4 .6 -.9 .6 -.3 .6 0 .6 0 .6 -.1 .6 .1 .6 .1 .6 0 .6 -.1 .6 -.1 .6 .1 .6 0 .6 .2 .6 0 .6 0 .6 -.1 .6 0 .6 0 .6 -.1 .6 0 .6 .3 .6 .1 .6 .1 .6 .1 .6 0 .6 -.2 .6 -.2 .6 -.2 .6 -.2 .6 -.2 .6 -.1 .6 .2 .6 .3 .6 .2 .6 -.1 .6 -.2 .6 -.2 .6 .2 .6 .7 .6 .7 .6 0 .6 -.7 .6 -1.0 .6 -.4 .6 .2 .6 .5 .6 .4 .6 .1 .6 -.1 .6 -.2 .6 0 .6 0 .6 .1 .6 .1 .6 0 .6 -.1 .6 -.1 .6 0 .6 .1 .6 .3 .6 .1 .6 -.1 .6 -.3 .6 -.3 .6 -.3 .6 -.1 .6 .1 .6 .3 .6 .3 .6 .1 .6 0 .6 -.2 .6 -.1 .6 0 .6 0 .6 .1 .6 0 .6 .1 .6 .1 .6 0 .6 .1 .6 0 .6 0 .6 -.2 .6 -.2 .6 -.2 .6 0 .6 .3 .6 .4 .6 .2 .6 -.1 .6 -.2 .6 -.4 .6 -.3 .6 -.2 .6 .1 .6 .4 .6 .2 .6 .1 .6 .1 .6 .1 .6 0 .6 -.2 .6 -.4 .6 -.3 .6M395.2 80.5l.1 .6 .1 .6 .2 .6 .1 .6 .2 .6 .1 .6 -.1 .6 -.2 .6 -.4 .6 -.4 .6 -.2 .6 .1 .6 .3 .6 .5 .6 .6 .6 .3 .6 -.2 .6 -.4 .6 -.4 .6 -.2 .6 0 .6 0 .6 .1 .6 0 .6 -.5 .6 -.4 .6 .1 .6 .5 .6 .5 .6 .3 .6 0 .6 -.2 .6 -.1 .6 0 .6 .1 .6 .1 .6 0 .6 -.2 .6 -.3 .6 -.2 .6 .2 .6 .3 .6 .2 .6 -.1 .6 -.2 .6 .1 .6 .4 .6 .2 .6 -.1 .6 -.4 .6 -.4 .6 -.2 .6 0 .6 0 .6 .1 .6 .1 .6 .1 .6 0 .6 0 .6 0 .6 .2 .6 .2 .6 .2 .6 -.3 .6 -1.0 .6 -1.3 .6 .1 .6 2.6 .6 3.9 .6 1.4 .6 -3.3 .6 -5.6 .6 -2.8 .6 1.9 .6 3.7 .6 2.1 .6 -.4 .6 -1.1 .6 -.7 .6 0 .6 .2 .6 .2 .6 .1 .6 .1 .6 -.1 .6 -.2 .6 -.4 .6 -.2 .6 0 .6 .5 .6 .5 .6 .3 .6 -.1 .6 -.3 .6 -.2 .6 -.2 .6 0 .6 0 .6 -.1 .6 -.1 .6 .1 .6 .1 .6 .1 .6 0 .6 0 .6 0 .6 -.1 .6 -.1 .6 .1 .6 .3 .6 .2 .6 .1 .6 -.2 .6 -.3 .6 -.4 .6 .1 .6 .6 .6 .8 .6 -.1 .6 -1.2 .6 -1.3 .6 -.2 .6 1.0 .6 1.1 .6 .4 .6 -.2 .6 -.5 .6 -.1 .6 .1 .6 0 .6 -.1 .6 -.1 .6 0 .6 0 .6 .1 .6 .1 .6 .1 .6 0 .6 -.1 .6 -.1 .6 -.2 .6 -.2 .6 0 .6 0 .6 .3 .6 .3 .6 .1 .6 0 .6 -.2 .6 -.2 .6 0 .6 .1 .6 .1 .6 .1 .6 .1 .6 -.1 .6 -.1 .6 -.2 .6 -.2 .6 -.1 .6 -.1 .6 .1 .6 .2 .6 .2 .6 .2 .6 0 .6 -.1 .6 0 .6 .1 .6 .1 .6 0 .6 -.1 .6 -.1 .6 0 .6 -.1 .6 0 .6 .1 .6 -.1 .6 -.1 .6 -.1 .6 0 .6 0 .6 .1 .6M402.6 80.5l-.1 .6 0 .6 .2 .6 .2 .6 -.2 .6 -.4 .6 -.2 .6 .1 .6 .1 .6 .1 .6 .1 .6 .3 .6 .2 .6 .1 .6 -.4 .6 -.4 .6 -.3 .6 0 .6 .3 .6 .2 .6 0 .6 0 .6 .2 .6 .3 .6 .3 .6 0 .6 -.3 .6 -.3 .6 -.2 .6 -.2 .6 -.1 .6 .1 .6 .2 .6 .1 .6 0 .6 .1 .6 0 .6 -.1 .6 -.2 .6 .1 .6 .1 .6 .1 .6 -.1 .6 -.3 .6 -.1 .6 .2 .6 .3 .6 .1 .6 -.1 .6 -.3 .6 -.1 .6 -.1 .6 .1 .6 .1 .6 .2 .6 .2 .6 .2 .6 -.1 .6 -.1 .6 -.1 .6 -.1 .6 .1 .6 .1 .6 0 .6 -.7 .6 -1.2 .6 -.7 .6 1.4 .6 3.4 .6 2.6 .6 -1.2 .6 -4.4 .6 -3.7 .6 0 .6 2.9 .6 2.5 .6 .4 .6 -.9 .6 -.8 .6 -.5 .6 -.4 .6 .1 .6 1.2 .6 1.7 .6 .7 .6 -1.5 .6 -2.3 .6 -1.1 .6 .9 .6 1.6 .6 .9 .6 -.2 .6 -.8 .6 -.7 .6 -.3 .6 .2 .6 .4 .6 .5 .6 .2 .6 .1 .6 -.3 .6 -.3 .6 -.2 .6 0 .6 .1 .6 .1 .6 0 .6 -.1 .6 -.2 .6 .1 .6 .3 .6 .2 .6 0 .6 -.2 .6 -.2 .6 .3 .6 .4 .6 .1 .6 -.6 .6 -.8 .6 -.1 .6 .7 .6 .7 .6 0 .6 -.4 .6 -.4 .6 0 .6 .1 .6 .1 .6 .1 .6 0 .6 .1 .6 -.1 .6 0 .6 -.1 .6 0 .6 0 .6 -.1 .6 .1 .6 .1 .6 0 .6 0 .6 0 .6 -.1 .6 -.1 .6 -.2 .6 -.2 .6 -.1 .6 .3 .6 .6 .6 .6 .6 .1 .6 -.2 .6 -.3 .6 -.2 .6 -.1 .6 -.1 .6 0 .6 .1 .6 -.2 .6 -.2 .6 -.3 .6 0 .6 .1 .6 0 .6 0 .6 .3 .6 .4 .6 .4 .6 .1 .6 -.2 .6 -.3 .6 -.3 .6 -.2 .6 0 .6 0 .6 0 .6 0 .6 .1 .6 .2 .6 .1 .6 0 .6 0 .6M408.0 80.5l.4 .6 .8 .6 .7 .6 .5 .6 .2 .6 0 .6 -.3 .6 -.3 .6 -.2 .6 -.2 .6 -.3 .6 -.3 .6 .1 .6 .3 .6 .3 .6 .2 .6 -.1 .6 0 .6 0 .6 .2 .6 -.1 .6 -.3 .6 -.2 .6 .1 .6 .1 .6 -.1 .6 -.2 .6 -.1 .6 .2 .6 .2 .6 .2 .6 .2 .6 0 .6 -.3 .6 -.2 .6 0 .6 -.1 .6 0 .6 -.2 .6 -.1 .6 .2 .6 .3 .6 .3 .6 .2 .6 0 .6 -.1 .6 -.2 .6 -.3 .6 -.1 .6 .1 .6 .2 .6 .1 .6 0 .6 -.2 .6 -.1 .6 .1 .6 .1 .6 0 .6 -.1 .6 -.1 .6 .2 .6 .2 .6 .2 .6 -.1 .6 -.6 .6 -1.3 .6 -1.1 .6 .6 .6 3.2 .6 3.5 .6 .3 .6 -3.9 .6 -4.6 .6 -1.3 .6 2.6 .6 3.2 .6 1.3 .6 -.7 .6 -1.1 .6 -.7 .6 -.5 .6 -.5 .6 0 .6 1.3 .6 2.0 .6 .6 .6 -1.9 .6 -2.6 .6 -1.1 .6 1.3 .6 1.8 .6 .8 .6 -.3 .6 -.4 .6 -.2 .6 0 .6 -.2 .6 0 .6 .2 .6 0 .6 -.1 .6 -.2 .6 0 .6 .2 .6 .2 .6 0 .6 -.2 .6 -.1 .6 0 .6 .2 .6 .2 .6 -.2 .6 -.3 .6 -.3 .6 -.1 .6 .6 .6 .9 .6 .3 .6 -.9 .6 -1.2 .6 -.5 .6 .8 .6 1.0 .6 .5 .6 -.1 .6 -.5 .6 -.5 .6 -.3 .6 .1 .6 .3 .6 .2 .6 .2 .6 .1 .6 -.2 .6 -.2 .6 -.2 .6 0 .6 .2 .6 .1 .6 .1 .6 0 .6 -.2 .6 -.3 .6 0 .6 .2 .6 .2 .6 .1 .6 -.1 .6 0 .6 0 .6 0 .6 -.2 .6 -.1 .6 .1 .6 0 .6 .1 .6 .1 .6 .3 .6 .1 .6 -.3 .6 -.5 .6 -.4 .6 -.2 .6 .2 .6 .4 .6 .5 .6 .5 .6 .2 .6 -.2 .6 -.4 .6 -.3 .6 0 .6 .2 .6 0 .6 -.3 .6 -.2 .6 .2 .6 .5 .6 .2 .6 -.5 .6 -.6 .6 -.2 .6 .2 .6M416.9 80.5l0 .6 0 .6 -.1 .6 -.2 .6 -.1 .6 -.1 .6 .1 .6 0 .6 0 .6 0 .6 0 .6 .1 .6 .2 .6 .1 .6 -.1 .6 -.1 .6 -.1 .6 0 .6 0 .6 -.1 .6 .1 .6 .1 .6 .1 .6 .2 .6 0 .6 -.2 .6 -.2 .6 -.1 .6 .1 .6 .3 .6 0 .6 0 .6 -.1 .6 0 .6 0 .6 -.1 .6 -.3 .6 -.3 .6 0 .6 .2 .6 .2 .6 .3 .6 .2 .6 .2 .6 -.1 .6 -.1 .6 -.3 .6 -.2 .6 -.1 .6 -.1 .6 .1 .6 .2 .6 .1 .6 .1 .6 0 .6 -.1 .6 -.1 .6 -.1 .6 0 .6 0 .6 .1 .6 .2 .6 .3 .6 0 .6 -.4 .6 -1.2 .6 -1.0 .6 1.0 .6 3.5 .6 3.3 .6 -.6 .6 -5.2 .6 -5.2 .6 -.6 .6 3.6 .6 3.9 .6 1.2 .6 -1.1 .6 -1.4 .6 -.6 .6 0 .6 .2 .6 .1 .6 0 .6 0 .6 0 .6 -.1 .6 0 .6 0 .6 .1 .6 .1 .6 .1 .6 -.2 .6 -.3 .6 .1 .6 .4 .6 .6 .6 .2 .6 -.2 .6 -.4 .6 -.1 .6 -.1 .6 -.2 .6 -.3 .6 -.1 .6 .1 .6 0 .6 -.1 .6 0 .6 .2 .6 .3 .6 .3 .6 0 .6 -.4 .6 -.3 .6 .3 .6 .6 .6 .3 .6 -.5 .6 -.5 .6 .1 .6 .5 .6 .3 .6 -.2 .6 -.5 .6 -.5 .6 -.2 .6 .1 .6 .2 .6 0 .6 -.1 .6 0 .6 .3 .6 .2 .6 .1 .6 .1 .6 .1 .6 .1 .6 0 .6 -.1 .6 -.1 .6 -.2 .6 -.3 .6 0 .6 .1 .6 .1 .6 .2 .6 0 .6 0 .6 -.1 .6 0 .6 -.1 .6 -.1 .6 -.1 .6 0 .6 .2 .6 .2 .6 0 .6 0 .6 0 .6 0 .6 0 .6 0 .6 -.1 .6 -.1 .6 0 .6 0 .6 0 .6 -.2 .6 -.1 .6 .1 .6 .1 .6 .1 .6 .2 .6 .1 .6 .1 .6 0 .6 .1 .6 -.1 .6 -.2 .6 -.2 .6 -.3 .6 -.2 .6M423.9 80.5l-.1 .6 -.1 .6 -.1 .6 .1 .6 .2 .6 .1 .6 -.2 .6 -.3 .6 -.1 .6 0 .6 0 .6 0 .6 0 .6 .2 .6 .3 .6 .3 .6 .3 .6 0 .6 -.2 .6 -.3 .6 -.3 .6 -.1 .6 0 .6 0 .6 0 .6 -.1 .6 -.2 .6 -.2 .6 .1 .6 .5 .6 .6 .6 .2 .6 -.4 .6 -.7 .6 -.3 .6 .2 .6 .5 .6 .4 .6 .1 .6 -.1 .6 -.4 .6 -.3 .6 0 .6 .3 .6 .3 .6 0 .6 -.2 .6 -.3 .6 -.3 .6 .1 .6 .1 .6 .2 .6 .2 .6 .2 .6 0 .6 -.1 .6 -.1 .6 -.1 .6 -.2 .6 -.2 .6 0 .6 .2 .6 .2 .6 .1 .6 -.3 .6 -1.1 .6 -1.1 .6 .6 .6 3.3 .6 3.9 .6 .3 .6 -4.6 .6 -5.8 .6 -1.8 .6 3.2 .6 4.2 .6 1.7 .6 -.9 .6 -1.5 .6 -.6 .6 .2 .6 .4 .6 .2 .6 -.1 .6 -.3 .6 -.3 .6 -.1 .6 0 .6 .1 .6 .3 .6 .1 .6 -.1 .6 -.1 .6 -.2 .6 .1 .6 .1 .6 0 .6 .1 .6 .1 .6 .1 .6 -.1 .6 -.1 .6 -.1 .6 -.2 .6 -.2 .6 .1 .6 .3 .6 .3 .6 .1 .6 -.1 .6 -.1 .6 -.1 .6 -.2 .6 -.4 .6 -.3 .6 .3 .6 .7 .6 .7 .6 0 .6 -.6 .6 -.5 .6 .1 .6 .3 .6 .1 .6 -.1 .6 -.3 .6 -.2 .6 -.1 .6 .1 .6 .1 .6 .2 .6 .2 .6 0 .6 0 .6 -.1 .6 0 .6 0 .6 .1 .6 .1 .6 0 .6 0 .6 -.1 .6 -.2 .6 -.2 .6 0 .6 0 .6 .1 .6 .1 .6 .1 .6 0 .6 -.2 .6 -.2 .6 0 .6 .1 .6 .2 .6 .2 .6 .2 .6 .2 .6 .1 .6 -.3 .6 -.5 .6 -.3 .6 -.1 .6 .2 .6 .3 .6 .1 .6 0 .6 -.1 .6 0 .6 .1 .6 0 .6 .1 .6 .1 .6 .2 .6 -.1 .6 -.1 .6 -.2 .6 -.2 .6 -.1 .6 -.1 .6 0 .6 .2 .6 .1 .6M430.0 80.5l.4 .6 .6 .6 .4 .6 0 .6 -.3 .6 -.4 .6 -.3 .6 0 .6 0 .6 .1 .6 .2 .6 .4 .6 .2 .6 .1 .6 0 .6 0 .6 -.3 .6 -.5 .6 -.5 .6 -.2 .6 .3 .6 .4 .6 .3 .6 .1 .6 0 .6 -.1 .6 .1 .6 0 .6 -.1 .6 0 .6 0 .6 0 .6 0 .6 -.2 .6 -.2 .6 -.1 .6 .2 .6 .1 .6 .1 .6 0 .6 0 .6 .1 .6 .1 .6 0 .6 -.2 .6 -.2 .6 .1 .6 .2 .6 .1 .6 -.2 .6 0 .6 .1 .6 .1 .6 0 .6 -.2 .6 -.2 .6 0 .6 0 .6 -.1 .6 .1 .6 .1 .6 .3 .6 .4 .6 .1 .6 -.7 .6 -1.3 .6 -.9 .6 1.3 .6 3.3 .6 2.5 .6 -1.5 .6 -4.5 .6 -3.5 .6 .7 .6 3.4 .6 2.6 .6 0 .6 -1.4 .6 -1.1 .6 -.1 .6 .2 .6 .2 .6 0 .6 -.1 .6 0 .6 .1 .6 .1 .6 0 .6 0 .6 .1 .6 .1 .6 -.1 .6 -.1 .6 -.3 .6 -.3 .6 -.1 .6 .4 .6 1.0 .6 .9 .6 -.3 .6 -1.3 .6 -1.2 .6 .1 .6 1.0 .6 .9 .6 0 .6 -.6 .6 -.5 .6 -.2 .6 .1 .6 0 .6 .2 .6 .2 .6 -.1 .6 -.1 .6 .4 .6 .8 .6 .2 .6 -.9 .6 -1.2 .6 -.3 .6 .7 .6 .9 .6 .3 .6 -.3 .6 -.4 .6 -.3 .6 -.1 .6 0 .6 .1 .6 .1 .6 .3 .6 .2 .6 0 .6 -.1 .6 0 .6 0 .6 -.1 .6 -.3 .6 -.3 .6 0 .6 .4 .6 .3 .6 .2 .6 -.1 .6 -.2 .6 -.2 .6 -.1 .6 0 .6 .1 .6 .2 .6 0 .6 0 .6 -.1 .6 0 .6 .1 .6 0 .6 0 .6 0 .6 .1 .6 .1 .6 0 .6 -.2 .6 -.3 .6 -.2 .6 -.1 .6 0 .6 0 .6 .2 .6 .1 .6 0 .6 -.2 .6 .1 .6 .3 .6 .5 .6 .4 .6 0 .6 -.3 .6 -.3 .6 -.2 .6 -.2 .6 -.3 .6 -.2 .6"/>
<line x1="316.00" y1="20.20" x2="316.00" y2="191.30" stroke="#8c8c8c" stroke-width="1.0"/>
<line x1="315.50" y1="191.30" x2="523.00" y2="191.30" stroke="#5e5e5e" stroke-width="0.9"/>
<line x1="522.55" y1="80.50" x2="522.55" y2="190.90" stroke="#5c5c5c" stroke-width="0.9"/>
<line x1="312.00" y1="73.90" x2="316.00" y2="73.90" stroke="#555" stroke-width="0.9"/>
<text x="306.0" y="78.2" font-size="12.6" text-anchor="end" font-weight="normal" fill="#000" letter-spacing="0.3">0</text>
<line x1="314.00" y1="60.48" x2="316.00" y2="60.48" stroke="#555" stroke-width="0.9"/>
<line x1="312.00" y1="47.05" x2="316.00" y2="47.05" stroke="#555" stroke-width="0.9"/>
<text x="306.0" y="51.4" font-size="12.6" text-anchor="end" font-weight="normal" fill="#000" letter-spacing="0.3">2000</text>
<line x1="314.00" y1="33.63" x2="316.00" y2="33.63" stroke="#555" stroke-width="0.9"/>
<line x1="312.00" y1="20.20" x2="316.00" y2="20.20" stroke="#555" stroke-width="0.9"/>
<text x="306.0" y="24.5" font-size="12.6" text-anchor="end" font-weight="normal" fill="#000" letter-spacing="0.3">4000</text>
<line x1="314.00" y1="85.64" x2="316.00" y2="85.64" stroke="#555" stroke-width="0.9"/>
<line x1="312.00" y1="97.38" x2="316.00" y2="97.38" stroke="#555" stroke-width="0.9"/>
<text x="306.0" y="101.7" font-size="12.6" text-anchor="end" font-weight="normal" fill="#000" letter-spacing="0.3">200</text>
<line x1="314.00" y1="109.12" x2="316.00" y2="109.12" stroke="#555" stroke-width="0.9"/>
<line x1="312.00" y1="120.86" x2="316.00" y2="120.86" stroke="#555" stroke-width="0.9"/>
<text x="306.0" y="125.2" font-size="12.6" text-anchor="end" font-weight="normal" fill="#000" letter-spacing="0.3">400</text>
<line x1="314.00" y1="132.60" x2="316.00" y2="132.60" stroke="#555" stroke-width="0.9"/>
<line x1="312.00" y1="144.34" x2="316.00" y2="144.34" stroke="#555" stroke-width="0.9"/>
<text x="306.0" y="148.6" font-size="12.6" text-anchor="end" font-weight="normal" fill="#000" letter-spacing="0.3">600</text>
<line x1="314.00" y1="156.08" x2="316.00" y2="156.08" stroke="#555" stroke-width="0.9"/>
<line x1="312.00" y1="167.82" x2="316.00" y2="167.82" stroke="#555" stroke-width="0.9"/>
<text x="306.0" y="172.1" font-size="12.6" text-anchor="end" font-weight="normal" fill="#000" letter-spacing="0.3">800</text>
<line x1="314.00" y1="179.56" x2="316.00" y2="179.56" stroke="#555" stroke-width="0.9"/>
<line x1="312.00" y1="191.30" x2="316.00" y2="191.30" stroke="#555" stroke-width="0.9"/>
<text x="306.0" y="195.6" font-size="12.6" text-anchor="end" font-weight="normal" fill="#000" letter-spacing="0.3">1000</text>
<line x1="337.70" y1="191.30" x2="337.70" y2="194.90" stroke="#555" stroke-width="0.8"/>
<text x="337.7" y="211.5" font-size="12.8" text-anchor="middle" font-weight="normal" fill="#000" >114</text>
<line x1="361.20" y1="191.30" x2="361.20" y2="193.30" stroke="#555" stroke-width="0.8"/>
<line x1="384.70" y1="191.30" x2="384.70" y2="194.90" stroke="#555" stroke-width="0.8"/>
<text x="384.7" y="211.5" font-size="12.8" text-anchor="middle" font-weight="normal" fill="#000" >116</text>
<line x1="408.20" y1="191.30" x2="408.20" y2="193.30" stroke="#555" stroke-width="0.8"/>
<line x1="431.70" y1="191.30" x2="431.70" y2="194.90" stroke="#555" stroke-width="0.8"/>
<text x="431.7" y="211.5" font-size="12.8" text-anchor="middle" font-weight="normal" fill="#000" >118</text>
<line x1="455.20" y1="191.30" x2="455.20" y2="193.30" stroke="#555" stroke-width="0.8"/>
<line x1="478.70" y1="191.30" x2="478.70" y2="194.90" stroke="#555" stroke-width="0.8"/>
<text x="478.7" y="211.5" font-size="12.8" text-anchor="middle" font-weight="normal" fill="#000" >120</text>
<line x1="502.20" y1="191.30" x2="502.20" y2="193.30" stroke="#555" stroke-width="0.8"/>
<text x="322.2" y="27.7" font-size="13.8" text-anchor="start" font-weight="normal" fill="#000" >NW</text>
<text x="520.2" y="27.7" font-size="13.8" text-anchor="end" font-weight="normal" fill="#000" >SE</text>
<text x="426.6" y="27.9" font-size="13.8" text-anchor="middle" font-weight="normal" fill="#000" letter-spacing="0.55">5–10 s</text>
<text x="509.2" y="98.0" font-size="19" text-anchor="middle" font-weight="bold" fill="#000" >b</text>
<rect x="60.0" y="222.2" width="207.0" height="105.0" fill="#e5f0e3"/>
<rect x="129.0" y="282.9" width="59.1" height="15.3" fill="#6f9f6e"/>
<rect x="188.1" y="267.9" width="76.9" height="41.9" fill="#4a9ccf"/>
<path fill="#606060" fill-opacity="0.75" stroke="none" d="M83.0 255.1 L84.1 255.1 83.2 255.7 L83.0 256.3 ZM83.0 256.9 L83.8 256.9 85.0 257.5 L83.0 258.1 ZM83.0 285.1 L84.3 285.1 84.4 285.7 L83.0 286.3 ZM83.0 287.5 L86.1 287.5 86.9 288.1 L83.0 288.7 ZM83.0 289.9 L84.5 289.9 85.4 290.5 L83.0 291.1 ZM83.0 256.3 L81.6 256.3 L83.0 256.9 ZM83.0 258.1 L82.4 258.1 81.2 258.7 L83.0 259.3 ZM83.0 286.3 L80.3 286.3 80.4 286.9 L83.0 287.5 ZM83.0 288.7 L80.2 288.7 79.0 289.3 L83.0 289.9 ZM90.1 257.5 L91.9 257.5 90.8 258.1 L90.1 258.7 ZM90.1 284.5 L90.4 284.5 92.3 285.1 L90.1 285.7 ZM90.1 287.5 L96.4 287.5 91.3 288.1 L90.1 288.7 ZM90.1 289.9 L93.2 289.9 90.7 290.5 L90.1 291.1 ZM90.1 256.3 L89.0 256.3 89.7 256.9 L90.1 257.5 ZM90.1 258.7 L88.6 258.7 89.0 259.3 L90.1 259.9 ZM90.1 285.7 L89.8 285.7 85.1 286.3 89.8 286.9 L90.1 287.5 ZM90.1 288.7 L84.9 288.7 88.7 289.3 L90.1 289.9 ZM90.1 291.1 L89.0 291.1 89.7 291.7 L90.1 292.3 ZM97.1 257.5 L97.7 257.5 99.4 258.1 L97.1 258.7 ZM97.1 260.5 L98.3 260.5 97.3 261.1 L97.1 261.7 ZM97.1 285.1 L98.7 285.1 98.4 285.7 L97.1 286.3 ZM97.1 287.5 L102.3 287.5 100.8 288.1 L97.1 288.7 ZM97.1 289.9 L99.9 289.9 99.1 290.5 L97.1 291.1 ZM97.1 256.3 L96.7 256.3 95.4 256.9 L97.1 257.5 ZM97.1 258.7 L96.7 258.7 95.2 259.3 L97.1 259.9 ZM97.1 286.3 L93.2 286.3 94.0 286.9 L97.1 287.5 ZM97.1 288.7 L92.6 288.7 93.9 289.3 L97.1 289.9 ZM104.2 257.5 L105.9 257.5 105.7 258.1 L104.2 258.7 ZM104.2 259.9 L105.1 259.9 105.2 260.5 L104.2 261.1 ZM104.2 284.5 L105.5 284.5 105.4 285.1 L104.2 285.7 ZM104.2 286.9 L107.5 286.9 107.9 287.5 L104.2 288.1 ZM104.2 289.3 L105.6 289.3 105.9 289.9 L104.2 290.5 ZM104.2 256.3 L102.7 256.3 103.2 256.9 L104.2 257.5 ZM104.2 258.7 L102.4 258.7 103.4 259.3 L104.2 259.9 ZM104.2 285.7 L101.7 285.7 101.2 286.3 L104.2 286.9 ZM104.2 288.1 L101.8 288.1 101.0 288.7 L104.2 289.3 ZM104.2 325.9 L103.0 325.9 L104.2 326.5 ZM111.2 256.9 L112.6 256.9 113.3 257.5 L111.2 258.1 ZM111.2 259.9 L112.4 259.9 L111.2 260.5 ZM111.2 285.1 L113.2 285.1 112.8 285.7 L111.2 286.3 ZM111.2 287.5 L115.8 287.5 115.1 288.1 L111.2 288.7 ZM111.2 289.9 L113.1 289.9 112.8 290.5 L111.2 291.1 ZM111.2 297.7 L112.3 297.7 111.7 298.3 L111.2 298.9 ZM111.2 255.7 L110.6 255.7 109.9 256.3 L111.2 256.9 ZM111.2 258.1 L110.8 258.1 109.3 258.7 L111.2 259.3 ZM111.2 286.3 L108.1 286.3 108.4 286.9 L111.2 287.5 ZM111.2 288.7 L107.4 288.7 107.9 289.3 L111.2 289.9 ZM118.3 256.9 L118.8 256.9 120.2 257.5 L118.3 258.1 ZM118.3 285.1 L120.6 285.1 119.0 285.7 L118.3 286.3 ZM118.3 287.5 L122.9 287.5 119.6 288.1 L118.3 288.7 ZM118.3 289.9 L120.8 289.9 119.1 290.5 L118.3 291.1 ZM118.3 326.5 L119.4 326.5 L118.3 326.5 ZM118.3 255.7 L117.9 255.7 116.9 256.3 L118.3 256.9 ZM118.3 258.1 L117.6 258.1 116.4 258.7 L118.3 259.3 ZM118.3 283.9 L116.9 283.9 117.6 284.5 L118.3 285.1 ZM118.3 286.3 L114.6 286.3 118.0 286.9 L118.3 287.5 ZM118.3 288.7 L114.1 288.7 116.6 289.3 L118.3 289.9 ZM118.3 291.1 L117.2 291.1 117.9 291.7 L118.3 292.3 ZM125.4 256.9 L126.4 256.9 126.9 257.5 L125.4 258.1 ZM125.4 284.5 L125.6 284.5 127.1 285.1 L125.4 285.7 ZM125.4 287.5 L129.5 287.5 126.3 288.1 L125.4 288.7 ZM125.4 289.9 L127.7 289.9 126.3 290.5 L125.4 291.1 ZM125.4 255.7 L124.7 255.7 124.3 256.3 L125.4 256.9 ZM125.4 258.1 L124.5 258.1 124.0 258.7 L125.4 259.3 ZM125.4 286.3 L121.9 286.3 125.0 286.9 L125.4 287.5 ZM125.4 288.7 L121.4 288.7 124.5 289.3 L125.4 289.9 ZM132.4 244.9 L133.2 244.9 134.2 245.5 L132.4 246.1 ZM132.4 254.5 L132.7 254.5 133.9 255.1 132.6 255.7 L132.4 256.3 ZM132.4 257.5 L137.2 257.5 134.3 258.1 L132.4 258.7 ZM132.4 259.9 L134.6 259.9 133.6 260.5 L132.4 261.1 ZM132.4 286.9 L134.8 286.9 134.2 287.5 L132.4 288.1 ZM132.4 289.3 L133.5 289.3 133.1 289.9 L132.4 290.5 ZM132.4 243.7 L131.7 243.7 130.9 244.3 L132.4 244.9 ZM132.4 246.7 L131.2 246.7 132.2 247.3 L132.4 247.9 ZM132.4 256.3 L129.0 256.3 131.4 256.9 L132.4 257.5 ZM132.4 258.7 L128.2 258.7 130.3 259.3 L132.4 259.9 ZM132.4 285.7 L130.9 285.7 131.5 286.3 L132.4 286.9 ZM132.4 288.1 L130.4 288.1 130.6 288.7 L132.4 289.3 ZM139.5 244.3 L140.2 244.3 140.6 244.9 L139.5 245.5 ZM139.5 250.9 L140.6 250.9 139.9 251.5 L139.5 252.1 ZM139.5 254.5 L141.0 254.5 L139.5 255.1 ZM139.5 256.9 L144.8 256.9 140.7 257.5 L139.5 258.1 ZM139.5 259.3 L142.3 259.3 140.2 259.9 L139.5 260.5 ZM139.5 284.5 L140.1 284.5 140.5 285.1 L139.5 285.7 ZM139.5 286.9 L141.0 286.9 142.0 287.5 L139.5 288.1 ZM139.5 312.1 L139.8 312.1 140.7 312.7 L139.5 313.3 ZM139.5 255.1 L139.0 255.1 135.9 255.7 139.1 256.3 L139.5 256.9 ZM139.5 258.1 L134.7 258.1 138.1 258.7 L139.5 259.3 ZM139.5 285.7 L138.1 285.7 137.5 286.3 L139.5 286.9 ZM139.5 288.1 L138.6 288.1 137.6 288.7 L139.5 289.3 ZM146.6 250.3 L147.2 250.3 148.1 250.9 L146.6 251.5 ZM146.6 255.1 L148.4 255.1 L146.6 255.7 ZM146.6 256.9 L146.8 256.9 151.8 257.5 147.1 258.1 L146.6 258.7 ZM146.6 259.9 L148.8 259.9 L146.6 260.5 ZM146.6 284.5 L146.7 284.5 147.8 285.1 L146.6 285.7 ZM146.6 286.9 L147.2 286.9 150.1 287.5 L146.6 288.1 ZM146.6 289.9 L148.5 289.9 L146.6 290.5 ZM146.6 249.1 L146.1 249.1 145.2 249.7 L146.6 250.3 ZM146.6 252.1 L145.1 252.1 L146.6 252.7 ZM146.6 255.7 L146.2 255.7 142.3 256.3 L146.6 256.9 ZM146.6 258.7 L142.1 258.7 146.2 259.3 L146.6 259.9 ZM146.6 285.7 L146.0 285.7 143.8 286.3 L146.6 286.9 ZM146.6 288.1 L146.4 288.1 143.1 288.7 146.4 289.3 L146.6 289.9 ZM153.6 250.3 L154.2 250.3 154.8 250.9 L153.6 251.5 ZM153.6 255.1 L154.9 255.1 154.1 255.7 L153.6 256.3 ZM153.6 257.5 L157.9 257.5 155.8 258.1 L153.6 258.7 ZM153.6 259.9 L155.6 259.9 154.7 260.5 L153.6 261.1 ZM153.6 283.9 L154.2 283.9 155.4 284.5 153.9 285.1 L153.6 285.7 ZM153.6 286.9 L156.7 286.9 155.2 287.5 L153.6 288.1 ZM153.6 289.3 L155.1 289.3 154.4 289.9 L153.6 290.5 ZM153.6 256.3 L150.4 256.3 152.0 256.9 L153.6 257.5 ZM153.6 258.7 L150.0 258.7 151.9 259.3 L153.6 259.9 ZM153.6 281.5 L152.4 281.5 L153.6 282.1 ZM153.6 285.7 L150.6 285.7 151.9 286.3 L153.6 286.9 ZM153.6 288.1 L151.3 288.1 152.1 288.7 L153.6 289.3 ZM160.7 255.1 L161.5 255.1 162.2 255.7 L160.7 256.3 ZM160.7 257.5 L163.5 257.5 165.4 258.1 L160.7 258.7 ZM160.7 259.9 L161.4 259.9 163.0 260.5 L160.7 261.1 ZM160.7 266.5 L161.7 266.5 L160.7 267.1 ZM160.7 286.3 L161.1 286.3 163.0 286.9 L160.7 287.5 ZM160.7 289.3 L161.9 289.3 160.9 289.9 L160.7 290.5 ZM160.7 250.9 L160.3 250.9 159.6 251.5 L160.7 252.1 ZM160.7 256.3 L159.3 256.3 157.6 256.9 L160.7 257.5 ZM160.7 258.7 L158.2 258.7 156.4 259.3 L160.7 259.9 ZM160.7 261.1 L160.3 261.1 159.6 261.7 L160.7 262.3 ZM160.7 285.7 L158.9 285.7 L160.7 286.3 ZM160.7 288.1 L158.8 288.1 160.2 288.7 L160.7 289.3 ZM167.7 244.3 L168.9 244.3 168.4 244.9 L167.7 245.5 ZM167.7 255.1 L169.2 255.1 169.4 255.7 L167.7 256.3 ZM167.7 257.5 L172.1 257.5 172.5 258.1 L167.7 258.7 ZM167.7 259.9 L169.2 259.9 170.2 260.5 L167.7 261.1 ZM167.7 286.9 L168.4 286.9 170.0 287.5 L167.7 288.1 ZM167.7 289.3 L168.5 289.3 169.0 289.9 168.3 290.5 L167.7 291.1 ZM167.7 256.3 L164.5 256.3 164.3 256.9 L167.7 257.5 ZM167.7 258.7 L164.3 258.7 163.6 259.3 L167.7 259.9 ZM167.7 285.7 L166.8 285.7 166.0 286.3 L167.7 286.9 ZM167.7 288.1 L166.5 288.1 166.0 288.7 L167.7 289.3 ZM174.8 244.3 L175.3 244.3 176.0 244.9 L174.8 245.5 ZM174.8 252.7 L175.0 252.7 175.6 253.3 175.0 253.9 176.6 254.5 L174.8 255.1 ZM174.8 256.3 L177.0 256.3 179.3 256.9 L174.8 257.5 ZM174.8 259.3 L176.4 259.3 L174.8 259.9 ZM174.8 284.5 L175.5 284.5 176.0 285.1 L174.8 285.7 ZM174.8 286.9 L176.1 286.9 177.5 287.5 L174.8 288.1 ZM174.8 289.3 L175.7 289.3 176.4 289.9 174.9 290.5 L174.8 291.1 ZM174.8 255.1 L172.6 255.1 171.5 255.7 L174.8 256.3 ZM174.8 257.5 L173.8 257.5 171.3 258.1 L174.8 258.7 ZM174.8 285.7 L173.6 285.7 172.7 286.3 L174.8 286.9 ZM174.8 288.1 L173.6 288.1 172.4 288.7 L174.8 289.3 Z"/><path fill="none" stroke="#2a2a2a" stroke-width="0.82" stroke-linejoin="round" d="M82.9 222.7l.1 .6 0 .6 0 .6 .1 .6 -.1 .6 .1 .6 -.1 .6 .1 .6 -.2 .6 0 .6 0 .6 .1 .6 0 .6 0 .6 0 .6 0 .6 .1 .6 -.1 .6 -.1 .6 0 .6 .2 .6 0 .6 -.2 .6 .1 .6 0 .6 -.2 .6 .2 .6 .1 .6 -.3 .6 .3 .6 .2 .6 -.4 .6 0 .6 .2 .6 .1 .6 -.1 .6 -.6 .6 .2 .6 .3 .6 0 .6 .4 .6 -.5 .6 0 .6 .8 .6 -.7 .6 -.5 .6 .4 .6 0 .6 .4 .6 -.1 .6 -.5 .6 -.3 .6 .5 .6 1.2 .6 -.9 .6 -1.6 .6 2.2 .6 1.2 .6 -2.6 .6 -1.2 .6 1.7 .6 .3 .6 -.5 .6 .3 .6 .4 .6 -.4 .6 -.2 .6 .5 .6 .4 .6 -1.0 .6 -.1 .6 .3 .6 .3 .6 -.4 .6 .3 .6 -.2 .6 .2 .6 -.1 .6 0 .6 .1 .6 -.3 .6 0 .6 .4 .6 .1 .6 -.3 .6 -.5 .6 .6 .6 0 .6 -.3 .6 -.3 .6 .6 .6 .3 .6 -.2 .6 .1 .6 -.4 .6 .1 .6 -.1 .6 -.1 .6 .2 .6 0 .6 0 .6 -.4 .6 .1 .6 1.6 .6 .1 .6 -4.1 .6 .1 .6 5.7 .6 .8 .6 -6.7 .6 -1.2 .6 5.5 .6 .9 .6 -2.6 .6 -.7 .6 .7 .6 .4 .6 -.1 .6 .2 .6 -.2 .6 .3 .6 -.2 .6 -.5 .6 -.2 .6 .4 .6 .4 .6 -.4 .6 .5 .6 -.8 .6 .3 .6 -.1 .6 .5 .6 0 .6 -.2 .6 -.6 .6 .1 .6 .3 .6 .6 .6 -.5 .6 .4 .6 .1 .6 -.7 .6 -.1 .6 -.5 .6 .7 .6 .4 .6 -.5 .6 .4 .6 .1 .6 -.2 .6 -.2 .6 .1 .6 -.2 .6 .1 .6 .6 .6 -.6 .6 -.1 .6 .2 .6 .1 .6 .1 .6 -.4 .6 -.1 .6 .1 .6 .5 .6 .1 .6 -.5 .6 0 .6 .1 .6 -.2 .6 .1 .6 .4 .6 -.5 .6 .4 .6M89.9 222.7l.1 .6 0 .6 .3 .6 -.1 .6 0 .6 -.2 .6 -.1 .6 0 .6 .1 .6 .2 .6 0 .6 -.2 .6 .1 .6 0 .6 -.1 .6 .1 .6 -.1 .6 .1 .6 0 .6 0 .6 0 .6 -.1 .6 .1 .6 -.5 .6 .6 .6 .1 .6 -.4 .6 .2 .6 .1 .6 -.2 .6 -.1 .6 .2 .6 .1 .6 -.4 .6 .3 .6 0 .6 -.3 .6 .3 .6 .2 .6 -.3 .6 0 .6 .3 .6 -.5 .6 0 .6 .7 .6 .1 .6 -1.1 .6 .2 .6 .5 .6 .3 .6 -.3 .6 -.5 .6 .4 .6 -.1 .6 .3 .6 -1.3 .6 .7 .6 2.2 .6 -1.1 .6 -2.2 .6 .4 .6 1.8 .6 -.1 .6 -1.4 .6 1.0 .6 .1 .6 -.2 .6 -.3 .6 .2 .6 .1 .6 -.2 .6 -.4 .6 .5 .6 .1 .6 .1 .6 -.1 .6 0 .6 -.1 .6 -.4 .6 0 .6 .4 .6 0 .6 .1 .6 -.3 .6 .1 .6 .3 .6 -.2 .6 -.2 .6 .4 .6 -.1 .6 -.4 .6 .1 .6 .4 .6 -.1 .6 0 .6 -.3 .6 -.6 .6 1.0 .6 .2 .6 -.2 .6 -.7 .6 -.2 .6 1.0 .6 1.9 .6 -2.5 .6 -4.7 .6 4.7 .6 6.6 .6 -5.1 .6 -6.4 .6 3.8 .6 4.5 .6 -2.5 .6 -1.7 .6 .7 .6 .9 .6 -.6 .6 -.2 .6 0 .6 .3 .6 -.3 .6 .6 .6 0 .6 -.4 .6 -.1 .6 -.1 .6 1.0 .6 -.4 .6 -.8 .6 .6 .6 -.5 .6 .4 .6 .1 .6 -.2 .6 -.1 .6 .2 .6 .1 .6 0 .6 0 .6 -.4 .6 .3 .6 -.1 .6 .2 .6 -.2 .6 0 .6 0 .6 0 .6 .1 .6 0 .6 .1 .6 -.2 .6 .4 .6 -.4 .6 -.1 .6 .2 .6 -.1 .6 0 .6 .1 .6 -.3 .6 .5 .6 -.6 .6 .1 .6 .7 .6 .1 .6 -.4 .6 -.6 .6 .3 .6 0 .6 0 .6 .1 .6 .2 .6 .1 .6 -.2 .6M97.2 222.7l-.2 .6 .1 .6 0 .6 .1 .6 -.2 .6 .1 .6 .2 .6 -.1 .6 -.1 .6 0 .6 0 .6 .1 .6 -.1 .6 -.1 .6 .1 .6 -.1 .6 .2 .6 .1 .6 -.1 .6 -.2 .6 .1 .6 .1 .6 -.1 .6 0 .6 0 .6 .1 .6 -.2 .6 -.1 .6 .2 .6 .2 .6 -.1 .6 0 .6 .1 .6 -.4 .6 -.1 .6 .1 .6 .3 .6 .2 .6 -.1 .6 -.2 .6 .3 .6 -.2 .6 0 .6 -.1 .6 -.1 .6 .1 .6 -.2 .6 -.2 .6 .3 .6 .5 .6 -.4 .6 -.5 .6 .3 .6 1.2 .6 -.1 .6 -1.3 .6 -1.3 .6 2.3 .6 1.7 .6 -2.7 .6 -1.5 .6 2.0 .6 1.1 .6 -1.0 .6 -1.0 .6 .8 .6 .2 .6 .1 .6 -.4 .6 -.1 .6 .3 .6 0 .6 -.2 .6 -.1 .6 .3 .6 -.2 .6 .5 .6 -.5 .6 .3 .6 0 .6 -.2 .6 -.1 .6 .3 .6 -.2 .6 -.2 .6 .3 .6 0 .6 -.3 .6 .4 .6 -.4 .6 .3 .6 0 .6 -.3 .6 .2 .6 -.1 .6 .2 .6 -.1 .6 .1 .6 .1 .6 .2 .6 -.3 .6 -.2 .6 -.5 .6 2.2 .6 -.3 .6 -5.2 .6 .8 .6 8.3 .6 -1.5 .6 -8.2 .6 1.3 .6 6.0 .6 -.8 .6 -2.6 .6 .2 .6 .8 .6 -.4 .6 -.7 .6 -.1 .6 1.5 .6 -.3 .6 -.5 .6 0 .6 .5 .6 .1 .6 -.6 .6 -.5 .6 .8 .6 -.5 .6 -.4 .6 1.2 .6 .3 .6 -.6 .6 -.2 .6 0 .6 -.1 .6 0 .6 -.1 .6 0 .6 .1 .6 .2 .6 .1 .6 0 .6 -.3 .6 .4 .6 -.4 .6 0 .6 .4 .6 -.6 .6 .3 .6 -.5 .6 .4 .6 .5 .6 0 .6 -.8 .6 0 .6 .9 .6 -.2 .6 0 .6 -.7 .6 .7 .6 -.2 .6 -.5 .6 .4 .6 .5 .6 -.3 .6 -.5 .6 0 .6 .6 .6 -.2 .6 -.2 .6 .1 .6 0 .6M104.2 222.7l0 .6 0 .6 0 .6 -.2 .6 .1 .6 .1 .6 -.1 .6 .1 .6 .1 .6 -.1 .6 -.1 .6 .1 .6 .1 .6 -.1 .6 -.1 .6 .1 .6 -.1 .6 .1 .6 0 .6 0 .6 .1 .6 -.2 .6 .2 .6 -.1 .6 .1 .6 -.1 .6 -.1 .6 -.2 .6 .2 .6 .2 .6 -.2 .6 .3 .6 -.1 .6 -.4 .6 .2 .6 .1 .6 0 .6 .1 .6 .1 .6 -.3 .6 .2 .6 -.2 .6 -.1 .6 .3 .6 -.2 .6 .1 .6 .2 .6 -.8 .6 .7 .6 .1 .6 -.1 .6 -.1 .6 0 .6 .7 .6 -.8 .6 -1.4 .6 .5 .6 2.7 .6 -.2 .6 -3.3 .6 1.0 .6 1.7 .6 .1 .6 -1.0 .6 -.6 .6 .2 .6 -.1 .6 .6 .6 .4 .6 -.3 .6 -.6 .6 .7 .6 .1 .6 -.3 .6 -.4 .6 -.1 .6 .1 .6 -.1 .6 .5 .6 .3 .6 0 .6 -.2 .6 0 .6 0 .6 -.5 .6 -.3 .6 1.3 .6 -.1 .6 -1.6 .6 1.2 .6 -.2 .6 -.2 .6 .6 .6 -.7 .6 .1 .6 .2 .6 .2 .6 -.3 .6 .1 .6 -.1 .6 -.2 .6 .2 .6 1.4 .6 -.1 .6 -3.7 .6 -.5 .6 6.3 .6 .4 .6 -6.1 .6 -.8 .6 4.6 .6 .3 .6 -2.5 .6 .3 .6 .7 .6 -.1 .6 0 .6 -.1 .6 -.1 .6 -.1 .6 -.1 .6 .1 .6 .4 .6 0 .6 -.2 .6 .2 .6 -.2 .6 -.1 .6 .1 .6 -.1 .6 0 .6 .1 .6 -.2 .6 .5 .6 -.1 .6 -.3 .6 .3 .6 -.5 .6 -.1 .6 .3 .6 .2 .6 -.3 .6 0 .6 .8 .6 -.5 .6 -.5 .6 .2 .6 .4 .6 -.4 .6 -.2 .6 1.1 .6 -.2 .6 -1.1 .6 .7 .6 .1 .6 -.6 .6 0 .6 -.1 .6 .7 .6 .6 .6 -.8 .6 -.2 .6 .9 .6 -.8 .6 -.6 .6 0 .6 .3 .6 .7 .6 .3 .6 .2 .6 -.4 .6 -1.6 .6 1.3 .6M111.3 222.7l-.1 .6 0 .6 0 .6 .1 .6 0 .6 0 .6 -.1 .6 0 .6 0 .6 .2 .6 -.3 .6 .2 .6 .1 .6 -.1 .6 -.3 .6 .2 .6 .1 .6 -.1 .6 0 .6 0 .6 .1 .6 -.1 .6 .1 .6 -.1 .6 .3 .6 -.4 .6 .1 .6 -.1 .6 0 .6 .3 .6 .2 .6 -.4 .6 .1 .6 -.1 .6 .2 .6 -.6 .6 .6 .6 -.1 .6 0 .6 -.1 .6 -.2 .6 .4 .6 0 .6 -.2 .6 0 .6 0 .6 -.3 .6 .4 .6 .3 .6 -.1 .6 -.3 .6 -.5 .6 .6 .6 .3 .6 -1.0 .6 -.7 .6 2.7 .6 .7 .6 -2.5 .6 -1.5 .6 1.9 .6 1.2 .6 -1.3 .6 -.3 .6 .5 .6 -.2 .6 .6 .6 -.5 .6 .1 .6 .3 .6 -.6 .6 -.6 .6 .8 .6 .2 .6 -.2 .6 .2 .6 -.2 .6 .4 .6 0 .6 -.4 .6 .2 .6 -.3 .6 .3 .6 0 .6 -.3 .6 .2 .6 -.4 .6 .1 .6 0 .6 .5 .6 -.2 .6 .5 .6 -.6 .6 -.1 .6 -.2 .6 .4 .6 -.1 .6 .1 .6 .2 .6 -.1 .6 -.4 .6 -.6 .6 .5 .6 2.3 .6 -.4 .6 -4.7 .6 .3 .6 7.4 .6 -.7 .6 -7.7 .6 .5 .6 5.2 .6 -.3 .6 -2.2 .6 0 .6 1.0 .6 -.3 .6 -.7 .6 .8 .6 .6 .6 -1.2 .6 .3 .6 -.3 .6 .5 .6 1.0 .6 -.6 .6 -.7 .6 -.1 .6 .2 .6 .3 .6 -.2 .6 -.1 .6 .2 .6 -.4 .6 .3 .6 .5 .6 -.3 .6 0 .6 -.2 .6 0 .6 -.1 .6 .1 .6 -.3 .6 -.4 .6 .7 .6 -.1 .6 .5 .6 -.2 .6 0 .6 .1 .6 -.1 .6 -.3 .6 .3 .6 .2 .6 -.3 .6 -.4 .6 .2 .6 .1 .6 -.2 .6 0 .6 .6 .6 -.4 .6 -.1 .6 .2 .6 -.2 .6 .6 .6 -.3 .6 -.1 .6 -.5 .6 .3 .6 .4 .6 -.2 .6 -.1 .6M118.3 222.7l0 .6 -.1 .6 .1 .6 .2 .6 -.2 .6 0 .6 -.1 .6 0 .6 .2 .6 0 .6 -.1 .6 .1 .6 0 .6 -.2 .6 .2 .6 -.1 .6 -.1 .6 0 .6 .1 .6 0 .6 .1 .6 0 .6 -.2 .6 .3 .6 -.3 .6 -.1 .6 .2 .6 .1 .6 .1 .6 0 .6 0 .6 -.4 .6 0 .6 0 .6 .2 .6 -.1 .6 .4 .6 -.1 .6 0 .6 -.3 .6 0 .6 .1 .6 0 .6 -.6 .6 .3 .6 .6 .6 0 .6 0 .6 -.3 .6 -.2 .6 .1 .6 -.3 .6 .9 .6 .4 .6 -1.3 .6 -1.0 .6 1.9 .6 1.4 .6 -2.6 .6 -1.2 .6 2.4 .6 .4 .6 -1.1 .6 0 .6 .5 .6 -.1 .6 0 .6 -.3 .6 0 .6 .1 .6 .2 .6 -.1 .6 -.1 .6 -.3 .6 0 .6 .3 .6 0 .6 .3 .6 -.2 .6 .1 .6 -.2 .6 -.3 .6 0 .6 .2 .6 .1 .6 -.2 .6 .4 .6 0 .6 0 .6 -.2 .6 .2 .6 -.2 .6 -.7 .6 .4 .6 .8 .6 -.7 .6 .3 .6 .1 .6 -.2 .6 .4 .6 .3 .6 -2.1 .6 .7 .6 3.0 .6 -1.6 .6 -4.4 .6 3.4 .6 4.9 .6 -3.3 .6 -5.5 .6 2.5 .6 4.2 .6 -1.7 .6 -1.9 .6 .7 .6 1.0 .6 -.8 .6 -.2 .6 .5 .6 -.1 .6 .7 .6 -.1 .6 -.8 .6 -.4 .6 .3 .6 .4 .6 -.1 .6 .3 .6 -.5 .6 .1 .6 .2 .6 .2 .6 -.4 .6 .2 .6 0 .6 0 .6 -.2 .6 0 .6 .1 .6 0 .6 -.2 .6 .2 .6 .1 .6 .1 .6 -.1 .6 .2 .6 -.7 .6 -.1 .6 .3 .6 .2 .6 .4 .6 -.2 .6 -.1 .6 -.2 .6 -.2 .6 .7 .6 -.2 .6 -.4 .6 .1 .6 0 .6 .3 .6 0 .6 0 .6 -.3 .6 .3 .6 -.2 .6 -.3 .6 .2 .6 -.1 .6 0 .6 .1 .6 -.3 .6 1.5 .6M125.4 222.7l.1 .6 -.2 .6 0 .6 0 .6 .1 .6 -.1 .6 .1 .6 0 .6 -.1 .6 0 .6 .1 .6 .1 .6 0 .6 -.3 .6 .2 .6 -.1 .6 .1 .6 .1 .6 -.1 .6 .1 .6 .1 .6 -.4 .6 0 .6 0 .6 0 .6 .2 .6 .1 .6 -.1 .6 -.2 .6 .3 .6 .1 .6 .2 .6 0 .6 -.5 .6 -.2 .6 .2 .6 .3 .6 -1.0 .6 .6 .6 .6 .6 -.4 .6 -.1 .6 .1 .6 -.2 .6 -.3 .6 .3 .6 .3 .6 .3 .6 .1 .6 -.5 .6 -.4 .6 -.2 .6 1.1 .6 .1 .6 -1.3 .6 -.4 .6 2.1 .6 .5 .6 -2.4 .6 -.5 .6 1.4 .6 .7 .6 -.7 .6 .1 .6 -.2 .6 0 .6 .1 .6 .1 .6 -.3 .6 .4 .6 0 .6 -.7 .6 0 .6 .8 .6 -.1 .6 .4 .6 -.6 .6 -.6 .6 .4 .6 .1 .6 .4 .6 -.3 .6 -.5 .6 0 .6 .5 .6 .5 .6 -.3 .6 0 .6 -.6 .6 .4 .6 .1 .6 .1 .6 -.2 .6 -.5 .6 .3 .6 .2 .6 .1 .6 -.1 .6 .1 .6 -.1 .6 0 .6 -.5 .6 .7 .6 1.5 .6 -1.7 .6 -3.5 .6 3.1 .6 4.5 .6 -3.2 .6 -4.9 .6 3.1 .6 3.2 .6 -1.4 .6 -1.9 .6 .8 .6 .2 .6 .1 .6 -.5 .6 .3 .6 .1 .6 0 .6 .1 .6 .2 .6 -.4 .6 .1 .6 -.1 .6 .2 .6 -.1 .6 -.2 .6 .2 .6 0 .6 -.2 .6 .1 .6 .3 .6 -.3 .6 0 .6 .1 .6 0 .6 .1 .6 -.1 .6 -.4 .6 .3 .6 .2 .6 -.1 .6 .1 .6 0 .6 .2 .6 -.3 .6 -.2 .6 -.6 .6 .9 .6 .3 .6 -.4 .6 0 .6 .1 .6 -.3 .6 0 .6 0 .6 .5 .6 -.2 .6 -.4 .6 .3 .6 -.1 .6 .1 .6 .3 .6 -.4 .6 .3 .6 -.4 .6 0 .6 .1 .6 -.1 .6 .1 .6 .4 .6M132.5 222.7l0 .6 -.2 .6 .2 .6 .1 .6 -.2 .6 -.1 .6 0 .6 .2 .6 0 .6 -.1 .6 0 .6 0 .6 0 .6 0 .6 .1 .6 .1 .6 -.1 .6 -.1 .6 0 .6 -.1 .6 .1 .6 .1 .6 0 .6 0 .6 -.2 .6 0 .6 .3 .6 -.2 .6 -.3 .6 .6 .6 -.3 .6 -.2 .6 .8 .6 .2 .6 -1.5 .6 -.8 .6 2.3 .6 1.0 .6 -1.7 .6 -1.3 .6 1.0 .6 .3 .6 -.3 .6 .4 .6 .4 .6 -.5 .6 -.5 .6 .1 .6 1.0 .6 -.5 .6 -.6 .6 0 .6 .7 .6 1.2 .6 -1.3 .6 -3.6 .6 2.4 .6 5.8 .6 -2.9 .6 -6.1 .6 2.1 .6 4.3 .6 -1.0 .6 -1.9 .6 .5 .6 .8 .6 -.5 .6 -.2 .6 0 .6 0 .6 .4 .6 -.1 .6 -.4 .6 .2 .6 0 .6 .2 .6 -.2 .6 -.4 .6 .6 .6 .5 .6 -.8 .6 -.4 .6 .8 .6 -.4 .6 .4 .6 -.2 .6 -.3 .6 .1 .6 -.2 .6 .3 .6 .1 .6 -.3 .6 .5 .6 0 .6 -.4 .6 .3 .6 -.2 .6 -.3 .6 .3 .6 .1 .6 -.5 .6 .2 .6 .9 .6 .2 .6 -2.4 .6 .6 .6 3.3 .6 -.6 .6 -3.8 .6 .2 .6 2.9 .6 -.4 .6 -.9 .6 -.5 .6 .7 .6 .1 .6 .2 .6 -.2 .6 0 .6 .1 .6 -.3 .6 0 .6 .1 .6 .2 .6 0 .6 -.1 .6 -.1 .6 .2 .6 -.5 .6 -.1 .6 .4 .6 .5 .6 0 .6 -.4 .6 -.6 .6 .4 .6 .3 .6 -.5 .6 .2 .6 .6 .6 -.4 .6 .2 .6 -.5 .6 0 .6 .2 .6 .3 .6 -.2 .6 -.1 .6 -.1 .6 .4 .6 -.5 .6 .3 .6 -.3 .6 .5 .6 -.5 .6 0 .6 -.2 .6 .5 .6 .4 .6 -.6 .6 .3 .6 -.4 .6 .9 .6 -.6 .6 -.3 .6 0 .6 .3 .6 .5 .6 -.2 .6 -.6 .6 -.3 .6 0 .6 .9 .6M139.5 222.7l.1 .6 -.2 .6 .1 .6 0 .6 0 .6 0 .6 -.1 .6 0 .6 .1 .6 .1 .6 -.1 .6 0 .6 .1 .6 -.2 .6 .1 .6 0 .6 -.1 .6 .2 .6 -.1 .6 0 .6 0 .6 0 .6 -.1 .6 0 .6 .2 .6 -.1 .6 .1 .6 -.2 .6 .1 .6 0 .6 -.2 .6 .6 .6 -.4 .6 -.6 .6 0 .6 1.3 .6 .4 .6 -1.7 .6 -.2 .6 1.2 .6 -.1 .6 -.2 .6 -.1 .6 -.1 .6 -.5 .6 .5 .6 1.2 .6 -.7 .6 -1.3 .6 .8 .6 0 .6 .1 .6 1.5 .6 -2.0 .6 -3.1 .6 3.2 .6 5.7 .6 -4.1 .6 -6.0 .6 3.4 .6 4.2 .6 -2.1 .6 -1.3 .6 -.2 .6 1.1 .6 -.2 .6 -.1 .6 .2 .6 -.1 .6 0 .6 -.3 .6 .1 .6 -.1 .6 0 .6 .2 .6 .4 .6 -.4 .6 0 .6 0 .6 -.1 .6 0 .6 -.2 .6 .1 .6 .6 .6 -.2 .6 -.5 .6 .1 .6 .3 .6 .5 .6 -.3 .6 -.4 .6 -.1 .6 -.1 .6 .2 .6 .1 .6 -.1 .6 .2 .6 -.1 .6 .1 .6 .1 .6 -.5 .6 .1 .6 .8 .6 .4 .6 -2.4 .6 -.6 .6 3.5 .6 1.0 .6 -3.4 .6 -1.0 .6 2.4 .6 .5 .6 -1.3 .6 -.3 .6 .7 .6 .1 .6 -.2 .6 0 .6 -.1 .6 .1 .6 0 .6 0 .6 .2 .6 -.4 .6 .3 .6 -.3 .6 .1 .6 .2 .6 .2 .6 -.2 .6 0 .6 -.3 .6 .2 .6 -.2 .6 -.1 .6 .4 .6 -.3 .6 .9 .6 -.8 .6 -.7 .6 .3 .6 .7 .6 .2 .6 .3 .6 -1.1 .6 .5 .6 -.2 .6 .1 .6 .3 .6 .9 .6 -2.1 .6 .3 .6 .5 .6 .9 .6 -1.2 .6 -.5 .6 .7 .6 .7 .6 -.7 .6 .4 .6 .4 .6 -.5 .6 -.4 .6 -.1 .6 .1 .6 .5 .6 .3 .6 -.3 .6 -.9 .6 1.1 .6 -.7 .6 .2 .6 .3 .6M146.7 222.7l-.1 .6 -.1 .6 -.1 .6 .1 .6 0 .6 .1 .6 -.1 .6 .1 .6 0 .6 0 .6 .1 .6 -.2 .6 -.2 .6 .2 .6 .1 .6 .2 .6 -.3 .6 -.3 .6 .5 .6 .1 .6 -.1 .6 -.4 .6 .2 .6 .3 .6 -.1 .6 -.4 .6 0 .6 .3 .6 .3 .6 -.4 .6 -.2 .6 .3 .6 .2 .6 0 .6 -1.0 .6 .5 .6 1.2 .6 -.9 .6 -.6 .6 .5 .6 .4 .6 -.5 .6 .7 .6 -1.0 .6 -.9 .6 2.0 .6 .9 .6 -1.5 .6 -1.5 .6 1.6 .6 .4 .6 -.9 .6 .4 .6 1.8 .6 -2.2 .6 -3.9 .6 4.5 .6 5.0 .6 -4.7 .6 -5.0 .6 4.1 .6 2.6 .6 -2.3 .6 -.9 .6 .9 .6 .7 .6 -.3 .6 -.4 .6 -.6 .6 .4 .6 .7 .6 -.1 .6 -.6 .6 .2 .6 -.2 .6 .8 .6 -.7 .6 -.2 .6 .6 .6 0 .6 -.3 .6 -.1 .6 .1 .6 .3 .6 -.3 .6 -.2 .6 .4 .6 -.1 .6 -.1 .6 -.1 .6 .1 .6 0 .6 .1 .6 -.2 .6 -.2 .6 .8 .6 -.6 .6 .6 .6 -.7 .6 .4 .6 -.2 .6 -.1 .6 .3 .6 1.1 .6 -1.8 .6 -2.2 .6 3.4 .6 2.9 .6 -3.7 .6 -3.3 .6 3.3 .6 2.1 .6 -2.0 .6 -.7 .6 1.6 .6 -.4 .6 -.6 .6 -.2 .6 .4 .6 -.2 .6 -.1 .6 -.5 .6 .9 .6 .3 .6 -.1 .6 -.4 .6 -.4 .6 .6 .6 .1 .6 -.4 .6 0 .6 .1 .6 .4 .6 -.2 .6 -.2 .6 -.3 .6 .9 .6 -.8 .6 0 .6 .3 .6 -.6 .6 1.1 .6 -.4 .6 .1 .6 0 .6 -.5 .6 .2 .6 0 .6 -.4 .6 .3 .6 .4 .6 0 .6 .1 .6 -.8 .6 .6 .6 -.3 .6 -.1 .6 .3 .6 0 .6 .6 .6 -.5 .6 -.6 .6 -.2 .6 .6 .6 0 .6 .3 .6 -.1 .6 -.2 .6 .5 .6 -.2 .6 -.8 .6 .2 .6 .8 .6M153.6 222.7l.1 .6 -.1 .6 .1 .6 .1 .6 -.2 .6 -.2 .6 .1 .6 .1 .6 .1 .6 -.2 .6 0 .6 .1 .6 .2 .6 -.1 .6 -.2 .6 -.1 .6 .4 .6 0 .6 .2 .6 -.5 .6 0 .6 .2 .6 -.3 .6 0 .6 .2 .6 .1 .6 0 .6 0 .6 -.3 .6 .1 .6 .1 .6 .4 .6 -.1 .6 -.9 .6 .1 .6 1.1 .6 .1 .6 -1.4 .6 .1 .6 .8 .6 .1 .6 .3 .6 -.4 .6 -.4 .6 -.7 .6 1.5 .6 .6 .6 -1.7 .6 -.5 .6 .9 .6 .7 .6 -1.1 .6 .5 .6 1.3 .6 -.8 .6 -3.7 .6 1.6 .6 5.9 .6 -2.1 .6 -5.8 .6 1.9 .6 3.7 .6 -.9 .6 -1.7 .6 .2 .6 .7 .6 -.3 .6 -.2 .6 .5 .6 -.5 .6 .2 .6 .2 .6 0 .6 -.3 .6 -.1 .6 -.1 .6 .2 .6 .2 .6 .1 .6 .1 .6 -.3 .6 -.1 .6 .3 .6 -.3 .6 0 .6 .2 .6 -.3 .6 .2 .6 .3 .6 -.2 .6 .5 .6 -1.3 .6 -.1 .6 1.1 .6 0 .6 -.1 .6 -.1 .6 -1.3 .6 1.5 .6 .4 .6 -.6 .6 .5 .6 1.2 .6 -1.5 .6 -3.3 .6 1.3 .6 4.8 .6 -1.5 .6 -3.9 .6 .8 .6 3.0 .6 -.7 .6 -1.3 .6 .1 .6 .5 .6 .1 .6 -.1 .6 -.2 .6 0 .6 -.1 .6 .2 .6 .3 .6 -.2 .6 -.1 .6 .1 .6 0 .6 -.2 .6 .3 .6 -.6 .6 .1 .6 .5 .6 .5 .6 -.7 .6 -.6 .6 .4 .6 .1 .6 -.6 .6 .4 .6 1.0 .6 0 .6 -.6 .6 -.1 .6 -.1 .6 .1 .6 -.4 .6 .6 .6 .1 .6 0 .6 -.2 .6 0 .6 -.2 .6 -.2 .6 .4 .6 .4 .6 -.5 .6 -.6 .6 .4 .6 0 .6 .2 .6 .6 .6 -.5 .6 -.6 .6 .3 .6 .6 .6 -.3 .6 -.1 .6 .3 .6 -.3 .6 -.4 .6 .6 .6 -.2 .6 .3 .6 -.7 .6M160.6 222.7l.2 .6 .2 .6 -.2 .6 -.2 .6 -.3 .6 0 .6 .3 .6 .1 .6 0 .6 .2 .6 -.2 .6 0 .6 0 .6 -.1 .6 .1 .6 -.1 .6 .1 .6 .1 .6 -.1 .6 0 .6 0 .6 -.1 .6 .1 .6 0 .6 -.2 .6 .2 .6 0 .6 .2 .6 -.3 .6 .1 .6 .3 .6 -.8 .6 .7 .6 0 .6 -.8 .6 .2 .6 .6 .6 .7 .6 -1.1 .6 -.7 .6 .6 .6 1.0 .6 -.1 .6 -.8 .6 .4 .6 .3 .6 -.9 .6 -.7 .6 1.2 .6 -.5 .6 .5 .6 -.3 .6 -.2 .6 1.2 .6 .7 .6 -2.9 .6 -1.7 .6 5.9 .6 1.9 .6 -7.2 .6 -1.8 .6 5.0 .6 1.6 .6 -2.7 .6 -.7 .6 1.4 .6 -.3 .6 -.3 .6 .8 .6 .1 .6 -.8 .6 .1 .6 1.1 .6 -1.0 .6 -.7 .6 .3 .6 0 .6 .1 .6 .3 .6 .5 .6 -.8 .6 .2 .6 -.1 .6 .3 .6 -.2 .6 .3 .6 -.1 .6 .1 .6 -.4 .6 -.2 .6 .5 .6 -.2 .6 -.1 .6 0 .6 .8 .6 -.5 .6 -.4 .6 .3 .6 .1 .6 -.4 .6 .1 .6 .3 .6 .5 .6 -.7 .6 -1.7 .6 2.2 .6 1.9 .6 -2.3 .6 -1.9 .6 1.4 .6 1.7 .6 -1.0 .6 -.7 .6 .2 .6 .5 .6 -.2 .6 -.1 .6 .1 .6 0 .6 -.3 .6 .4 .6 -.1 .6 -.1 .6 .4 .6 -.3 .6 -.1 .6 -.3 .6 .4 .6 .1 .6 -.3 .6 .1 .6 .6 .6 -.2 .6 -.4 .6 -.2 .6 0 .6 0 .6 .5 .6 .1 .6 -.5 .6 .2 .6 -.2 .6 .1 .6 0 .6 .2 .6 -.1 .6 -.1 .6 -.1 .6 .3 .6 0 .6 -.2 .6 .2 .6 0 .6 .2 .6 -.2 .6 -.2 .6 -.3 .6 .1 .6 .2 .6 -.1 .6 .3 .6 -.2 .6 .1 .6 .3 .6 -.1 .6 -.2 .6 -.4 .6 .4 .6 .1 .6 .1 .6 -.3 .6 .1 .6 0 .6M167.9 222.7l-.3 .6 .1 .6 0 .6 .1 .6 .1 .6 -.2 .6 0 .6 .1 .6 -.1 .6 0 .6 0 .6 0 .6 .2 .6 -.1 .6 -.1 .6 0 .6 0 .6 -.1 .6 0 .6 .2 .6 0 .6 -.1 .6 0 .6 0 .6 .2 .6 0 .6 -.3 .6 0 .6 .2 .6 -.1 .6 -.1 .6 .5 .6 -.1 .6 -.7 .6 -.2 .6 1.8 .6 -.5 .6 -1.6 .6 0 .6 1.1 .6 .4 .6 -.5 .6 0 .6 -.3 .6 .3 .6 0 .6 0 .6 -.2 .6 .1 .6 .3 .6 -.1 .6 -.9 .6 .3 .6 1.9 .6 .2 .6 -4.9 .6 -.2 .6 7.8 .6 .4 .6 -8.2 .6 -.7 .6 5.6 .6 1.0 .6 -2.9 .6 -.5 .6 1.0 .6 .4 .6 -.2 .6 -.7 .6 .4 .6 .4 .6 -.3 .6 0 .6 -.2 .6 -.1 .6 0 .6 .1 .6 .2 .6 .3 .6 -.4 .6 -.1 .6 .5 .6 -.8 .6 -.1 .6 .2 .6 .7 .6 .2 .6 -.3 .6 -.1 .6 -.2 .6 -.1 .6 -.1 .6 .5 .6 -.6 .6 .5 .6 -.2 .6 .1 .6 -.3 .6 .2 .6 .2 .6 -.1 .6 -.2 .6 .5 .6 .6 .6 -1.9 .6 -.8 .6 2.4 .6 1.6 .6 -3.5 .6 -.5 .6 2.5 .6 .5 .6 -.7 .6 -1.0 .6 -.2 .6 -.2 .6 .8 .6 .9 .6 -.8 .6 .2 .6 -.4 .6 0 .6 .4 .6 -.2 .6 -.1 .6 .1 .6 -.2 .6 -.1 .6 .4 .6 -.1 .6 0 .6 -.2 .6 .1 .6 -.1 .6 0 .6 0 .6 .6 .6 -.1 .6 -.4 .6 -.1 .6 0 .6 .3 .6 -.2 .6 .2 .6 -.2 .6 0 .6 -.3 .6 0 .6 .1 .6 .3 .6 .7 .6 -.2 .6 -1.0 .6 .3 .6 0 .6 .5 .6 .2 .6 -.6 .6 -.8 .6 .7 .6 .3 .6 .3 .6 .4 .6 -1.8 .6 .7 .6 .3 .6 -.4 .6 .9 .6 -1.1 .6 .7 .6 -.2 .6 -.1 .6 .5 .6M174.8 222.7l0 .6 .1 .6 -.1 .6 0 .6 0 .6 -.1 .6 .1 .6 -.1 .6 .1 .6 .1 .6 -.1 .6 .1 .6 -.1 .6 0 .6 0 .6 0 .6 0 .6 0 .6 -.1 .6 0 .6 -.1 .6 .2 .6 .2 .6 -.1 .6 0 .6 -.1 .6 .1 .6 -.1 .6 0 .6 -.2 .6 .1 .6 0 .6 .2 .6 -.2 .6 -.5 .6 1.1 .6 .7 .6 -1.3 .6 -.9 .6 .9 .6 .5 .6 -.3 .6 -.5 .6 .8 .6 .1 .6 -1.1 .6 -.3 .6 .7 .6 .3 .6 .1 .6 .6 .6 -.6 .6 1.6 .6 -4.0 .6 -1.1 .6 5.5 .6 2.3 .6 -5.5 .6 -2.5 .6 3.5 .6 1.6 .6 -1.7 .6 -.9 .6 1.3 .6 -.1 .6 0 .6 -.3 .6 -.2 .6 .6 .6 -.1 .6 -.2 .6 -.1 .6 -.1 .6 .4 .6 -.2 .6 -.3 .6 .3 .6 .1 .6 -.2 .6 .4 .6 -.2 .6 -.5 .6 .3 .6 .1 .6 0 .6 .4 .6 -.3 .6 -.2 .6 .3 .6 -.1 .6 -.2 .6 -.3 .6 .5 .6 .2 .6 -.3 .6 -.4 .6 .4 .6 .2 .6 0 .6 -.4 .6 -.1 .6 0 .6 1.0 .6 .5 .6 -2.4 .6 -.9 .6 3.4 .6 1.4 .6 -3.9 .6 -1.2 .6 3.3 .6 .7 .6 -1.5 .6 -.7 .6 .5 .6 -.2 .6 .3 .6 -.5 .6 .5 .6 .4 .6 -.5 .6 .2 .6 -.1 .6 .3 .6 -.4 .6 0 .6 .4 .6 -.3 .6 -.1 .6 .1 .6 -.2 .6 0 .6 .2 .6 .2 .6 -.3 .6 .4 .6 .1 .6 -.1 .6 -.4 .6 -.7 .6 .4 .6 .7 .6 0 .6 -.3 .6 .1 .6 .2 .6 .4 .6 -1.0 .6 .2 .6 -.1 .6 -.2 .6 0 .6 .4 .6 .2 .6 -.1 .6 .2 .6 -.2 .6 -.4 .6 .3 .6 .3 .6 -.1 .6 -.2 .6 -.1 .6 .2 .6 -.2 .6 -.1 .6 .1 .6 0 .6 .3 .6 -.1 .6 -.2 .6 .2 .6 -.2 .6"/>
<rect x="60.0" y="222.2" width="207.0" height="105.0" fill="none" stroke="#7c7c7c" stroke-width="0.9"/>
<line x1="56.00" y1="233.50" x2="60.00" y2="233.50" stroke="#555" stroke-width="0.9"/>
<text x="50.0" y="238.1" font-size="12.6" text-anchor="end" font-weight="normal" fill="#000" letter-spacing="0.3">200</text>
<line x1="58.00" y1="245.21" x2="60.00" y2="245.21" stroke="#555" stroke-width="0.9"/>
<line x1="56.00" y1="256.93" x2="60.00" y2="256.93" stroke="#555" stroke-width="0.9"/>
<text x="50.0" y="261.5" font-size="12.6" text-anchor="end" font-weight="normal" fill="#000" letter-spacing="0.3">400</text>
<line x1="58.00" y1="268.64" x2="60.00" y2="268.64" stroke="#555" stroke-width="0.9"/>
<line x1="56.00" y1="280.35" x2="60.00" y2="280.35" stroke="#555" stroke-width="0.9"/>
<text x="50.0" y="285.0" font-size="12.6" text-anchor="end" font-weight="normal" fill="#000" letter-spacing="0.3">600</text>
<line x1="58.00" y1="292.06" x2="60.00" y2="292.06" stroke="#555" stroke-width="0.9"/>
<line x1="56.00" y1="303.77" x2="60.00" y2="303.77" stroke="#555" stroke-width="0.9"/>
<text x="50.0" y="308.4" font-size="12.6" text-anchor="end" font-weight="normal" fill="#000" letter-spacing="0.3">800</text>
<line x1="58.00" y1="315.49" x2="60.00" y2="315.49" stroke="#555" stroke-width="0.9"/>
<line x1="56.00" y1="327.20" x2="60.00" y2="327.20" stroke="#555" stroke-width="0.9"/>
<text x="50.0" y="331.8" font-size="12.6" text-anchor="end" font-weight="normal" fill="#000" letter-spacing="0.3">1000</text>
<line x1="81.70" y1="327.20" x2="81.70" y2="330.80" stroke="#505050" stroke-width="0.8"/>
<text x="81.7" y="347.8" font-size="12.8" text-anchor="middle" font-weight="normal" fill="#000" >114</text>
<line x1="105.20" y1="327.20" x2="105.20" y2="329.20" stroke="#505050" stroke-width="0.8"/>
<line x1="128.70" y1="327.20" x2="128.70" y2="330.80" stroke="#505050" stroke-width="0.8"/>
<text x="128.7" y="347.8" font-size="12.8" text-anchor="middle" font-weight="normal" fill="#000" >116</text>
<line x1="152.20" y1="327.20" x2="152.20" y2="329.20" stroke="#505050" stroke-width="0.8"/>
<line x1="175.70" y1="327.20" x2="175.70" y2="330.80" stroke="#505050" stroke-width="0.8"/>
<text x="175.7" y="347.8" font-size="12.8" text-anchor="middle" font-weight="normal" fill="#000" >118</text>
<line x1="199.20" y1="327.20" x2="199.20" y2="329.20" stroke="#505050" stroke-width="0.8"/>
<line x1="222.70" y1="327.20" x2="222.70" y2="330.80" stroke="#505050" stroke-width="0.8"/>
<text x="222.7" y="347.8" font-size="12.8" text-anchor="middle" font-weight="normal" fill="#000" >120</text>
<line x1="246.20" y1="327.20" x2="246.20" y2="329.20" stroke="#505050" stroke-width="0.8"/>
<text x="164.0" y="368.7" font-size="14.4" text-anchor="middle" font-weight="normal" fill="#000" >Longitude (°E)</text>
<text x="251.4" y="239.6" font-size="19" text-anchor="middle" font-weight="bold" fill="#000" >c</text>
<rect x="316.0" y="222.2" width="207.0" height="105.0" fill="#e5f0e3"/>
<rect x="385.0" y="282.9" width="59.1" height="15.3" fill="#6f9f6e"/>
<rect x="444.1" y="267.9" width="76.9" height="41.9" fill="#4a9ccf"/>
<path fill="none" stroke="#242424" stroke-width="0.7" stroke-linejoin="round" d="M339.9 222.7l-.3 .6 -.5 .6 -.4 .6 -.3 .6 -.1 .6 .2 .6 .3 .6 .3 .6 .1 .6 -.1 .6 -.2 .6 0 .6 .1 .6 .3 .6 .2 .6 0 .6 -.3 .6 -.6 .6 -.4 .6 .3 .6 .5 .6 .4 .6 0 .6 -.3 .6 -.1 .6 .2 .6 0 .6 -.1 .6 -.2 .6 0 .6 .1 .6 .1 .6 0 .6 -.1 .6 -.2 .6 -.2 .6 -.1 .6 -.1 .6 .2 .6 .1 .6 .1 .6 .2 .6 .3 .6 .5 .6 .5 .6 .2 .6 -.3 .6 -.9 .6 -1.0 .6 -.5 .6 -.2 .6 -.6 .6 -.5 .6 1.2 .6 3.7 .6 3.8 .6 -.2 .6 -5.0 .6 -5.7 .6 -1.6 .6 2.8 .6 3.9 .6 1.8 .6 -.4 .6 -1.1 .6 -.7 .6 -.2 .6 0 .6 -.1 .6 .2 .6 .3 .6 .2 .6 -.1 .6 -.2 .6 0 .6 .1 .6 -.2 .6 -.2 .6 -.1 .6 0 .6 .1 .6 0 .6 0 .6 0 .6 .2 .6 .2 .6 0 .6 -.1 .6 -.2 .6 .1 .6 .2 .6 .1 .6 -.1 .6 -.1 .6 0 .6 0 .6 -.1 .6 -.2 .6 -.2 .6 -.4 .6 -.8 .6 -.4 .6 1.3 .6 3.3 .6 2.9 .6 -.8 .6 -4.5 .6 -4.4 .6 -.5 .6 2.9 .6 2.8 .6 .8 .6 -.9 .6 -1.0 .6 -.5 .6 0 .6 .2 .6 .4 .6 .3 .6 .1 .6 -.1 .6 -.2 .6 -.3 .6 -.3 .6 .1 .6 .4 .6 .4 .6 0 .6 -.2 .6 -.4 .6 -.3 .6 0 .6 0 .6 .3 .6 .5 .6 .4 .6 .1 .6 -.1 .6 .1 .6 -.1 .6 -.3 .6 -.6 .6 -.5 .6 -.2 .6 .2 .6 .3 .6 .4 .6 .2 .6 0 .6 -.1 .6 -.1 .6 -.1 .6 0 .6 .3 .6 .2 .6 .1 .6 -.2 .6 -.3 .6 -.2 .6 0 .6 0 .6 0 .6 .1 .6 0 .6 0 .6 0 .6 .1 .6 0 .6 0 .6 0 .6 .1 .6 .1 .6 .1 .6M344.9 222.7l.3 .6 .6 .6 .6 .6 .3 .6 -.1 .6 -.3 .6 .1 .6 .3 .6 .1 .6 -.4 .6 -.5 .6 -.5 .6 -.2 .6 .2 .6 .4 .6 .3 .6 .3 .6 0 .6 -.2 .6 -.3 .6 -.1 .6 .1 .6 .2 .6 .3 .6 .2 .6 0 .6 -.3 .6 -.5 .6 -.3 .6 -.1 .6 .2 .6 .3 .6 .5 .6 .2 .6 -.1 .6 -.2 .6 -.3 .6 -.1 .6 0 .6 0 .6 0 .6 .1 .6 .1 .6 .1 .6 0 .6 -.1 .6 0 .6 -.1 .6 0 .6 0 .6 -.1 .6 -.6 .6 -.8 .6 .3 .6 2.4 .6 3.0 .6 .4 .6 -3.4 .6 -4.5 .6 -1.4 .6 2.2 .6 3.2 .6 1.4 .6 -.6 .6 -1.1 .6 -.7 .6 0 .6 .2 .6 .1 .6 -.1 .6 -.1 .6 .1 .6 .3 .6 .2 .6 .1 .6 0 .6 0 .6 -.1 .6 -.3 .6 -.2 .6 -.2 .6 0 .6 -.1 .6 -.1 .6 -.1 .6 .2 .6 .1 .6 0 .6 .1 .6 .4 .6 .6 .6 .5 .6 -.1 .6 -.5 .6 -.5 .6 -.4 .6 0 .6 .1 .6 0 .6 -.7 .6 -1.1 .6 -.2 .6 1.8 .6 3.5 .6 2.1 .6 -1.9 .6 -4.7 .6 -3.1 .6 1.0 .6 3.5 .6 2.2 .6 -.4 .6 -1.6 .6 -1.1 .6 -.1 .6 .3 .6 .5 .6 .3 .6 .1 .6 0 .6 -.1 .6 -.3 .6 -.1 .6 0 .6 .1 .6 .2 .6 .2 .6 -.1 .6 -.1 .6 -.1 .6 0 .6 .1 .6 .1 .6 -.1 .6 -.1 .6 0 .6 0 .6 0 .6 0 .6 .1 .6 .1 .6 .1 .6 0 .6 -.1 .6 -.3 .6 -.1 .6 .1 .6 .2 .6 .2 .6 0 .6 -.3 .6 -.4 .6 -.1 .6 .1 .6 .4 .6 .4 .6 .3 .6 -.1 .6 -.5 .6 -.5 .6 0 .6 .2 .6 .3 .6 .2 .6 .1 .6 -.1 .6 -.1 .6 -.1 .6 -.1 .6 -.1 .6 -.1 .6 .1 .6 .1 .6M353.5 222.7l-.1 .6 -.2 .6 -.2 .6 -.1 .6 0 .6 .2 .6 .3 .6 .2 .6 -.2 .6 -.4 .6 -.2 .6 .1 .6 .1 .6 -.1 .6 0 .6 0 .6 0 .6 0 .6 0 .6 .1 .6 .1 .6 .1 .6 .1 .6 -.1 .6 -.2 .6 .1 .6 .3 .6 .1 .6 -.2 .6 -.3 .6 -.2 .6 .1 .6 .1 .6 .2 .6 .1 .6 .1 .6 0 .6 -.2 .6 -.3 .6 -.1 .6 .1 .6 .3 .6 .4 .6 .2 .6 -.2 .6 -.4 .6 -.3 .6 -.2 .6 .2 .6 .2 .6 -.3 .6 -1.0 .6 -1.0 .6 .3 .6 2.6 .6 3.4 .6 .8 .6 -2.9 .6 -4.2 .6 -1.6 .6 1.8 .6 2.8 .6 1.0 .6 -.9 .6 -1.1 .6 -.2 .6 .4 .6 .2 .6 .1 .6 .1 .6 .2 .6 .1 .6 -.1 .6 -.4 .6 -.6 .6 -.3 .6 0 .6 .3 .6 .6 .6 .6 .6 .4 .6 -.1 .6 -.5 .6 -.6 .6 -.5 .6 0 .6 .3 .6 .2 .6 .1 .6 -.1 .6 -.1 .6 0 .6 0 .6 .1 .6 .2 .6 .3 .6 .2 .6 .2 .6 -.4 .6 -1.0 .6 -1.4 .6 -.5 .6 1.9 .6 3.7 .6 2.5 .6 -1.6 .6 -4.9 .6 -3.9 .6 .2 .6 3.0 .6 2.7 .6 .7 .6 -.7 .6 -.8 .6 -.4 .6 -.1 .6 -.1 .6 0 .6 .2 .6 .3 .6 .1 .6 -.1 .6 0 .6 .1 .6 .2 .6 0 .6 -.1 .6 -.3 .6 -.3 .6 -.2 .6 -.2 .6 .1 .6 .3 .6 .4 .6 .2 .6 -.1 .6 -.3 .6 -.1 .6 .2 .6 .1 .6 0 .6 -.2 .6 -.2 .6 .1 .6 .3 .6 .2 .6 -.1 .6 -.3 .6 -.2 .6 .1 .6 .3 .6 .1 .6 -.1 .6 -.2 .6 -.3 .6 -.1 .6 .1 .6 .2 .6 0 .6 0 .6 .1 .6 0 .6 .2 .6 .2 .6 .1 .6 0 .6 -.1 .6 -.3 .6 -.4 .6 -.3 .6 .1 .6 .4 .6 .4 .6M360.3 222.7l0 .6 0 .6 .1 .6 -.2 .6 -.2 .6 -.1 .6 .2 .6 .2 .6 .2 .6 0 .6 0 .6 -.2 .6 -.5 .6 -.4 .6 .1 .6 .4 .6 .5 .6 .1 .6 -.3 .6 -.3 .6 0 .6 .3 .6 .3 .6 .1 .6 .1 .6 -.1 .6 -.3 .6 -.1 .6 .2 .6 .2 .6 -.2 .6 -.3 .6 -.3 .6 -.2 .6 0 .6 .2 .6 .3 .6 .3 .6 .2 .6 .1 .6 0 .6 -.2 .6 -.3 .6 -.2 .6 -.3 .6 -.1 .6 .2 .6 .5 .6 .5 .6 0 .6 -.8 .6 -1.4 .6 -.7 .6 1.6 .6 3.5 .6 2.4 .6 -1.8 .6 -4.8 .6 -3.5 .6 .7 .6 3.5 .6 2.8 .6 .3 .6 -1.5 .6 -1.3 .6 -.2 .6 .3 .6 .3 .6 0 .6 0 .6 .2 .6 .3 .6 0 .6 -.2 .6 -.2 .6 -.1 .6 -.1 .6 -.3 .6 -.4 .6 -.2 .6 0 .6 .3 .6 .4 .6 .4 .6 .4 .6 .2 .6 0 .6 -.2 .6 -.3 .6 -.4 .6 -.1 .6 .1 .6 .2 .6 .1 .6 -.1 .6 -.2 .6 .1 .6 .4 .6 .2 .6 -.6 .6 -1.4 .6 -.5 .6 1.9 .6 3.3 .6 1.8 .6 -2.3 .6 -4.8 .6 -3.1 .6 1.0 .6 3.3 .6 2.4 .6 .3 .6 -.9 .6 -.8 .6 -.3 .6 .1 .6 .2 .6 .1 .6 0 .6 0 .6 0 .6 .1 .6 0 .6 0 .6 -.1 .6 -.2 .6 -.4 .6 -.3 .6 0 .6 .1 .6 0 .6 -.3 .6 0 .6 .5 .6 .5 .6 .3 .6 .1 .6 .1 .6 0 .6 -.1 .6 -.1 .6 -.3 .6 -.3 .6 -.1 .6 -.1 .6 .1 .6 .1 .6 .2 .6 .2 .6 .1 .6 -.2 .6 -.2 .6 0 .6 .2 .6 .1 .6 -.2 .6 -.1 .6 0 .6 0 .6 0 .6 -.1 .6 -.1 .6 0 .6 .1 .6 .2 .6 .3 .6 .3 .6 .1 .6 -.1 .6 -.3 .6 -.5 .6 -.4 .6 -.3 .6M367.4 222.7l-.2 .6 0 .6 0 .6 .1 .6 0 .6 0 .6 -.1 .6 -.1 .6 0 .6 .1 .6 0 .6 .1 .6 .2 .6 .1 .6 0 .6 -.1 .6 -.3 .6 -.4 .6 -.2 .6 0 .6 .3 .6 .4 .6 .4 .6 .7 .6 .4 .6 -.1 .6 -.8 .6 -1.0 .6 -.7 .6 -.2 .6 .3 .6 .6 .6 .4 .6 0 .6 -.1 .6 -.1 .6 0 .6 .1 .6 0 .6 .1 .6 .2 .6 -.1 .6 -.2 .6 -.1 .6 0 .6 0 .6 0 .6 .3 .6 .3 .6 .2 .6 -.4 .6 -1.2 .6 -1.2 .6 .6 .6 2.9 .6 3.4 .6 .2 .6 -3.9 .6 -4.9 .6 -1.6 .6 2.3 .6 3.2 .6 1.5 .6 -.3 .6 -1.0 .6 -.6 .6 .1 .6 .6 .6 .4 .6 -.2 .6 -.4 .6 -.2 .6 .2 .6 .2 .6 -.2 .6 -.3 .6 -.2 .6 0 .6 .1 .6 .1 .6 .1 .6 0 .6 0 .6 .1 .6 .1 .6 -.1 .6 0 .6 0 .6 0 .6 0 .6 0 .6 0 .6 -.1 .6 0 .6 .1 .6 0 .6 .1 .6 0 .6 0 .6 -.3 .6 -.8 .6 -.7 .6 .5 .6 2.2 .6 2.2 .6 -.3 .6 -3.3 .6 -3.2 .6 -.2 .6 2.9 .6 2.8 .6 .5 .6 -1.1 .6 -1.0 .6 -.1 .6 .4 .6 0 .6 -.7 .6 -1.1 .6 -.6 .6 .2 .6 .7 .6 .6 .6 .4 .6 .5 .6 .5 .6 0 .6 -.4 .6 -.7 .6 -.6 .6 -.2 .6 .3 .6 .3 .6 .3 .6 0 .6 -.1 .6 -.1 .6 0 .6 .1 .6 .3 .6 .1 .6 -.1 .6 -.4 .6 -.4 .6 -.2 .6 0 .6 .3 .6 .5 .6 .3 .6 0 .6 -.2 .6 -.2 .6 0 .6 .3 .6 .3 .6 .1 .6 -.3 .6 -.6 .6 -.7 .6 -.3 .6 .2 .6 .4 .6 .3 .6 .1 .6 0 .6 -.1 .6 -.2 .6 0 .6 .4 .6 .6 .6 .2 .6 0 .6 -.2 .6M374.8 222.7l-.4 .6 -.3 .6 0 .6 .1 .6 .3 .6 .3 .6 0 .6 -.6 .6 -.6 .6 -.1 .6 .3 .6 .2 .6 .3 .6 .3 .6 .2 .6 .1 .6 .1 .6 .1 .6 -.2 .6 -.5 .6 -.6 .6 -.3 .6 -.1 .6 .3 .6 .4 .6 .4 .6 .2 .6 -.2 .6 -.2 .6 -.2 .6 -.1 .6 .1 .6 .2 .6 .2 .6 0 .6 -.1 .6 -.1 .6 0 .6 0 .6 -.1 .6 .1 .6 .1 .6 .1 .6 .1 .6 -.1 .6 0 .6 0 .6 -.1 .6 -.1 .6 0 .6 -.2 .6 -.8 .6 -1.3 .6 -.2 .6 2.8 .6 4.7 .6 2.4 .6 -2.9 .6 -6.5 .6 -4.4 .6 .9 .6 4.0 .6 2.9 .6 .2 .6 -1.1 .6 -.8 .6 -.1 .6 .3 .6 .2 .6 .1 .6 .1 .6 .1 .6 .1 .6 .1 .6 -.1 .6 -.3 .6 -.2 .6 0 .6 0 .6 .1 .6 0 .6 -.2 .6 -.2 .6 0 .6 .2 .6 .1 .6 0 .6 0 .6 -.1 .6 0 .6 0 .6 0 .6 0 .6 .1 .6 .1 .6 .1 .6 .1 .6 .1 .6 .1 .6 -.2 .6 -.8 .6 -1.1 .6 -.2 .6 1.8 .6 3.2 .6 1.6 .6 -2.2 .6 -4.5 .6 -3.0 .6 .8 .6 3.1 .6 2.4 .6 .3 .6 -1.0 .6 -.7 .6 -.1 .6 .2 .6 .1 .6 -.1 .6 -.1 .6 0 .6 0 .6 -.1 .6 0 .6 .1 .6 .1 .6 -.1 .6 -.1 .6 0 .6 .1 .6 .2 .6 .1 .6 -.2 .6 -.3 .6 -.2 .6 .2 .6 .4 .6 .2 .6 -.1 .6 -.3 .6 -.1 .6 0 .6 0 .6 0 .6 .1 .6 .2 .6 .2 .6 .1 .6 -.3 .6 -.5 .6 -.4 .6 -.1 .6 .3 .6 .5 .6 .3 .6 0 .6 -.3 .6 -.4 .6 -.4 .6 .1 .6 .5 .6 .7 .6 .4 .6 0 .6 -.2 .6 -.3 .6 -.4 .6 -.1 .6 .1 .6 .1 .6 0 .6 -.3 .6 -.3 .6M380.1 222.7l.1 .6 .1 .6 .4 .6 .6 .6 .4 .6 .1 .6 -.1 .6 -.1 .6 -.1 .6 0 .6 .3 .6 .1 .6 -.1 .6 -.4 .6 -.2 .6 0 .6 .2 .6 .2 .6 .1 .6 -.2 .6 -.3 .6 -.2 .6 .1 .6 .4 .6 .4 .6 -.1 .6 -.4 .6 -.2 .6 0 .6 .1 .6 -.1 .6 0 .6 0 .6 .1 .6 .2 .6 .1 .6 -.2 .6 -.1 .6 .2 .6 .1 .6 -.3 .6 -.2 .6 0 .6 .3 .6 .2 .6 -.1 .6 -.1 .6 -.1 .6 0 .6 .1 .6 0 .6 -.4 .6 -1.0 .6 -.8 .6 .7 .6 3.0 .6 3.4 .6 .2 .6 -4.0 .6 -4.8 .6 -1.3 .6 2.7 .6 3.6 .6 1.3 .6 -1.2 .6 -1.8 .6 -.9 .6 .1 .6 .6 .6 .6 .6 .3 .6 -.1 .6 -.4 .6 -.3 .6 0 .6 .4 .6 .4 .6 .2 .6 -.1 .6 -.1 .6 0 .6 0 .6 .1 .6 0 .6 -.3 .6 -.3 .6 -.3 .6 0 .6 0 .6 .2 .6 .1 .6 .1 .6 .1 .6 0 .6 .1 .6 0 .6 .1 .6 .1 .6 -.1 .6 -.3 .6 -.7 .6 -.9 .6 .1 .6 2.4 .6 3.2 .6 .7 .6 -3.4 .6 -4.4 .6 -1.5 .6 2.1 .6 3.0 .6 1.3 .6 -.6 .6 -1.1 .6 -.7 .6 -.1 .6 .1 .6 .2 .6 .2 .6 .3 .6 .1 .6 .1 .6 0 .6 0 .6 0 .6 .1 .6 .1 .6 -.1 .6 -.2 .6 -.2 .6 0 .6 0 .6 -.1 .6 -.1 .6 0 .6 .1 .6 0 .6 0 .6 -.1 .6 -.2 .6 -.1 .6 .2 .6 .3 .6 .2 .6 .1 .6 0 .6 -.1 .6 -.2 .6 -.1 .6 .1 .6 .1 .6 -.1 .6 -.3 .6 -.1 .6 .1 .6 .1 .6 .1 .6 .2 .6 0 .6 .1 .6 .3 .6 .4 .6 -.1 .6 -.6 .6 -.9 .6 -.6 .6 -.1 .6 .2 .6 .5 .6 .8 .6 .7 .6 .2 .6 0 .6M388.7 222.7l.1 .6 -.1 .6 -.4 .6 -.3 .6 .1 .6 .1 .6 .2 .6 .2 .6 .1 .6 -.1 .6 -.3 .6 -.2 .6 .2 .6 .2 .6 .1 .6 -.2 .6 -.2 .6 0 .6 0 .6 0 .6 .1 .6 .2 .6 .3 .6 .1 .6 -.1 .6 -.3 .6 -.3 .6 0 .6 .2 .6 .1 .6 -.1 .6 -.2 .6 0 .6 .1 .6 .1 .6 .1 .6 .1 .6 0 .6 .1 .6 0 .6 0 .6 -.1 .6 -.2 .6 0 .6 .1 .6 0 .6 -.3 .6 -.2 .6 .3 .6 .5 .6 0 .6 -.9 .6 -1.6 .6 -.4 .6 2.4 .6 3.7 .6 1.4 .6 -3.0 .6 -5.1 .6 -2.5 .6 2.0 .6 3.8 .6 2.2 .6 -.3 .6 -1.4 .6 -.8 .6 -.1 .6 0 .6 0 .6 .2 .6 .4 .6 .3 .6 .1 .6 -.2 .6 -.3 .6 -.3 .6 -.2 .6 0 .6 .1 .6 0 .6 -.1 .6 0 .6 0 .6 0 .6 .2 .6 .4 .6 .4 .6 -.1 .6 -.5 .6 -.7 .6 -.2 .6 .1 .6 .3 .6 .3 .6 0 .6 -.2 .6 0 .6 .1 .6 .2 .6 .1 .6 -.3 .6 -.3 .6 0 .6 .5 .6 1.0 .6 .7 .6 -.4 .6 -1.5 .6 -1.4 .6 -.4 .6 .8 .6 1.1 .6 .4 .6 -.1 .6 .1 .6 .3 .6 .4 .6 -.2 .6 -.9 .6 -1.0 .6 -.3 .6 .5 .6 .8 .6 .4 .6 -.1 .6 -.3 .6 -.1 .6 0 .6 .3 .6 .2 .6 -.1 .6 -.2 .6 0 .6 .1 .6 .1 .6 -.1 .6 -.1 .6 0 .6 -.1 .6 -.1 .6 -.1 .6 0 .6 .1 .6 0 .6 .1 .6 0 .6 -.1 .6 -.1 .6 .1 .6 .1 .6 .2 .6 .3 .6 0 .6 -.3 .6 -.4 .6 -.2 .6 0 .6 .1 .6 .2 .6 .2 .6 .2 .6 .2 .6 -.1 .6 -.3 .6 -.4 .6 -.2 .6 .2 .6 .5 .6 .2 .6 0 .6 -.2 .6 -.3 .6 -.1 .6M395.8 222.7l0 .6 0 .6 .1 .6 -.2 .6 -.3 .6 -.2 .6 0 .6 .2 .6 0 .6 -.2 .6 -.1 .6 .1 .6 0 .6 0 .6 0 .6 .4 .6 .4 .6 .1 .6 -.3 .6 -.3 .6 -.1 .6 .2 .6 .2 .6 .1 .6 -.3 .6 -.4 .6 -.2 .6 .1 .6 .2 .6 .2 .6 .1 .6 0 .6 -.2 .6 -.2 .6 .1 .6 .4 .6 .3 .6 -.2 .6 -.4 .6 -.2 .6 0 .6 .1 .6 .1 .6 .3 .6 .2 .6 -.1 .6 -.3 .6 -.2 .6 0 .6 .2 .6 -.3 .6 -1.1 .6 -.6 .6 1.9 .6 4.1 .6 2.7 .6 -2.2 .6 -6.1 .6 -4.7 .6 .5 .6 4.3 .6 3.4 .6 .3 .6 -1.4 .6 -1.1 .6 -.2 .6 .4 .6 .2 .6 .1 .6 -.1 .6 -.1 .6 -.1 .6 -.2 .6 -.1 .6 0 .6 .2 .6 .2 .6 .1 .6 -.1 .6 -.1 .6 .2 .6 .1 .6 0 .6 -.1 .6 -.3 .6 -.1 .6 .1 .6 .2 .6 .3 .6 .1 .6 -.1 .6 -.1 .6 0 .6 0 .6 -.1 .6 -.2 .6 0 .6 .2 .6 .2 .6 -.1 .6 -.4 .6 -.6 .6 -.4 .6 .5 .6 1.2 .6 .8 .6 -.3 .6 -1.2 .6 -.8 .6 .3 .6 .8 .6 .3 .6 -.2 .6 -.5 .6 -.2 .6 .4 .6 .6 .6 .3 .6 -.6 .6 -.8 .6 -.2 .6 .5 .6 .7 .6 .5 .6 -.1 .6 -.6 .6 -.5 .6 -.3 .6 .1 .6 .3 .6 .2 .6 .2 .6 -.1 .6 -.3 .6 -.3 .6 -.1 .6 .1 .6 .3 .6 .3 .6 .3 .6 .1 .6 -.1 .6 -.3 .6 -.1 .6 -.1 .6 .1 .6 0 .6 .1 .6 0 .6 0 .6 0 .6 -.1 .6 -.2 .6 -.1 .6 -.1 .6 .1 .6 .1 .6 .1 .6 0 .6 .1 .6 .3 .6 .3 .6 .1 .6 -.2 .6 -.4 .6 -.3 .6 -.1 .6 .1 .6 0 .6 0 .6 .1 .6 .1 .6 0 .6M402.0 222.7l.2 .6 .3 .6 .3 .6 .2 .6 0 .6 -.1 .6 -.2 .6 -.1 .6 -.2 .6 -.2 .6 -.1 .6 0 .6 .1 .6 .2 .6 .2 .6 .2 .6 .1 .6 0 .6 -.1 .6 -.2 .6 0 .6 0 .6 0 .6 -.1 .6 0 .6 .1 .6 0 .6 -.1 .6 -.2 .6 0 .6 .1 .6 .3 .6 .4 .6 .2 .6 0 .6 -.2 .6 -.4 .6 -.3 .6 -.2 .6 0 .6 0 .6 0 .6 .1 .6 .1 .6 0 .6 0 .6 0 .6 .1 .6 .3 .6 .3 .6 -.1 .6 -.9 .6 -1.5 .6 -.4 .6 2.2 .6 4.0 .6 2.3 .6 -2.2 .6 -5.4 .6 -4.0 .6 .7 .6 3.6 .6 2.8 .6 .1 .6 -1.4 .6 -.9 .6 0 .6 .6 .6 .4 .6 .2 .6 -.2 .6 -.3 .6 -.1 .6 .1 .6 .1 .6 -.2 .6 -.3 .6 -.3 .6 0 .6 .3 .6 .3 .6 .1 .6 0 .6 0 .6 0 .6 0 .6 -.3 .6 -.3 .6 -.1 .6 .2 .6 .3 .6 .3 .6 .2 .6 0 .6 -.2 .6 -.2 .6 -.1 .6 -.1 .6 .2 .6 .3 .6 0 .6 -.4 .6 -.5 .6 -.1 .6 .7 .6 .8 .6 -.1 .6 -1.0 .6 -1.0 .6 0 .6 .9 .6 .9 .6 .2 .6 -.6 .6 -.5 .6 .2 .6 .8 .6 .7 .6 -.2 .6 -1.3 .6 -1.3 .6 -.2 .6 .8 .6 1.0 .6 .5 .6 -.2 .6 -.2 .6 -.2 .6 0 .6 .1 .6 .2 .6 .2 .6 -.2 .6 -.5 .6 -.3 .6 .1 .6 .2 .6 .1 .6 -.1 .6 0 .6 .1 .6 .2 .6 .1 .6 0 .6 -.1 .6 -.1 .6 -.2 .6 -.1 .6 0 .6 .2 .6 .1 .6 .1 .6 -.1 .6 0 .6 0 .6 .1 .6 .1 .6 -.1 .6 -.1 .6 -.2 .6 -.3 .6 -.1 .6 0 .6 .2 .6 .1 .6 .1 .6 .3 .6 .5 .6 .2 .6 -.3 .6 -.2 .6 -.1 .6 0 .6M410.9 222.7l-.2 .6 -.4 .6 -.5 .6 -.7 .6 -.5 .6 -.2 .6 .2 .6 .5 .6 .4 .6 .2 .6 .2 .6 .2 .6 .1 .6 0 .6 -.3 .6 -.2 .6 -.2 .6 -.1 .6 -.1 .6 0 .6 .2 .6 0 .6 0 .6 0 .6 .1 .6 .1 .6 .2 .6 0 .6 0 .6 -.1 .6 -.2 .6 -.1 .6 .1 .6 0 .6 .1 .6 0 .6 0 .6 -.1 .6 -.3 .6 -.3 .6 0 .6 .2 .6 .4 .6 .3 .6 0 .6 0 .6 .1 .6 .2 .6 0 .6 -.3 .6 -.8 .6 -1.3 .6 -.9 .6 1.3 .6 3.8 .6 3.6 .6 -.6 .6 -5.0 .6 -5.0 .6 -.8 .6 3.2 .6 3.5 .6 .9 .6 -1.1 .6 -1.3 .6 -.5 .6 .1 .6 .4 .6 .3 .6 .3 .6 0 .6 -.1 .6 -.2 .6 -.2 .6 -.1 .6 0 .6 .1 .6 0 .6 .1 .6 -.1 .6 0 .6 .2 .6 .3 .6 .1 .6 -.1 .6 -.3 .6 -.3 .6 -.3 .6 -.2 .6 .1 .6 .3 .6 .3 .6 .1 .6 0 .6 -.1 .6 .1 .6 .1 .6 .1 .6 0 .6 -.2 .6 -.5 .6 -.4 .6 .1 .6 .9 .6 1.2 .6 .4 .6 -1.0 .6 -1.4 .6 -.7 .6 .5 .6 .9 .6 .5 .6 -.1 .6 -.5 .6 -.3 .6 .4 .6 .7 .6 0 .6 -.9 .6 -1.0 .6 -.3 .6 .7 .6 .9 .6 .5 .6 0 .6 -.3 .6 -.3 .6 -.2 .6 .1 .6 .1 .6 -.1 .6 -.2 .6 0 .6 .1 .6 .1 .6 .1 .6 .3 .6 .1 .6 -.3 .6 -.5 .6 -.3 .6 .1 .6 .2 .6 .3 .6 .1 .6 .1 .6 0 .6 -.1 .6 -.2 .6 -.1 .6 0 .6 0 .6 0 .6 -.1 .6 0 .6 .3 .6 .3 .6 .3 .6 0 .6 -.2 .6 -.1 .6 -.1 .6 -.2 .6 -.1 .6 0 .6 -.1 .6 -.2 .6 -.2 .6 .2 .6 .4 .6 .3 .6 0 .6 -.2 .6M416.2 222.7l.3 .6 .2 .6 0 .6 0 .6 .1 .6 .2 .6 0 .6 -.3 .6 -.4 .6 -.2 .6 .3 .6 .6 .6 .2 .6 -.1 .6 -.2 .6 -.1 .6 -.1 .6 0 .6 0 .6 0 .6 .1 .6 0 .6 .2 .6 .1 .6 -.2 .6 -.4 .6 -.2 .6 0 .6 .2 .6 0 .6 0 .6 0 .6 0 .6 -.1 .6 -.1 .6 0 .6 .2 .6 .2 .6 .3 .6 .3 .6 .2 .6 -.2 .6 -.3 .6 -.3 .6 -.1 .6 -.1 .6 0 .6 .1 .6 .2 .6 .3 .6 -.3 .6 -1.1 .6 -1.2 .6 .6 .6 3.4 .6 3.7 .6 -.1 .6 -4.9 .6 -5.7 .6 -1.5 .6 3.2 .6 4.1 .6 1.8 .6 -.5 .6 -1.1 .6 -.6 .6 0 .6 0 .6 -.2 .6 -.1 .6 -.1 .6 0 .6 .1 .6 .1 .6 .2 .6 .1 .6 -.1 .6 -.3 .6 -.2 .6 .1 .6 .3 .6 .1 .6 -.1 .6 -.4 .6 -.2 .6 0 .6 .2 .6 0 .6 .1 .6 .2 .6 .3 .6 .1 .6 -.2 .6 -.2 .6 0 .6 .1 .6 .1 .6 0 .6 0 .6 -.1 .6 -.2 .6 -.4 .6 -.2 .6 .5 .6 1.0 .6 .5 .6 -.7 .6 -1.3 .6 -1.0 .6 .3 .6 1.2 .6 .8 .6 0 .6 -.6 .6 -.4 .6 .3 .6 .6 .6 .4 .6 -.4 .6 -.9 .6 -.8 .6 .1 .6 .9 .6 1.1 .6 .4 .6 -.5 .6 -.8 .6 -.5 .6 -.1 .6 .2 .6 .1 .6 .1 .6 .1 .6 .2 .6 .2 .6 .2 .6 -.2 .6 -.2 .6 -.2 .6 .1 .6 -.1 .6 -.3 .6 -.1 .6 .2 .6 .4 .6 .3 .6 0 .6 -.1 .6 -.1 .6 -.1 .6 -.3 .6 -.3 .6 -.2 .6 0 .6 .3 .6 .3 .6 0 .6 -.2 .6 -.1 .6 .2 .6 .3 .6 .3 .6 .4 .6 .3 .6 -.2 .6 -.4 .6 -.1 .6 .3 .6 0 .6 -.7 .6 -.7 .6 -.6 .6 -.3 .6M424.4 222.7l0 .6 -.2 .6 -.3 .6 -.3 .6 -.1 .6 -.1 .6 0 .6 -.1 .6 .1 .6 .2 .6 .3 .6 .1 .6 .1 .6 -.1 .6 -.1 .6 -.3 .6 -.2 .6 -.1 .6 .1 .6 .2 .6 .3 .6 .1 .6 .1 .6 0 .6 -.1 .6 -.1 .6 -.3 .6 -.2 .6 -.1 .6 0 .6 .2 .6 0 .6 -.1 .6 0 .6 0 .6 .1 .6 .2 .6 .1 .6 .2 .6 .3 .6 .2 .6 0 .6 -.3 .6 -.3 .6 -.3 .6 0 .6 .1 .6 .3 .6 .4 .6 -.1 .6 -.8 .6 -1.3 .6 -.8 .6 1.2 .6 3.2 .6 2.5 .6 -1.1 .6 -4.3 .6 -3.6 .6 .2 .6 3.0 .6 2.5 .6 .5 .6 -.8 .6 -.7 .6 -.1 .6 .1 .6 -.1 .6 -.3 .6 -.3 .6 -.1 .6 .2 .6 .3 .6 .2 .6 .1 .6 -.1 .6 -.1 .6 -.1 .6 -.1 .6 0 .6 .2 .6 .1 .6 .1 .6 -.1 .6 -.2 .6 -.3 .6 -.1 .6 0 .6 .1 .6 .2 .6 .2 .6 .1 .6 .2 .6 .1 .6 .2 .6 -.1 .6 -.2 .6 -.5 .6 -.2 .6 -.1 .6 0 .6 -.2 .6 -.1 .6 .5 .6 1.0 .6 .7 .6 -.4 .6 -1.3 .6 -1.0 .6 .2 .6 .9 .6 .6 .6 -.1 .6 -.5 .6 -.1 .6 .5 .6 .7 .6 0 .6 -1.0 .6 -1.2 .6 -.3 .6 .7 .6 1.0 .6 .5 .6 -.1 .6 -.3 .6 -.2 .6 -.1 .6 -.1 .6 .1 .6 .2 .6 .2 .6 -.1 .6 -.2 .6 -.2 .6 -.1 .6 0 .6 .1 .6 .1 .6 .1 .6 0 .6 0 .6 -.1 .6 -.1 .6 0 .6 .1 .6 0 .6 .2 .6 .1 .6 -.1 .6 -.1 .6 -.1 .6 .1 .6 .2 .6 .1 .6 -.1 .6 -.3 .6 -.4 .6 -.4 .6 -.1 .6 .2 .6 .5 .6 .6 .6 .4 .6 .1 .6 -.3 .6 -.4 .6 -.5 .6 -.2 .6 .2 .6 .4 .6 .2 .6 0 .6M430.7 222.7l-.1 .6 0 .6 .2 .6 .3 .6 .3 .6 0 .6 -.3 .6 -.4 .6 -.2 .6 .1 .6 .2 .6 0 .6 -.2 .6 -.2 .6 -.1 .6 .1 .6 .3 .6 .3 .6 .2 .6 0 .6 0 .6 0 .6 -.1 .6 -.2 .6 -.4 .6 -.2 .6 0 .6 .2 .6 .3 .6 .1 .6 .1 .6 0 .6 -.1 .6 -.3 .6 -.4 .6 -.1 .6 .2 .6 .4 .6 .6 .6 .3 .6 -.3 .6 -.4 .6 -.3 .6 -.1 .6 .2 .6 .2 .6 .2 .6 .2 .6 0 .6 -.5 .6 -1.2 .6 -1.1 .6 .7 .6 3.4 .6 3.9 .6 .2 .6 -4.7 .6 -5.9 .6 -1.9 .6 2.9 .6 4.2 .6 2.0 .6 -.7 .6 -1.4 .6 -.7 .6 0 .6 .4 .6 .3 .6 .1 .6 -.2 .6 -.3 .6 -.2 .6 0 .6 0 .6 0 .6 0 .6 0 .6 0 .6 .1 .6 .1 .6 0 .6 0 .6 0 .6 .1 .6 0 .6 -.1 .6 -.1 .6 -.1 .6 0 .6 .2 .6 .3 .6 .3 .6 -.1 .6 -.4 .6 -.3 .6 -.1 .6 .1 .6 .1 .6 .1 .6 0 .6 -.1 .6 -.2 .6 -.2 .6 .2 .6 .7 .6 .9 .6 .1 .6 -1.1 .6 -1.4 .6 -.5 .6 .8 .6 .9 .6 .3 .6 -.4 .6 -.3 .6 .5 .6 .9 .6 .2 .6 -.7 .6 -1.2 .6 -.5 .6 .4 .6 .6 .6 .2 .6 0 .6 -.1 .6 -.1 .6 0 .6 .1 .6 .1 .6 -.1 .6 0 .6 0 .6 0 .6 -.1 .6 0 .6 .2 .6 .3 .6 .1 .6 -.2 .6 -.3 .6 -.4 .6 -.3 .6 -.1 .6 .3 .6 .3 .6 .1 .6 0 .6 .2 .6 .3 .6 .4 .6 .1 .6 0 .6 0 .6 .4 .6 .2 .6 -.5 .6 -1.4 .6 -1.5 .6 -.7 .6 .5 .6 1.2 .6 .6 .6 -.2 .6 -.2 .6 .8 .6 1.3 .6 .5 .6 -.5 .6 -1.0 .6 -.7 .6 -.4 .6 -.1 .6"/>
<rect x="316.0" y="222.2" width="207.0" height="105.0" fill="none" stroke="#7c7c7c" stroke-width="0.9"/>
<line x1="312.00" y1="233.50" x2="316.00" y2="233.50" stroke="#555" stroke-width="0.9"/>
<text x="306.0" y="238.1" font-size="12.6" text-anchor="end" font-weight="normal" fill="#000" letter-spacing="0.3">200</text>
<line x1="314.00" y1="245.21" x2="316.00" y2="245.21" stroke="#555" stroke-width="0.9"/>
<line x1="312.00" y1="256.93" x2="316.00" y2="256.93" stroke="#555" stroke-width="0.9"/>
<text x="306.0" y="261.5" font-size="12.6" text-anchor="end" font-weight="normal" fill="#000" letter-spacing="0.3">400</text>
<line x1="314.00" y1="268.64" x2="316.00" y2="268.64" stroke="#555" stroke-width="0.9"/>
<line x1="312.00" y1="280.35" x2="316.00" y2="280.35" stroke="#555" stroke-width="0.9"/>
<text x="306.0" y="285.0" font-size="12.6" text-anchor="end" font-weight="normal" fill="#000" letter-spacing="0.3">600</text>
<line x1="314.00" y1="292.06" x2="316.00" y2="292.06" stroke="#555" stroke-width="0.9"/>
<line x1="312.00" y1="303.77" x2="316.00" y2="303.77" stroke="#555" stroke-width="0.9"/>
<text x="306.0" y="308.4" font-size="12.6" text-anchor="end" font-weight="normal" fill="#000" letter-spacing="0.3">800</text>
<line x1="314.00" y1="315.49" x2="316.00" y2="315.49" stroke="#555" stroke-width="0.9"/>
<line x1="312.00" y1="327.20" x2="316.00" y2="327.20" stroke="#555" stroke-width="0.9"/>
<text x="306.0" y="331.8" font-size="12.6" text-anchor="end" font-weight="normal" fill="#000" letter-spacing="0.3">1000</text>
<line x1="337.70" y1="327.20" x2="337.70" y2="330.80" stroke="#505050" stroke-width="0.8"/>
<text x="337.7" y="347.8" font-size="12.8" text-anchor="middle" font-weight="normal" fill="#000" >114</text>
<line x1="361.20" y1="327.20" x2="361.20" y2="329.20" stroke="#505050" stroke-width="0.8"/>
<line x1="384.70" y1="327.20" x2="384.70" y2="330.80" stroke="#505050" stroke-width="0.8"/>
<text x="384.7" y="347.8" font-size="12.8" text-anchor="middle" font-weight="normal" fill="#000" >116</text>
<line x1="408.20" y1="327.20" x2="408.20" y2="329.20" stroke="#505050" stroke-width="0.8"/>
<line x1="431.70" y1="327.20" x2="431.70" y2="330.80" stroke="#505050" stroke-width="0.8"/>
<text x="431.7" y="347.8" font-size="12.8" text-anchor="middle" font-weight="normal" fill="#000" >118</text>
<line x1="455.20" y1="327.20" x2="455.20" y2="329.20" stroke="#505050" stroke-width="0.8"/>
<line x1="478.70" y1="327.20" x2="478.70" y2="330.80" stroke="#505050" stroke-width="0.8"/>
<text x="478.7" y="347.8" font-size="12.8" text-anchor="middle" font-weight="normal" fill="#000" >120</text>
<line x1="502.20" y1="327.20" x2="502.20" y2="329.20" stroke="#505050" stroke-width="0.8"/>
<text x="420.0" y="368.7" font-size="14.4" text-anchor="middle" font-weight="normal" fill="#000" >Longitude (°E)</text>
<text x="508.8" y="239.6" font-size="19" text-anchor="middle" font-weight="bold" fill="#000" >d</text>
<text transform="translate(12.6,42.4) rotate(-90)" font-size="14.4" text-anchor="middle" fill="#111">Elevation (m)</text>
<text transform="translate(12.6,134.5) rotate(-90)" font-size="14.4" text-anchor="middle" fill="#111">Depth (km)</text>
<text transform="translate(12.6,274.2) rotate(-90)" font-size="14.4" text-anchor="middle" fill="#111">Depth (km)</text>
<clipPath id="clipe"><rect x="582.3" y="21.3" width="129.9" height="317.3"/></clipPath>
<g clip-path="url(#clipe)">
<polyline points="592.0,21.3 604.7,66.6 612.2,108.8 627.8,113.3 635.6,148.2 644.7,162.7 648.9,202.6 650.5,224.8 670.6,226.2 674.9,238.9 679.7,257.0 683.3,275.1 685.6,293.3 687.8,315.9 689.1,338.6" fill="none" stroke="#f01414" stroke-width="2.1" stroke-linejoin="round" />
<polyline points="596.9,21.3 609.6,66.6 615.7,109.7 626.5,113.3 634.3,148.2 642.1,161.8 646.0,202.6 647.9,226.2 655.4,228.0 660.9,234.3 667.4,247.9 674.9,270.6 680.7,293.3 684.6,315.9 687.2,338.6" fill="none" stroke="#35b4c2" stroke-width="2.1" stroke-linejoin="round" />
<polyline points="592.0,21.3 604.7,66.6 612.2,108.8 627.8,113.3 635.6,148.2 644.7,162.7 648.9,202.6 650.5,224.8 655.7,227.1 661.2,234.3 667.7,247.9 674.5,266.1 681.7,279.7 685.6,293.3 687.8,315.9 689.1,338.6" fill="none" stroke="#111" stroke-width="2.1" stroke-linejoin="round" stroke-dasharray="9 5.5"/>
</g>
<rect x="582.3" y="21.3" width="129.9" height="317.3" fill="none" stroke="#5a5a5a" stroke-width="0.9"/>
<line x1="582.30" y1="21.30" x2="585.80" y2="21.30" stroke="#5a5a5a" stroke-width="0.8"/>
<line x1="708.70" y1="21.30" x2="712.20" y2="21.30" stroke="#5a5a5a" stroke-width="0.8"/>
<text x="579.6" y="26.1" font-size="13.2" text-anchor="end" font-weight="normal" fill="#000" letter-spacing="0.35">200</text>
<line x1="582.30" y1="66.63" x2="585.80" y2="66.63" stroke="#5a5a5a" stroke-width="0.8"/>
<line x1="708.70" y1="66.63" x2="712.20" y2="66.63" stroke="#5a5a5a" stroke-width="0.8"/>
<text x="579.6" y="71.4" font-size="13.2" text-anchor="end" font-weight="normal" fill="#000" letter-spacing="0.35">300</text>
<line x1="582.30" y1="111.96" x2="585.80" y2="111.96" stroke="#5a5a5a" stroke-width="0.8"/>
<line x1="708.70" y1="111.96" x2="712.20" y2="111.96" stroke="#5a5a5a" stroke-width="0.8"/>
<text x="579.6" y="116.8" font-size="13.2" text-anchor="end" font-weight="normal" fill="#000" letter-spacing="0.35">400</text>
<line x1="582.30" y1="157.29" x2="585.80" y2="157.29" stroke="#5a5a5a" stroke-width="0.8"/>
<line x1="708.70" y1="157.29" x2="712.20" y2="157.29" stroke="#5a5a5a" stroke-width="0.8"/>
<text x="579.6" y="162.1" font-size="13.2" text-anchor="end" font-weight="normal" fill="#000" letter-spacing="0.35">500</text>
<line x1="582.30" y1="202.61" x2="585.80" y2="202.61" stroke="#5a5a5a" stroke-width="0.8"/>
<line x1="708.70" y1="202.61" x2="712.20" y2="202.61" stroke="#5a5a5a" stroke-width="0.8"/>
<text x="579.6" y="207.4" font-size="13.2" text-anchor="end" font-weight="normal" fill="#000" letter-spacing="0.35">600</text>
<line x1="582.30" y1="247.94" x2="585.80" y2="247.94" stroke="#5a5a5a" stroke-width="0.8"/>
<line x1="708.70" y1="247.94" x2="712.20" y2="247.94" stroke="#5a5a5a" stroke-width="0.8"/>
<text x="579.6" y="252.7" font-size="13.2" text-anchor="end" font-weight="normal" fill="#000" letter-spacing="0.35">700</text>
<line x1="582.30" y1="293.27" x2="585.80" y2="293.27" stroke="#5a5a5a" stroke-width="0.8"/>
<line x1="708.70" y1="293.27" x2="712.20" y2="293.27" stroke="#5a5a5a" stroke-width="0.8"/>
<text x="579.6" y="298.1" font-size="13.2" text-anchor="end" font-weight="normal" fill="#000" letter-spacing="0.35">800</text>
<line x1="582.30" y1="338.60" x2="585.80" y2="338.60" stroke="#5a5a5a" stroke-width="0.8"/>
<line x1="708.70" y1="338.60" x2="712.20" y2="338.60" stroke="#5a5a5a" stroke-width="0.8"/>
<text x="579.6" y="343.4" font-size="13.2" text-anchor="end" font-weight="normal" fill="#000" letter-spacing="0.35">900</text>
<line x1="582.30" y1="335.10" x2="582.30" y2="338.60" stroke="#5a5a5a" stroke-width="0.8"/>
<line x1="582.30" y1="21.30" x2="582.30" y2="24.80" stroke="#5a5a5a" stroke-width="0.8"/>
<text x="582.3" y="354.1" font-size="13.2" text-anchor="middle" font-weight="normal" fill="#000" >8</text>
<line x1="647.25" y1="335.10" x2="647.25" y2="338.60" stroke="#5a5a5a" stroke-width="0.8"/>
<line x1="647.25" y1="21.30" x2="647.25" y2="24.80" stroke="#5a5a5a" stroke-width="0.8"/>
<text x="647.2" y="354.1" font-size="13.2" text-anchor="middle" font-weight="normal" fill="#000" >10</text>
<line x1="712.20" y1="335.10" x2="712.20" y2="338.60" stroke="#5a5a5a" stroke-width="0.8"/>
<line x1="712.20" y1="21.30" x2="712.20" y2="24.80" stroke="#5a5a5a" stroke-width="0.8"/>
<text x="712.2" y="354.1" font-size="13.2" text-anchor="middle" font-weight="normal" fill="#000" >12</text>
<rect x="583.3" y="22.3" width="128.5" height="46.6" fill="#fff" stroke="#5a5a5a" stroke-width="0.9"/>
<line x1="591.30" y1="31.20" x2="629.00" y2="31.20" stroke="#f01414" stroke-width="2.0"/>
<line x1="591.30" y1="45.60" x2="629.00" y2="45.60" stroke="#35b4c2" stroke-width="2.0"/>
<line x1="591.3" y1="59.7" x2="629" y2="59.7" stroke="#111" stroke-width="2.0" stroke-dasharray="8 5.2 10 5.2 10 5"/>
<text x="634.0" y="35.4" font-size="12" text-anchor="start" font-weight="normal" fill="#000" >Pyrolite</text>
<text x="634.0" y="49.8" font-size="12" text-anchor="start" font-weight="normal" fill="#000" >+30% Basalt</text>
<text x="634.0" y="63.9" font-size="12" text-anchor="start" font-weight="normal" fill="#000" >New</text>
<text x="696.4" y="98.0" font-size="19" text-anchor="middle" font-weight="bold" fill="#000" >e</text>
<text x="642.9" y="371.3" font-size="14.9" text-anchor="middle" font-weight="normal" fill="#000" letter-spacing="0.2">Velocity (km/s)</text>
<text transform="translate(549.6,192.7) rotate(-90)" font-size="14.5" letter-spacing="0.17" text-anchor="middle" fill="#111">Depth (km)</text>
<defs><linearGradient id="cbt" x1="0" x2="1" y1="0" y2="0"><stop offset="0.0000" stop-color="#a01428"/><stop offset="0.1250" stop-color="#e03e36"/><stop offset="0.2500" stop-color="#faa664"/><stop offset="0.3750" stop-color="#ffe2a4"/><stop offset="0.4850" stop-color="#fffcf0"/><stop offset="0.5000" stop-color="#ffffff"/><stop offset="0.5150" stop-color="#f8fdff"/><stop offset="0.6250" stop-color="#def3fe"/><stop offset="0.7500" stop-color="#96d0f2"/><stop offset="0.8750" stop-color="#4282c4"/><stop offset="1.0000" stop-color="#283e82"/></linearGradient><linearGradient id="cbm" x1="0" x2="1" y1="0" y2="0"><stop offset="0.0000" stop-color="#6e0016"/><stop offset="0.0500" stop-color="#aa0c1c"/><stop offset="0.1250" stop-color="#d62820"/><stop offset="0.2000" stop-color="#ec6026"/><stop offset="0.2500" stop-color="#f48232"/><stop offset="0.3100" stop-color="#faaa4b"/><stop offset="0.3750" stop-color="#fdcd73"/><stop offset="0.4400" stop-color="#ffeab4"/><stop offset="0.4800" stop-color="#fff9e8"/><stop offset="0.5000" stop-color="#ffffff"/><stop offset="0.5250" stop-color="#f0f8fd"/><stop offset="0.5600" stop-color="#daedf9"/><stop offset="0.6250" stop-color="#aad6f0"/><stop offset="0.6900" stop-color="#6eb2e2"/><stop offset="0.7500" stop-color="#4092d0"/><stop offset="0.8250" stop-color="#266eb8"/><stop offset="0.9000" stop-color="#184a94"/><stop offset="0.9600" stop-color="#0e2e6e"/><stop offset="1.0000" stop-color="#081c50"/></linearGradient><linearGradient id="cbb" x1="0" x2="1" y1="0" y2="0"><stop offset="0.0000" stop-color="#460006"/><stop offset="0.1250" stop-color="#80040c"/><stop offset="0.2500" stop-color="#963a0c"/><stop offset="0.3750" stop-color="#987014"/><stop offset="0.4975" stop-color="#867424"/><stop offset="0.5025" stop-color="#1a6478"/><stop offset="0.6250" stop-color="#165880"/><stop offset="0.7500" stop-color="#0c4070"/><stop offset="0.8750" stop-color="#082050"/><stop offset="1.0000" stop-color="#040a32"/></linearGradient><linearGradient id="m1" x1="0" x2="0" y1="0" y2="1"><stop offset="0" stop-color="#fff"/><stop offset="0.08" stop-color="#fff"/><stop offset="0.5" stop-color="#000"/><stop offset="1" stop-color="#000"/></linearGradient><linearGradient id="m2" x1="0" x2="0" y1="0" y2="1"><stop offset="0" stop-color="#000"/><stop offset="0.38" stop-color="#000"/><stop offset="0.85" stop-color="#fff"/><stop offset="1" stop-color="#fff"/></linearGradient><mask id="mk1" maskContentUnits="userSpaceOnUse"><rect x="60.5" y="389.6" width="156.2" height="10.0" fill="url(#m1)"/></mask><mask id="mk2" maskContentUnits="userSpaceOnUse"><rect x="60.5" y="389.6" width="156.2" height="10.0" fill="url(#m2)"/></mask></defs>
<rect x="60.5" y="389.6" width="156.2" height="10.0" fill="url(#cbm)"/>
<rect x="60.5" y="389.6" width="156.2" height="10.0" fill="url(#cbt)" mask="url(#mk1)"/>
<rect x="60.5" y="389.6" width="156.2" height="10.0" fill="url(#cbb)" mask="url(#mk2)"/>
<rect x="60.5" y="389.6" width="156.2" height="10.0" fill="none" stroke="#555" stroke-width="0.8"/>
<line x1="60.50" y1="399.60" x2="60.50" y2="402.20" stroke="#444" stroke-width="0.8"/>
<text x="60.5" y="418.7" font-size="12.7" text-anchor="middle" font-weight="normal" fill="#000" >−1.0</text>
<line x1="99.55" y1="399.60" x2="99.55" y2="402.20" stroke="#444" stroke-width="0.8"/>
<text x="99.5" y="418.7" font-size="12.7" text-anchor="middle" font-weight="normal" fill="#000" >−0.5</text>
<line x1="138.60" y1="399.60" x2="138.60" y2="402.20" stroke="#444" stroke-width="0.8"/>
<text x="138.6" y="418.7" font-size="12.7" text-anchor="middle" font-weight="normal" fill="#000" >0.0</text>
<line x1="177.65" y1="399.60" x2="177.65" y2="402.20" stroke="#444" stroke-width="0.8"/>
<text x="177.6" y="418.7" font-size="12.7" text-anchor="middle" font-weight="normal" fill="#000" >0.5</text>
<line x1="216.70" y1="399.60" x2="216.70" y2="402.20" stroke="#444" stroke-width="0.8"/>
<text x="216.7" y="418.7" font-size="12.7" text-anchor="middle" font-weight="normal" fill="#000" >1.0</text>
<text x="223.2" y="398.9" font-size="12.5" text-anchor="start" font-weight="normal" fill="#000" >Vp (%)</text>
<rect x="280.8" y="390.3" width="86.4" height="9.4" fill="#e3f0e2"/>
<rect x="406" y="390.3" width="86" height="9.4" fill="#4a9ccf"/>
<rect x="538.6" y="390.3" width="87" height="9.4" fill="#6f9f6e"/>
<text x="323.7" y="418.8" font-size="12.7" text-anchor="middle" font-weight="normal" fill="#000" >Pyrolite Model</text>
<text x="449.6" y="418.8" font-size="12.5" text-anchor="middle" font-weight="normal" fill="#000" >High-speed Slab</text>
<text x="586.8" y="418.8" font-size="12.35" text-anchor="middle" font-weight="normal" fill="#000" >70% Pyrolite + 30% MORB</text>
</svg>
</body></html>
